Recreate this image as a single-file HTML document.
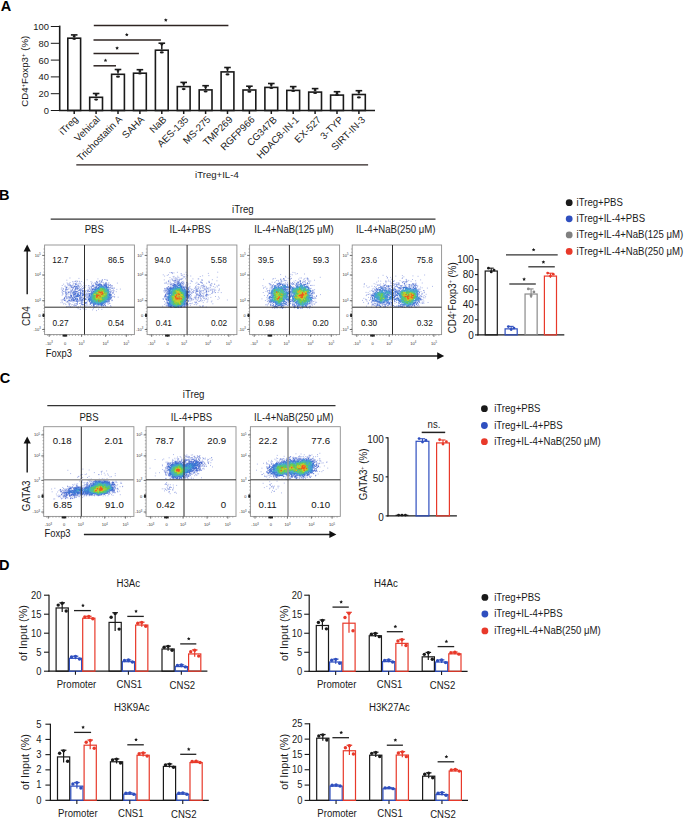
<!DOCTYPE html>
<html><head><meta charset="utf-8"><title>Figure</title>
<style>html,body{margin:0;padding:0;background:#fff;} svg{display:block;} text{font-family:"Liberation Sans", sans-serif;}</style>
</head><body>
<svg width="685" height="818" viewBox="0 0 685 818" font-family='"Liberation Sans", sans-serif'>
<rect width="685" height="818" fill="#fff"/>
<text x="0.7" y="10.7" font-size="14.5" font-weight="bold" fill="#000">A</text>
<text x="-1" y="199.5" font-size="14.5" font-weight="bold" fill="#000">B</text>
<text x="-0.3" y="383.2" font-size="14.5" font-weight="bold" fill="#000">C</text>
<text x="-1" y="569.5" font-size="14.5" font-weight="bold" fill="#000">D</text>
<line x1="59.7" y1="25.6" x2="59.7" y2="111" stroke="#1a1a1a" stroke-width="1.6"/>
<line x1="50.8" y1="110.5" x2="59.7" y2="110.5" stroke="#1a1a1a" stroke-width="1"/>
<text x="48.9" y="113.9" font-size="9.4" text-anchor="end" fill="#1a1a1a">0</text>
<line x1="50.8" y1="93.7" x2="59.7" y2="93.7" stroke="#1a1a1a" stroke-width="1"/>
<text x="48.9" y="97.1" font-size="9.4" text-anchor="end" fill="#1a1a1a">20</text>
<line x1="50.8" y1="76.9" x2="59.7" y2="76.9" stroke="#1a1a1a" stroke-width="1"/>
<text x="48.9" y="80.3" font-size="9.4" text-anchor="end" fill="#1a1a1a">40</text>
<line x1="50.8" y1="60.1" x2="59.7" y2="60.1" stroke="#1a1a1a" stroke-width="1"/>
<text x="48.9" y="63.5" font-size="9.4" text-anchor="end" fill="#1a1a1a">60</text>
<line x1="50.8" y1="43.3" x2="59.7" y2="43.3" stroke="#1a1a1a" stroke-width="1"/>
<text x="48.9" y="46.7" font-size="9.4" text-anchor="end" fill="#1a1a1a">80</text>
<line x1="50.8" y1="26.5" x2="59.7" y2="26.5" stroke="#1a1a1a" stroke-width="1"/>
<text x="48.9" y="29.9" font-size="9.4" text-anchor="end" fill="#1a1a1a">100</text>
<line x1="58.9" y1="110.5" x2="375" y2="110.5" stroke="#1a1a1a" stroke-width="1.5"/>
<text x="0" y="0" font-size="9.7" text-anchor="middle" transform="translate(28.3,71.3) rotate(-90)" fill="#1a1a1a">CD4<tspan font-size="6" baseline-shift="super">+</tspan>Foxp3<tspan font-size="6" baseline-shift="super">+</tspan> (%)</text>
<rect x="67.8" y="38.2" width="12.8" height="72.3" stroke="#1a1a1a" stroke-width="1.6" fill="none"/>
<line x1="74.2" y1="37.4" x2="74.2" y2="34.9" stroke="#1a1a1a" stroke-width="1.5"/>
<line x1="70.9" y1="34.9" x2="77.5" y2="34.9" stroke="#1a1a1a" stroke-width="1.6"/>
<ellipse cx="74.2" cy="38.8" rx="2.0" ry="1.1" fill="#1a1a1a"/>
<ellipse cx="74.2" cy="36.2" rx="1.5" ry="0.9" fill="#1a1a1a"/>
<line x1="74.2" y1="110.5" x2="74.2" y2="114" stroke="#1a1a1a" stroke-width="1.5"/>
<text x="0" y="0" font-size="9.8" text-anchor="end" transform="translate(78.6,119.9) rotate(-45)" fill="#1a1a1a">iTreg</text>
<rect x="89.7" y="97.3" width="12.8" height="13.2" stroke="#1a1a1a" stroke-width="1.6" fill="none"/>
<line x1="96.1" y1="96.5" x2="96.1" y2="93.5" stroke="#1a1a1a" stroke-width="1.5"/>
<line x1="92.8" y1="93.5" x2="99.4" y2="93.5" stroke="#1a1a1a" stroke-width="1.6"/>
<ellipse cx="96.1" cy="99.6" rx="2.0" ry="1.1" fill="#1a1a1a"/>
<ellipse cx="96.1" cy="94.8" rx="1.5" ry="0.9" fill="#1a1a1a"/>
<line x1="96.1" y1="110.5" x2="96.1" y2="114" stroke="#1a1a1a" stroke-width="1.5"/>
<text x="0" y="0" font-size="9.8" text-anchor="end" transform="translate(100.7,119.94) rotate(-45)" fill="#1a1a1a">Vehical</text>
<rect x="111.6" y="74.3" width="12.8" height="36.2" stroke="#1a1a1a" stroke-width="1.6" fill="none"/>
<line x1="118" y1="73.5" x2="118" y2="69.5" stroke="#1a1a1a" stroke-width="1.5"/>
<line x1="114.7" y1="69.5" x2="121.3" y2="69.5" stroke="#1a1a1a" stroke-width="1.6"/>
<ellipse cx="118" cy="76.7" rx="2.0" ry="1.1" fill="#1a1a1a"/>
<ellipse cx="118" cy="70.8" rx="1.5" ry="0.9" fill="#1a1a1a"/>
<line x1="118" y1="110.5" x2="118" y2="114" stroke="#1a1a1a" stroke-width="1.5"/>
<text x="0" y="0" font-size="9.8" text-anchor="end" transform="translate(122.8,119.98) rotate(-45)" fill="#1a1a1a">Trichostatin A</text>
<rect x="133.5" y="73.2" width="12.8" height="37.3" stroke="#1a1a1a" stroke-width="1.6" fill="none"/>
<line x1="139.9" y1="72.4" x2="139.9" y2="69.7" stroke="#1a1a1a" stroke-width="1.5"/>
<line x1="136.6" y1="69.7" x2="143.2" y2="69.7" stroke="#1a1a1a" stroke-width="1.6"/>
<ellipse cx="139.9" cy="73.5" rx="2.0" ry="1.1" fill="#1a1a1a"/>
<ellipse cx="139.9" cy="71" rx="1.5" ry="0.9" fill="#1a1a1a"/>
<line x1="139.9" y1="110.5" x2="139.9" y2="114" stroke="#1a1a1a" stroke-width="1.5"/>
<text x="0" y="0" font-size="9.8" text-anchor="end" transform="translate(144.9,120.02) rotate(-45)" fill="#1a1a1a">SAHA</text>
<rect x="155.4" y="50.2" width="12.8" height="60.3" stroke="#1a1a1a" stroke-width="1.6" fill="none"/>
<line x1="161.8" y1="49.4" x2="161.8" y2="43.2" stroke="#1a1a1a" stroke-width="1.5"/>
<line x1="158.5" y1="43.2" x2="165.1" y2="43.2" stroke="#1a1a1a" stroke-width="1.6"/>
<ellipse cx="161.8" cy="52.4" rx="2.0" ry="1.1" fill="#1a1a1a"/>
<ellipse cx="161.8" cy="44.5" rx="1.5" ry="0.9" fill="#1a1a1a"/>
<line x1="161.8" y1="110.5" x2="161.8" y2="114" stroke="#1a1a1a" stroke-width="1.5"/>
<text x="0" y="0" font-size="9.8" text-anchor="end" transform="translate(167,120.06) rotate(-45)" fill="#1a1a1a">NaB</text>
<rect x="177.3" y="86.6" width="12.8" height="23.9" stroke="#1a1a1a" stroke-width="1.6" fill="none"/>
<line x1="183.7" y1="85.8" x2="183.7" y2="82.4" stroke="#1a1a1a" stroke-width="1.5"/>
<line x1="180.4" y1="82.4" x2="187" y2="82.4" stroke="#1a1a1a" stroke-width="1.6"/>
<ellipse cx="183.7" cy="89.1" rx="2.0" ry="1.1" fill="#1a1a1a"/>
<ellipse cx="183.7" cy="83.7" rx="1.5" ry="0.9" fill="#1a1a1a"/>
<line x1="183.7" y1="110.5" x2="183.7" y2="114" stroke="#1a1a1a" stroke-width="1.5"/>
<text x="0" y="0" font-size="9.8" text-anchor="end" transform="translate(189.1,120.1) rotate(-45)" fill="#1a1a1a">AES-135</text>
<rect x="199.2" y="89.9" width="12.8" height="20.6" stroke="#1a1a1a" stroke-width="1.6" fill="none"/>
<line x1="205.6" y1="89.1" x2="205.6" y2="85.7" stroke="#1a1a1a" stroke-width="1.5"/>
<line x1="202.3" y1="85.7" x2="208.9" y2="85.7" stroke="#1a1a1a" stroke-width="1.6"/>
<ellipse cx="205.6" cy="91.5" rx="2.0" ry="1.1" fill="#1a1a1a"/>
<ellipse cx="205.6" cy="87" rx="1.5" ry="0.9" fill="#1a1a1a"/>
<line x1="205.6" y1="110.5" x2="205.6" y2="114" stroke="#1a1a1a" stroke-width="1.5"/>
<text x="0" y="0" font-size="9.8" text-anchor="end" transform="translate(211.2,120.14) rotate(-45)" fill="#1a1a1a">MS-275</text>
<rect x="221.1" y="71.9" width="12.8" height="38.6" stroke="#1a1a1a" stroke-width="1.6" fill="none"/>
<line x1="227.5" y1="71.1" x2="227.5" y2="67.5" stroke="#1a1a1a" stroke-width="1.5"/>
<line x1="224.2" y1="67.5" x2="230.8" y2="67.5" stroke="#1a1a1a" stroke-width="1.6"/>
<ellipse cx="227.5" cy="74.4" rx="2.0" ry="1.1" fill="#1a1a1a"/>
<ellipse cx="227.5" cy="68.8" rx="1.5" ry="0.9" fill="#1a1a1a"/>
<line x1="227.5" y1="110.5" x2="227.5" y2="114" stroke="#1a1a1a" stroke-width="1.5"/>
<text x="0" y="0" font-size="9.8" text-anchor="end" transform="translate(233.3,120.18) rotate(-45)" fill="#1a1a1a">TMP269</text>
<rect x="243" y="90" width="12.8" height="20.5" stroke="#1a1a1a" stroke-width="1.6" fill="none"/>
<line x1="249.4" y1="89.2" x2="249.4" y2="86.2" stroke="#1a1a1a" stroke-width="1.5"/>
<line x1="246.1" y1="86.2" x2="252.7" y2="86.2" stroke="#1a1a1a" stroke-width="1.6"/>
<ellipse cx="249.4" cy="91.7" rx="2.0" ry="1.1" fill="#1a1a1a"/>
<ellipse cx="249.4" cy="87.5" rx="1.5" ry="0.9" fill="#1a1a1a"/>
<line x1="249.4" y1="110.5" x2="249.4" y2="114" stroke="#1a1a1a" stroke-width="1.5"/>
<text x="0" y="0" font-size="9.8" text-anchor="end" transform="translate(255.4,120.22) rotate(-45)" fill="#1a1a1a">RGFP966</text>
<rect x="264.9" y="87.4" width="12.8" height="23.1" stroke="#1a1a1a" stroke-width="1.6" fill="none"/>
<line x1="271.3" y1="86.6" x2="271.3" y2="83.5" stroke="#1a1a1a" stroke-width="1.5"/>
<line x1="268" y1="83.5" x2="274.6" y2="83.5" stroke="#1a1a1a" stroke-width="1.6"/>
<ellipse cx="271.3" cy="88" rx="2.0" ry="1.1" fill="#1a1a1a"/>
<ellipse cx="271.3" cy="84.8" rx="1.5" ry="0.9" fill="#1a1a1a"/>
<line x1="271.3" y1="110.5" x2="271.3" y2="114" stroke="#1a1a1a" stroke-width="1.5"/>
<text x="0" y="0" font-size="9.8" text-anchor="end" transform="translate(277.5,120.26) rotate(-45)" fill="#1a1a1a">CG347B</text>
<rect x="286.8" y="90.4" width="12.8" height="20.1" stroke="#1a1a1a" stroke-width="1.6" fill="none"/>
<line x1="293.2" y1="89.6" x2="293.2" y2="86.6" stroke="#1a1a1a" stroke-width="1.5"/>
<line x1="289.9" y1="86.6" x2="296.5" y2="86.6" stroke="#1a1a1a" stroke-width="1.6"/>
<ellipse cx="293.2" cy="91" rx="2.0" ry="1.1" fill="#1a1a1a"/>
<ellipse cx="293.2" cy="87.9" rx="1.5" ry="0.9" fill="#1a1a1a"/>
<line x1="293.2" y1="110.5" x2="293.2" y2="114" stroke="#1a1a1a" stroke-width="1.5"/>
<text x="0" y="0" font-size="9.8" text-anchor="end" transform="translate(299.6,120.3) rotate(-45)" fill="#1a1a1a">HDAC8-IN-1</text>
<rect x="308.7" y="92.1" width="12.8" height="18.4" stroke="#1a1a1a" stroke-width="1.6" fill="none"/>
<line x1="315.1" y1="91.3" x2="315.1" y2="88.6" stroke="#1a1a1a" stroke-width="1.5"/>
<line x1="311.8" y1="88.6" x2="318.4" y2="88.6" stroke="#1a1a1a" stroke-width="1.6"/>
<ellipse cx="315.1" cy="93" rx="2.0" ry="1.1" fill="#1a1a1a"/>
<ellipse cx="315.1" cy="89.9" rx="1.5" ry="0.9" fill="#1a1a1a"/>
<line x1="315.1" y1="110.5" x2="315.1" y2="114" stroke="#1a1a1a" stroke-width="1.5"/>
<text x="0" y="0" font-size="9.8" text-anchor="end" transform="translate(321.7,120.34) rotate(-45)" fill="#1a1a1a">EX-527</text>
<rect x="330.6" y="95.1" width="12.8" height="15.4" stroke="#1a1a1a" stroke-width="1.6" fill="none"/>
<line x1="337" y1="94.3" x2="337" y2="91.7" stroke="#1a1a1a" stroke-width="1.5"/>
<line x1="333.7" y1="91.7" x2="340.3" y2="91.7" stroke="#1a1a1a" stroke-width="1.6"/>
<ellipse cx="337" cy="95" rx="2.0" ry="1.1" fill="#1a1a1a"/>
<ellipse cx="337" cy="93" rx="1.5" ry="0.9" fill="#1a1a1a"/>
<line x1="337" y1="110.5" x2="337" y2="114" stroke="#1a1a1a" stroke-width="1.5"/>
<text x="0" y="0" font-size="9.8" text-anchor="end" transform="translate(343.8,120.38) rotate(-45)" fill="#1a1a1a">3-TYP</text>
<rect x="352.5" y="94.5" width="12.8" height="16" stroke="#1a1a1a" stroke-width="1.6" fill="none"/>
<line x1="358.9" y1="93.7" x2="358.9" y2="90.7" stroke="#1a1a1a" stroke-width="1.5"/>
<line x1="355.6" y1="90.7" x2="362.2" y2="90.7" stroke="#1a1a1a" stroke-width="1.6"/>
<ellipse cx="358.9" cy="97.4" rx="2.0" ry="1.1" fill="#1a1a1a"/>
<ellipse cx="358.9" cy="92" rx="1.5" ry="0.9" fill="#1a1a1a"/>
<line x1="358.9" y1="110.5" x2="358.9" y2="114" stroke="#1a1a1a" stroke-width="1.5"/>
<text x="0" y="0" font-size="9.8" text-anchor="end" transform="translate(365.9,120.42) rotate(-45)" fill="#1a1a1a">SIRT-IN-3</text>
<line x1="93.8" y1="25.6" x2="228.4" y2="25.6" stroke="#2e2422" stroke-width="1.5"/>
<polygon points="165.8,18.2 166.36,19.33 167.61,19.51 166.7,20.39 166.92,21.64 165.8,21.05 164.68,21.64 164.9,20.39 163.99,19.51 165.24,19.33" fill="#1a1a1a"/>
<line x1="93.5" y1="40.1" x2="160.9" y2="40.1" stroke="#2e2422" stroke-width="1.5"/>
<polygon points="126.8,32.8 127.36,33.93 128.61,34.11 127.7,34.99 127.92,36.24 126.8,35.65 125.68,36.24 125.9,34.99 124.99,34.11 126.24,33.93" fill="#1a1a1a"/>
<line x1="93.5" y1="53.4" x2="138.9" y2="53.4" stroke="#2e2422" stroke-width="1.5"/>
<polygon points="117.1,46.2 117.66,47.33 118.91,47.51 118,48.39 118.22,49.64 117.1,49.05 115.98,49.64 116.2,48.39 115.29,47.51 116.54,47.33" fill="#1a1a1a"/>
<line x1="93.5" y1="65.8" x2="116" y2="65.8" stroke="#2e2422" stroke-width="1.5"/>
<polygon points="105.5,58.5 106.06,59.63 107.31,59.81 106.4,60.69 106.62,61.94 105.5,61.35 104.38,61.94 104.6,60.69 103.69,59.81 104.94,59.63" fill="#1a1a1a"/>
<line x1="76.3" y1="164.8" x2="368.1" y2="164.8" stroke="#2b2220" stroke-width="1.3"/>
<text x="0" y="0" font-size="9.6" transform="translate(195.1,177.9) scale(1,0.92)" fill="#1a1a1a">iTreg+IL-4</text>
<text x="0" y="0" font-size="9.7" text-anchor="middle" transform="translate(242.9,212.8) scale(1,1.12)" fill="#1a1a1a">iTreg</text>
<line x1="50.7" y1="219.2" x2="435.5" y2="219.2" stroke="#333" stroke-width="1.3"/>
<text x="0" y="0" font-size="9.6" text-anchor="middle" transform="translate(94.3,232.5) scale(1,1.12)" fill="#1a1a1a">PBS</text>
<text x="0" y="0" font-size="9.6" text-anchor="middle" transform="translate(190.2,232.5) scale(1,1.12)" fill="#1a1a1a">IL-4+PBS</text>
<text x="0" y="0" font-size="9.6" text-anchor="middle" transform="translate(294,232.5) scale(1,1.12)" fill="#1a1a1a">IL-4+NaB(125 μM)</text>
<text x="0" y="0" font-size="9.6" text-anchor="middle" transform="translate(395.8,232.5) scale(1,1.12)" fill="#1a1a1a">IL-4+NaB(250 μM)</text>
<text x="0" y="0" font-size="9.7" text-anchor="middle" transform="translate(193.6,397.8) scale(1,1.12)" fill="#1a1a1a">iTreg</text>
<line x1="47.3" y1="405.6" x2="335.5" y2="405.6" stroke="#333" stroke-width="1.3"/>
<text x="0" y="0" font-size="9.6" text-anchor="middle" transform="translate(89,420.6) scale(1,1.12)" fill="#1a1a1a">PBS</text>
<text x="0" y="0" font-size="9.6" text-anchor="middle" transform="translate(191.5,420.6) scale(1,1.12)" fill="#1a1a1a">IL-4+PBS</text>
<text x="0" y="0" font-size="9.6" text-anchor="middle" transform="translate(293.8,420.6) scale(1,1.12)" fill="#1a1a1a">IL-4+NaB(250 μM)</text>
<line x1="27.2" y1="294.3" x2="27.2" y2="250.4" stroke="#222" stroke-width="1.5"/>
<path d="M23.6 251.4 L27.2 244.4 L30.8 251.4 Z" fill="#111"/>
<text x="0" y="0" font-size="10.3" text-anchor="middle" transform="translate(30.3,316.2) rotate(-90) scale(0.96,1)" fill="#1a1a1a">CD4</text>
<text x="0" y="0" font-size="9.4" transform="translate(45.8,357.1) scale(1,1.12)" fill="#1a1a1a">Foxp3</text>
<line x1="89.1" y1="355.9" x2="438.2" y2="355.9" stroke="#222" stroke-width="1.5"/>
<path d="M437.2 352.3 L444.2 355.9 L437.2 359.5 Z" fill="#111"/>
<line x1="27.2" y1="472.6" x2="27.2" y2="442.6" stroke="#222" stroke-width="1.5"/>
<path d="M23.6 443.6 L27.2 436.6 L30.8 443.6 Z" fill="#111"/>
<text x="0" y="0" font-size="10.3" text-anchor="middle" transform="translate(30.3,495.9) rotate(-90) scale(0.95,1)" fill="#1a1a1a">GATA3</text>
<text x="0" y="0" font-size="9.4" transform="translate(44.5,537) scale(1,1.12)" fill="#1a1a1a">Foxp3</text>
<line x1="83.9" y1="534.4" x2="330.4" y2="534.4" stroke="#222" stroke-width="1.5"/>
<path d="M329.4 530.8 L336.4 534.4 L329.4 538 Z" fill="#111"/>
<line x1="478" y1="259" x2="478" y2="335.5" stroke="#1a1a1a" stroke-width="1.2"/>
<line x1="475" y1="334.9" x2="478" y2="334.9" stroke="#1a1a1a" stroke-width="1.1"/>
<text x="0" y="0" font-size="10" text-anchor="end" transform="translate(473.9,338.5) scale(1,1.12)" fill="#1a1a1a">0</text>
<line x1="475" y1="319.82" x2="478" y2="319.82" stroke="#1a1a1a" stroke-width="1.1"/>
<text x="0" y="0" font-size="10" text-anchor="end" transform="translate(473.9,323.42) scale(1,1.12)" fill="#1a1a1a">20</text>
<line x1="475" y1="304.74" x2="478" y2="304.74" stroke="#1a1a1a" stroke-width="1.1"/>
<text x="0" y="0" font-size="10" text-anchor="end" transform="translate(473.9,308.34) scale(1,1.12)" fill="#1a1a1a">40</text>
<line x1="475" y1="289.66" x2="478" y2="289.66" stroke="#1a1a1a" stroke-width="1.1"/>
<text x="0" y="0" font-size="10" text-anchor="end" transform="translate(473.9,293.26) scale(1,1.12)" fill="#1a1a1a">60</text>
<line x1="475" y1="274.58" x2="478" y2="274.58" stroke="#1a1a1a" stroke-width="1.1"/>
<text x="0" y="0" font-size="10" text-anchor="end" transform="translate(473.9,278.18) scale(1,1.12)" fill="#1a1a1a">80</text>
<line x1="475" y1="259.5" x2="478" y2="259.5" stroke="#1a1a1a" stroke-width="1.1"/>
<text x="0" y="0" font-size="10" text-anchor="end" transform="translate(473.9,263.1) scale(1,1.12)" fill="#1a1a1a">100</text>
<line x1="477.4" y1="334.9" x2="564.3" y2="334.9" stroke="#1a1a1a" stroke-width="1.3"/>
<text x="0" y="0" font-size="10.6" text-anchor="middle" transform="translate(455.6,297.7) rotate(-90) scale(0.92,1)" fill="#1a1a1a">CD4<tspan font-size="6" baseline-shift="super">+</tspan>Foxp3<tspan font-size="6" baseline-shift="super">+</tspan> (%)</text>
<rect x="485.2" y="271.03" width="12.1" height="63.87" stroke="#1a1a1a" stroke-width="1.2" fill="none"/>
<line x1="491.25" y1="272.69" x2="491.25" y2="268.17" stroke="#1a1a1a" stroke-width="1.1"/>
<line x1="488.75" y1="268.17" x2="493.75" y2="268.17" stroke="#1a1a1a" stroke-width="1.1"/>
<circle cx="488.45" cy="268.17" r="1.4" fill="#1a1a1a"/>
<circle cx="491.25" cy="271.94" r="1.4" fill="#1a1a1a"/>
<circle cx="494.05" cy="270.06" r="1.4" fill="#1a1a1a"/>
<rect x="505.1" y="328.86" width="12.1" height="6.04" stroke="#2f4fbf" stroke-width="1.2" fill="none"/>
<line x1="511.15" y1="330.15" x2="511.15" y2="326.38" stroke="#2f4fbf" stroke-width="1.1"/>
<line x1="508.65" y1="326.38" x2="513.65" y2="326.38" stroke="#2f4fbf" stroke-width="1.1"/>
<circle cx="508.35" cy="326.61" r="1.4" fill="#2f4fbf"/>
<circle cx="511.15" cy="329.62" r="1.4" fill="#2f4fbf"/>
<circle cx="513.95" cy="328.11" r="1.4" fill="#2f4fbf"/>
<rect x="525.05" y="294.03" width="12.1" height="40.87" stroke="#8a8a8a" stroke-width="1.2" fill="none"/>
<line x1="531.1" y1="297.95" x2="531.1" y2="288.91" stroke="#8a8a8a" stroke-width="1.1"/>
<line x1="528.6" y1="288.91" x2="533.6" y2="288.91" stroke="#8a8a8a" stroke-width="1.1"/>
<circle cx="528.3" cy="288.91" r="1.4" fill="#8a8a8a"/>
<circle cx="531.1" cy="295.69" r="1.4" fill="#8a8a8a"/>
<circle cx="533.9" cy="291.92" r="1.4" fill="#8a8a8a"/>
<rect x="544.4" y="276.08" width="12.1" height="58.82" stroke="#e8392a" stroke-width="1.2" fill="none"/>
<line x1="550.45" y1="277.75" x2="550.45" y2="273.22" stroke="#e8392a" stroke-width="1.1"/>
<line x1="547.95" y1="273.22" x2="552.95" y2="273.22" stroke="#e8392a" stroke-width="1.1"/>
<circle cx="547.65" cy="273.07" r="1.4" fill="#e8392a"/>
<circle cx="550.45" cy="276.09" r="1.4" fill="#e8392a"/>
<circle cx="553.25" cy="274.2" r="1.4" fill="#e8392a"/>
<line x1="506" y1="254.8" x2="557.7" y2="254.8" stroke="#333" stroke-width="1.3"/>
<polygon points="533.6,247.9 534.16,249.03 535.41,249.21 534.5,250.09 534.72,251.34 533.6,250.75 532.48,251.34 532.7,250.09 531.79,249.21 533.04,249.03" fill="#1a1a1a"/>
<line x1="528.3" y1="266.8" x2="554.8" y2="266.8" stroke="#333" stroke-width="1.3"/>
<polygon points="543.4,260.2 543.96,261.33 545.21,261.51 544.3,262.39 544.52,263.64 543.4,263.05 542.28,263.64 542.5,262.39 541.59,261.51 542.84,261.33" fill="#1a1a1a"/>
<line x1="509.3" y1="284" x2="535.8" y2="284" stroke="#333" stroke-width="1.3"/>
<polygon points="524.1,277.3 524.66,278.43 525.91,278.61 525,279.49 525.22,280.74 524.1,280.15 522.98,280.74 523.2,279.49 522.29,278.61 523.54,278.43" fill="#1a1a1a"/>
<circle cx="569.2" cy="202.7" r="3.4" fill="#1a1a1a"/>
<text x="0" y="0" font-size="9.6" transform="translate(576.6,206.1) scale(1,1.12)" fill="#1a1a1a">iTreg+PBS</text>
<circle cx="569.2" cy="218.8" r="3.4" fill="#2f4fbf"/>
<text x="0" y="0" font-size="9.6" transform="translate(576.6,222.2) scale(1,1.12)" fill="#1a1a1a">iTreg+IL-4+PBS</text>
<circle cx="569.2" cy="234.9" r="3.4" fill="#808080"/>
<text x="0" y="0" font-size="9.6" transform="translate(576.6,238.3) scale(1,1.12)" fill="#1a1a1a">iTreg+IL-4+NaB(125 μM)</text>
<circle cx="569.2" cy="251.4" r="3.4" fill="#e8392a"/>
<text x="0" y="0" font-size="9.6" transform="translate(576.6,254.8) scale(1,1.12)" fill="#1a1a1a">iTreg+IL-4+NaB(250 μM)</text>
<line x1="388" y1="437.3" x2="388" y2="516.5" stroke="#1a1a1a" stroke-width="1.2"/>
<line x1="385.6" y1="515.9" x2="388" y2="515.9" stroke="#1a1a1a" stroke-width="1.1"/>
<text x="0" y="0" font-size="10" text-anchor="end" transform="translate(383.8,520.9) scale(1,1.12)" fill="#1a1a1a">0</text>
<line x1="385.6" y1="476.85" x2="388" y2="476.85" stroke="#1a1a1a" stroke-width="1.1"/>
<text x="0" y="0" font-size="10" text-anchor="end" transform="translate(383.8,481.85) scale(1,1.12)" fill="#1a1a1a">50</text>
<line x1="385.6" y1="437.8" x2="388" y2="437.8" stroke="#1a1a1a" stroke-width="1.1"/>
<text x="0" y="0" font-size="10" text-anchor="end" transform="translate(383.8,442.8) scale(1,1.12)" fill="#1a1a1a">100</text>
<line x1="387.4" y1="515.9" x2="456.9" y2="515.9" stroke="#1a1a1a" stroke-width="1.3"/>
<text x="0" y="0" font-size="10.6" text-anchor="middle" transform="translate(367.3,474.4) rotate(-90) scale(0.92,1)" fill="#1a1a1a">GATA3<tspan font-size="6" baseline-shift="super">+</tspan> (%)</text>
<line x1="395.6" y1="515.3" x2="408.4" y2="515.3" stroke="#1a1a1a" stroke-width="1.2"/>
<circle cx="398.6" cy="515.12" r="1.4" fill="#1a1a1a"/>
<circle cx="402" cy="515.12" r="1.4" fill="#1a1a1a"/>
<circle cx="405.4" cy="515.12" r="1.4" fill="#1a1a1a"/>
<rect x="416.1" y="441.29" width="12.8" height="74.61" stroke="#2f4fbf" stroke-width="1.2" fill="none"/>
<line x1="422.5" y1="442.64" x2="422.5" y2="438.74" stroke="#2f4fbf" stroke-width="1.1"/>
<line x1="420" y1="438.74" x2="425" y2="438.74" stroke="#2f4fbf" stroke-width="1.1"/>
<circle cx="419.1" cy="438.58" r="1.4" fill="#2f4fbf"/>
<circle cx="422.5" cy="442.1" r="1.4" fill="#2f4fbf"/>
<circle cx="425.9" cy="440.14" r="1.4" fill="#2f4fbf"/>
<rect x="436.6" y="442.93" width="12.8" height="72.97" stroke="#e8392a" stroke-width="1.2" fill="none"/>
<line x1="443" y1="444.67" x2="443" y2="439.99" stroke="#e8392a" stroke-width="1.1"/>
<line x1="440.5" y1="439.99" x2="445.5" y2="439.99" stroke="#e8392a" stroke-width="1.1"/>
<circle cx="439.6" cy="439.75" r="1.4" fill="#e8392a"/>
<circle cx="443" cy="444.05" r="1.4" fill="#e8392a"/>
<circle cx="446.4" cy="441.7" r="1.4" fill="#e8392a"/>
<line x1="421.7" y1="432.4" x2="445.2" y2="432.4" stroke="#222" stroke-width="1.5"/>
<text x="0" y="0" font-size="9.6" text-anchor="middle" transform="translate(434,427.5) scale(1,1.12)" fill="#1a1a1a">ns.</text>
<circle cx="484.4" cy="408.7" r="3.4" fill="#1a1a1a"/>
<text x="0" y="0" font-size="9.6" transform="translate(494.2,412.1) scale(1,1.12)" fill="#1a1a1a">iTreg+PBS</text>
<circle cx="484.4" cy="425.5" r="3.4" fill="#2f4fbf"/>
<text x="0" y="0" font-size="9.6" transform="translate(494.2,428.9) scale(1,1.12)" fill="#1a1a1a">iTreg+IL-4+PBS</text>
<circle cx="484.4" cy="441.7" r="3.4" fill="#e8392a"/>
<text x="0" y="0" font-size="9.6" transform="translate(494.2,445.1) scale(1,1.12)" fill="#1a1a1a">iTreg+IL-4+NaB(250 μM)</text>
<circle cx="484.9" cy="597.4" r="3.4" fill="#1a1a1a"/>
<text x="0" y="0" font-size="9.6" transform="translate(494.2,600.8) scale(1,1.12)" fill="#1a1a1a">iTreg+PBS</text>
<circle cx="484.9" cy="614" r="3.4" fill="#2f4fbf"/>
<text x="0" y="0" font-size="9.6" transform="translate(494.2,617.4) scale(1,1.12)" fill="#1a1a1a">iTreg+IL-4+PBS</text>
<circle cx="484.9" cy="630.9" r="3.4" fill="#e8392a"/>
<text x="0" y="0" font-size="9.6" transform="translate(494.2,634.3) scale(1,1.12)" fill="#1a1a1a">iTreg+IL-4+NaB(250 μM)</text>
<line x1="49" y1="594.7" x2="49" y2="671.8" stroke="#1a1a1a" stroke-width="1.2"/>
<line x1="44" y1="671.2" x2="49" y2="671.2" stroke="#1a1a1a" stroke-width="1.1"/>
<text x="0" y="0" font-size="9.4" text-anchor="end" transform="translate(41.5,674.6) scale(1,1.12)" fill="#1a1a1a">0</text>
<line x1="44" y1="652.2" x2="49" y2="652.2" stroke="#1a1a1a" stroke-width="1.1"/>
<text x="0" y="0" font-size="9.4" text-anchor="end" transform="translate(41.5,655.6) scale(1,1.12)" fill="#1a1a1a">5</text>
<line x1="44" y1="633.2" x2="49" y2="633.2" stroke="#1a1a1a" stroke-width="1.1"/>
<text x="0" y="0" font-size="9.4" text-anchor="end" transform="translate(41.5,636.6) scale(1,1.12)" fill="#1a1a1a">10</text>
<line x1="44" y1="614.2" x2="49" y2="614.2" stroke="#1a1a1a" stroke-width="1.1"/>
<text x="0" y="0" font-size="9.4" text-anchor="end" transform="translate(41.5,617.6) scale(1,1.12)" fill="#1a1a1a">15</text>
<line x1="44" y1="595.2" x2="49" y2="595.2" stroke="#1a1a1a" stroke-width="1.1"/>
<text x="0" y="0" font-size="9.4" text-anchor="end" transform="translate(41.5,598.6) scale(1,1.12)" fill="#1a1a1a">20</text>
<line x1="48.4" y1="671.2" x2="207.4" y2="671.2" stroke="#1a1a1a" stroke-width="1.3"/>
<text x="0" y="0" font-size="9.7" text-anchor="middle" transform="translate(128.3,587) scale(1,1.12)" fill="#1a1a1a">H3Ac</text>
<text x="0" y="0" font-size="10.8" text-anchor="middle" transform="translate(27.3,633) rotate(-90)" fill="#1a1a1a">of Input (%)</text>
<rect x="56.1" y="607.96" width="12.2" height="63.24" stroke="#1a1a1a" stroke-width="1.2" fill="none"/>
<line x1="62.2" y1="611.92" x2="62.2" y2="602.8" stroke="#1a1a1a" stroke-width="1.2"/>
<line x1="59.4" y1="602.8" x2="65" y2="602.8" stroke="#1a1a1a" stroke-width="1.2"/>
<circle cx="58.2" cy="605.08" r="1.7" fill="#1a1a1a"/>
<circle cx="62.2" cy="603.26" r="1.7" fill="#1a1a1a"/>
<circle cx="66.2" cy="611.01" r="1.7" fill="#1a1a1a"/>
<rect x="69.4" y="658.31" width="12.2" height="12.89" stroke="#2f4fbf" stroke-width="1.2" fill="none"/>
<line x1="75.5" y1="659.23" x2="75.5" y2="656.19" stroke="#2f4fbf" stroke-width="1.2"/>
<line x1="72.7" y1="656.19" x2="78.3" y2="656.19" stroke="#2f4fbf" stroke-width="1.2"/>
<circle cx="71.5" cy="656.95" r="1.7" fill="#2f4fbf"/>
<circle cx="75.5" cy="656.34" r="1.7" fill="#2f4fbf"/>
<circle cx="79.5" cy="658.93" r="1.7" fill="#2f4fbf"/>
<rect x="82.7" y="618.22" width="12.2" height="52.98" stroke="#e8392a" stroke-width="1.2" fill="none"/>
<line x1="88.8" y1="618.95" x2="88.8" y2="616.29" stroke="#e8392a" stroke-width="1.2"/>
<line x1="86" y1="616.29" x2="91.6" y2="616.29" stroke="#e8392a" stroke-width="1.2"/>
<circle cx="84.8" cy="616.96" r="1.7" fill="#e8392a"/>
<circle cx="88.8" cy="616.42" r="1.7" fill="#e8392a"/>
<circle cx="92.8" cy="618.68" r="1.7" fill="#e8392a"/>
<line x1="75.45" y1="671.2" x2="75.45" y2="674.8" stroke="#1a1a1a" stroke-width="1.1"/>
<text x="0" y="0" font-size="9.6" text-anchor="middle" transform="translate(76.45,687.8) scale(1,1.12)" fill="#1a1a1a">Promoter</text>
<rect x="109.05" y="622.4" width="12.2" height="48.8" stroke="#1a1a1a" stroke-width="1.2" fill="none"/>
<line x1="115.15" y1="630.92" x2="115.15" y2="612.68" stroke="#1a1a1a" stroke-width="1.2"/>
<line x1="112.35" y1="612.68" x2="117.95" y2="612.68" stroke="#1a1a1a" stroke-width="1.2"/>
<circle cx="111.15" cy="617.24" r="1.7" fill="#1a1a1a"/>
<circle cx="115.15" cy="613.59" r="1.7" fill="#1a1a1a"/>
<circle cx="119.15" cy="629.1" r="1.7" fill="#1a1a1a"/>
<rect x="122.35" y="661.69" width="12.2" height="9.51" stroke="#2f4fbf" stroke-width="1.2" fill="none"/>
<line x1="128.45" y1="662.23" x2="128.45" y2="659.95" stroke="#2f4fbf" stroke-width="1.2"/>
<line x1="125.65" y1="659.95" x2="131.25" y2="659.95" stroke="#2f4fbf" stroke-width="1.2"/>
<circle cx="124.45" cy="660.52" r="1.7" fill="#2f4fbf"/>
<circle cx="128.45" cy="660.07" r="1.7" fill="#2f4fbf"/>
<circle cx="132.45" cy="662" r="1.7" fill="#2f4fbf"/>
<rect x="135.65" y="625.06" width="12.2" height="46.14" stroke="#e8392a" stroke-width="1.2" fill="none"/>
<line x1="141.75" y1="626.74" x2="141.75" y2="622.18" stroke="#e8392a" stroke-width="1.2"/>
<line x1="138.95" y1="622.18" x2="144.55" y2="622.18" stroke="#e8392a" stroke-width="1.2"/>
<circle cx="137.75" cy="623.32" r="1.7" fill="#e8392a"/>
<circle cx="141.75" cy="622.41" r="1.7" fill="#e8392a"/>
<circle cx="145.75" cy="626.28" r="1.7" fill="#e8392a"/>
<line x1="128.4" y1="671.2" x2="128.4" y2="674.8" stroke="#1a1a1a" stroke-width="1.1"/>
<text x="0" y="0" font-size="9.6" text-anchor="middle" transform="translate(129.4,687.8) scale(1,1.12)" fill="#1a1a1a">CNS1</text>
<rect x="162" y="649" width="12.2" height="22.2" stroke="#1a1a1a" stroke-width="1.2" fill="none"/>
<line x1="168.1" y1="650.68" x2="168.1" y2="646.12" stroke="#1a1a1a" stroke-width="1.2"/>
<line x1="165.3" y1="646.12" x2="170.9" y2="646.12" stroke="#1a1a1a" stroke-width="1.2"/>
<circle cx="164.1" cy="647.26" r="1.7" fill="#1a1a1a"/>
<circle cx="168.1" cy="646.35" r="1.7" fill="#1a1a1a"/>
<circle cx="172.1" cy="650.22" r="1.7" fill="#1a1a1a"/>
<rect x="175.3" y="666.59" width="12.2" height="4.61" stroke="#2f4fbf" stroke-width="1.2" fill="none"/>
<line x1="181.4" y1="667.13" x2="181.4" y2="664.85" stroke="#2f4fbf" stroke-width="1.2"/>
<line x1="178.6" y1="664.85" x2="184.2" y2="664.85" stroke="#2f4fbf" stroke-width="1.2"/>
<circle cx="177.4" cy="665.42" r="1.7" fill="#2f4fbf"/>
<circle cx="181.4" cy="664.97" r="1.7" fill="#2f4fbf"/>
<circle cx="185.4" cy="666.91" r="1.7" fill="#2f4fbf"/>
<rect x="188.6" y="653.94" width="12.2" height="17.26" stroke="#e8392a" stroke-width="1.2" fill="none"/>
<line x1="194.7" y1="656.76" x2="194.7" y2="649.92" stroke="#e8392a" stroke-width="1.2"/>
<line x1="191.9" y1="649.92" x2="197.5" y2="649.92" stroke="#e8392a" stroke-width="1.2"/>
<circle cx="190.7" cy="651.63" r="1.7" fill="#e8392a"/>
<circle cx="194.7" cy="650.26" r="1.7" fill="#e8392a"/>
<circle cx="198.7" cy="656.08" r="1.7" fill="#e8392a"/>
<line x1="181.35" y1="671.2" x2="181.35" y2="674.8" stroke="#1a1a1a" stroke-width="1.1"/>
<text x="0" y="0" font-size="9.6" text-anchor="middle" transform="translate(182.35,688.6) scale(1,1.12)" fill="#1a1a1a">CNS2</text>
<line x1="309.2" y1="594.7" x2="309.2" y2="671.9" stroke="#1a1a1a" stroke-width="1.2"/>
<line x1="304.2" y1="671.3" x2="309.2" y2="671.3" stroke="#1a1a1a" stroke-width="1.1"/>
<text x="0" y="0" font-size="9.4" text-anchor="end" transform="translate(302.3,674.7) scale(1,1.12)" fill="#1a1a1a">0</text>
<line x1="304.2" y1="652.27" x2="309.2" y2="652.27" stroke="#1a1a1a" stroke-width="1.1"/>
<text x="0" y="0" font-size="9.4" text-anchor="end" transform="translate(302.3,655.67) scale(1,1.12)" fill="#1a1a1a">5</text>
<line x1="304.2" y1="633.25" x2="309.2" y2="633.25" stroke="#1a1a1a" stroke-width="1.1"/>
<text x="0" y="0" font-size="9.4" text-anchor="end" transform="translate(302.3,636.65) scale(1,1.12)" fill="#1a1a1a">10</text>
<line x1="304.2" y1="614.23" x2="309.2" y2="614.23" stroke="#1a1a1a" stroke-width="1.1"/>
<text x="0" y="0" font-size="9.4" text-anchor="end" transform="translate(302.3,617.62) scale(1,1.12)" fill="#1a1a1a">15</text>
<line x1="304.2" y1="595.2" x2="309.2" y2="595.2" stroke="#1a1a1a" stroke-width="1.1"/>
<text x="0" y="0" font-size="9.4" text-anchor="end" transform="translate(302.3,598.6) scale(1,1.12)" fill="#1a1a1a">20</text>
<line x1="308.6" y1="671.3" x2="467.6" y2="671.3" stroke="#1a1a1a" stroke-width="1.3"/>
<text x="0" y="0" font-size="9.7" text-anchor="middle" transform="translate(385.9,587) scale(1,1.12)" fill="#1a1a1a">H4Ac</text>
<text x="0" y="0" font-size="10.8" text-anchor="middle" transform="translate(288.4,633.05) rotate(-90)" fill="#1a1a1a">of Input (%)</text>
<rect x="316.3" y="625.48" width="12.2" height="45.82" stroke="#1a1a1a" stroke-width="1.2" fill="none"/>
<line x1="322.4" y1="629.83" x2="322.4" y2="619.93" stroke="#1a1a1a" stroke-width="1.2"/>
<line x1="319.6" y1="619.93" x2="325.2" y2="619.93" stroke="#1a1a1a" stroke-width="1.2"/>
<circle cx="318.4" cy="622.41" r="1.7" fill="#1a1a1a"/>
<circle cx="322.4" cy="620.43" r="1.7" fill="#1a1a1a"/>
<circle cx="326.4" cy="628.84" r="1.7" fill="#1a1a1a"/>
<rect x="329.6" y="662.01" width="12.2" height="9.29" stroke="#2f4fbf" stroke-width="1.2" fill="none"/>
<line x1="335.7" y1="663.69" x2="335.7" y2="659.12" stroke="#2f4fbf" stroke-width="1.2"/>
<line x1="332.9" y1="659.12" x2="338.5" y2="659.12" stroke="#2f4fbf" stroke-width="1.2"/>
<circle cx="331.7" cy="660.27" r="1.7" fill="#2f4fbf"/>
<circle cx="335.7" cy="659.35" r="1.7" fill="#2f4fbf"/>
<circle cx="339.7" cy="663.23" r="1.7" fill="#2f4fbf"/>
<rect x="342.9" y="623.2" width="12.2" height="48.1" stroke="#e8392a" stroke-width="1.2" fill="none"/>
<line x1="349" y1="632.87" x2="349" y2="612.32" stroke="#e8392a" stroke-width="1.2"/>
<line x1="346.2" y1="612.32" x2="351.8" y2="612.32" stroke="#e8392a" stroke-width="1.2"/>
<circle cx="345" cy="617.46" r="1.7" fill="#e8392a"/>
<circle cx="349" cy="613.35" r="1.7" fill="#e8392a"/>
<circle cx="353" cy="630.81" r="1.7" fill="#e8392a"/>
<line x1="335.65" y1="671.3" x2="335.65" y2="674.9" stroke="#1a1a1a" stroke-width="1.1"/>
<text x="0" y="0" font-size="9.6" text-anchor="middle" transform="translate(336.65,687.9) scale(1,1.12)" fill="#1a1a1a">Promoter</text>
<rect x="369.25" y="635.75" width="12.2" height="35.55" stroke="#1a1a1a" stroke-width="1.2" fill="none"/>
<line x1="375.35" y1="637.05" x2="375.35" y2="633.25" stroke="#1a1a1a" stroke-width="1.2"/>
<line x1="372.55" y1="633.25" x2="378.15" y2="633.25" stroke="#1a1a1a" stroke-width="1.2"/>
<circle cx="371.35" cy="634.2" r="1.7" fill="#1a1a1a"/>
<circle cx="375.35" cy="633.44" r="1.7" fill="#1a1a1a"/>
<circle cx="379.35" cy="636.67" r="1.7" fill="#1a1a1a"/>
<rect x="382.55" y="661.63" width="12.2" height="9.67" stroke="#2f4fbf" stroke-width="1.2" fill="none"/>
<line x1="388.65" y1="662.17" x2="388.65" y2="659.88" stroke="#2f4fbf" stroke-width="1.2"/>
<line x1="385.85" y1="659.88" x2="391.45" y2="659.88" stroke="#2f4fbf" stroke-width="1.2"/>
<circle cx="384.65" cy="660.46" r="1.7" fill="#2f4fbf"/>
<circle cx="388.65" cy="660" r="1.7" fill="#2f4fbf"/>
<circle cx="392.65" cy="661.94" r="1.7" fill="#2f4fbf"/>
<rect x="395.85" y="643.36" width="12.2" height="27.94" stroke="#e8392a" stroke-width="1.2" fill="none"/>
<line x1="401.95" y1="646.19" x2="401.95" y2="639.34" stroke="#e8392a" stroke-width="1.2"/>
<line x1="399.15" y1="639.34" x2="404.75" y2="639.34" stroke="#e8392a" stroke-width="1.2"/>
<circle cx="397.95" cy="641.05" r="1.7" fill="#e8392a"/>
<circle cx="401.95" cy="639.68" r="1.7" fill="#e8392a"/>
<circle cx="405.95" cy="645.5" r="1.7" fill="#e8392a"/>
<line x1="388.6" y1="671.3" x2="388.6" y2="674.9" stroke="#1a1a1a" stroke-width="1.1"/>
<text x="0" y="0" font-size="9.6" text-anchor="middle" transform="translate(389.6,687.9) scale(1,1.12)" fill="#1a1a1a">CNS1</text>
<rect x="422.2" y="656.83" width="12.2" height="14.47" stroke="#1a1a1a" stroke-width="1.2" fill="none"/>
<line x1="428.3" y1="660.04" x2="428.3" y2="652.43" stroke="#1a1a1a" stroke-width="1.2"/>
<line x1="425.5" y1="652.43" x2="431.1" y2="652.43" stroke="#1a1a1a" stroke-width="1.2"/>
<circle cx="424.3" cy="654.33" r="1.7" fill="#1a1a1a"/>
<circle cx="428.3" cy="652.81" r="1.7" fill="#1a1a1a"/>
<circle cx="432.3" cy="659.28" r="1.7" fill="#1a1a1a"/>
<rect x="435.5" y="662.01" width="12.2" height="9.29" stroke="#2f4fbf" stroke-width="1.2" fill="none"/>
<line x1="441.6" y1="662.93" x2="441.6" y2="659.88" stroke="#2f4fbf" stroke-width="1.2"/>
<line x1="438.8" y1="659.88" x2="444.4" y2="659.88" stroke="#2f4fbf" stroke-width="1.2"/>
<circle cx="437.6" cy="660.65" r="1.7" fill="#2f4fbf"/>
<circle cx="441.6" cy="660.04" r="1.7" fill="#2f4fbf"/>
<circle cx="445.6" cy="662.62" r="1.7" fill="#2f4fbf"/>
<rect x="448.8" y="653.83" width="12.2" height="17.47" stroke="#e8392a" stroke-width="1.2" fill="none"/>
<line x1="454.9" y1="654.37" x2="454.9" y2="652.08" stroke="#e8392a" stroke-width="1.2"/>
<line x1="452.1" y1="652.08" x2="457.7" y2="652.08" stroke="#e8392a" stroke-width="1.2"/>
<circle cx="450.9" cy="652.66" r="1.7" fill="#e8392a"/>
<circle cx="454.9" cy="652.2" r="1.7" fill="#e8392a"/>
<circle cx="458.9" cy="654.14" r="1.7" fill="#e8392a"/>
<line x1="441.55" y1="671.3" x2="441.55" y2="674.9" stroke="#1a1a1a" stroke-width="1.1"/>
<text x="0" y="0" font-size="9.6" text-anchor="middle" transform="translate(442.55,688.7) scale(1,1.12)" fill="#1a1a1a">CNS2</text>
<line x1="50.4" y1="723.7" x2="50.4" y2="800.9" stroke="#1a1a1a" stroke-width="1.2"/>
<line x1="45.4" y1="800.3" x2="50.4" y2="800.3" stroke="#1a1a1a" stroke-width="1.1"/>
<text x="0" y="0" font-size="9.4" text-anchor="end" transform="translate(41.4,803.7) scale(1,1.12)" fill="#1a1a1a">0</text>
<line x1="45.4" y1="785.08" x2="50.4" y2="785.08" stroke="#1a1a1a" stroke-width="1.1"/>
<text x="0" y="0" font-size="9.4" text-anchor="end" transform="translate(41.4,788.48) scale(1,1.12)" fill="#1a1a1a">1</text>
<line x1="45.4" y1="769.86" x2="50.4" y2="769.86" stroke="#1a1a1a" stroke-width="1.1"/>
<text x="0" y="0" font-size="9.4" text-anchor="end" transform="translate(41.4,773.26) scale(1,1.12)" fill="#1a1a1a">2</text>
<line x1="45.4" y1="754.64" x2="50.4" y2="754.64" stroke="#1a1a1a" stroke-width="1.1"/>
<text x="0" y="0" font-size="9.4" text-anchor="end" transform="translate(41.4,758.04) scale(1,1.12)" fill="#1a1a1a">3</text>
<line x1="45.4" y1="739.42" x2="50.4" y2="739.42" stroke="#1a1a1a" stroke-width="1.1"/>
<text x="0" y="0" font-size="9.4" text-anchor="end" transform="translate(41.4,742.82) scale(1,1.12)" fill="#1a1a1a">4</text>
<line x1="45.4" y1="724.2" x2="50.4" y2="724.2" stroke="#1a1a1a" stroke-width="1.1"/>
<text x="0" y="0" font-size="9.4" text-anchor="end" transform="translate(41.4,727.6) scale(1,1.12)" fill="#1a1a1a">5</text>
<line x1="49.8" y1="800.3" x2="208.8" y2="800.3" stroke="#1a1a1a" stroke-width="1.3"/>
<text x="0" y="0" font-size="9.7" text-anchor="middle" transform="translate(131.8,710.6) scale(1,1.12)" fill="#1a1a1a">H3K9Ac</text>
<text x="0" y="0" font-size="10.8" text-anchor="middle" transform="translate(28.5,762.05) rotate(-90)" fill="#1a1a1a">of Input (%)</text>
<rect x="57.5" y="756.91" width="12.2" height="43.39" stroke="#1a1a1a" stroke-width="1.2" fill="none"/>
<line x1="63.6" y1="762.4" x2="63.6" y2="750.23" stroke="#1a1a1a" stroke-width="1.2"/>
<line x1="60.8" y1="750.23" x2="66.4" y2="750.23" stroke="#1a1a1a" stroke-width="1.2"/>
<circle cx="59.6" cy="753.27" r="1.7" fill="#1a1a1a"/>
<circle cx="63.6" cy="750.84" r="1.7" fill="#1a1a1a"/>
<circle cx="67.6" cy="761.18" r="1.7" fill="#1a1a1a"/>
<rect x="70.8" y="786.14" width="12.2" height="14.16" stroke="#2f4fbf" stroke-width="1.2" fill="none"/>
<line x1="76.9" y1="788.58" x2="76.9" y2="782.49" stroke="#2f4fbf" stroke-width="1.2"/>
<line x1="74.1" y1="782.49" x2="79.7" y2="782.49" stroke="#2f4fbf" stroke-width="1.2"/>
<circle cx="72.9" cy="784.01" r="1.7" fill="#2f4fbf"/>
<circle cx="76.9" cy="782.8" r="1.7" fill="#2f4fbf"/>
<circle cx="80.9" cy="787.97" r="1.7" fill="#2f4fbf"/>
<rect x="84.1" y="745.19" width="12.2" height="55.11" stroke="#e8392a" stroke-width="1.2" fill="none"/>
<line x1="90.2" y1="749.16" x2="90.2" y2="740.03" stroke="#e8392a" stroke-width="1.2"/>
<line x1="87.4" y1="740.03" x2="93" y2="740.03" stroke="#e8392a" stroke-width="1.2"/>
<circle cx="86.2" cy="742.31" r="1.7" fill="#e8392a"/>
<circle cx="90.2" cy="740.49" r="1.7" fill="#e8392a"/>
<circle cx="94.2" cy="748.25" r="1.7" fill="#e8392a"/>
<line x1="76.85" y1="800.3" x2="76.85" y2="803.9" stroke="#1a1a1a" stroke-width="1.1"/>
<text x="0" y="0" font-size="9.6" text-anchor="middle" transform="translate(77.85,816.9) scale(1,1.12)" fill="#1a1a1a">Promoter</text>
<rect x="110.45" y="761.78" width="12.2" height="38.52" stroke="#1a1a1a" stroke-width="1.2" fill="none"/>
<line x1="116.55" y1="763.47" x2="116.55" y2="758.9" stroke="#1a1a1a" stroke-width="1.2"/>
<line x1="113.75" y1="758.9" x2="119.35" y2="758.9" stroke="#1a1a1a" stroke-width="1.2"/>
<circle cx="112.55" cy="760.04" r="1.7" fill="#1a1a1a"/>
<circle cx="116.55" cy="759.13" r="1.7" fill="#1a1a1a"/>
<circle cx="120.55" cy="763.01" r="1.7" fill="#1a1a1a"/>
<rect x="123.75" y="794.2" width="12.2" height="6.1" stroke="#2f4fbf" stroke-width="1.2" fill="none"/>
<line x1="129.85" y1="794.36" x2="129.85" y2="792.84" stroke="#2f4fbf" stroke-width="1.2"/>
<line x1="127.05" y1="792.84" x2="132.65" y2="792.84" stroke="#2f4fbf" stroke-width="1.2"/>
<circle cx="125.85" cy="793.22" r="1.7" fill="#2f4fbf"/>
<circle cx="129.85" cy="792.92" r="1.7" fill="#2f4fbf"/>
<circle cx="133.85" cy="794.21" r="1.7" fill="#2f4fbf"/>
<rect x="137.05" y="755.24" width="12.2" height="45.06" stroke="#e8392a" stroke-width="1.2" fill="none"/>
<line x1="143.15" y1="756.47" x2="143.15" y2="752.81" stroke="#e8392a" stroke-width="1.2"/>
<line x1="140.35" y1="752.81" x2="145.95" y2="752.81" stroke="#e8392a" stroke-width="1.2"/>
<circle cx="139.15" cy="753.73" r="1.7" fill="#e8392a"/>
<circle cx="143.15" cy="753" r="1.7" fill="#e8392a"/>
<circle cx="147.15" cy="756.1" r="1.7" fill="#e8392a"/>
<line x1="129.8" y1="800.3" x2="129.8" y2="803.9" stroke="#1a1a1a" stroke-width="1.1"/>
<text x="0" y="0" font-size="9.6" text-anchor="middle" transform="translate(130.8,816.9) scale(1,1.12)" fill="#1a1a1a">CNS1</text>
<rect x="163.4" y="766.35" width="12.2" height="33.95" stroke="#1a1a1a" stroke-width="1.2" fill="none"/>
<line x1="169.5" y1="767.58" x2="169.5" y2="763.92" stroke="#1a1a1a" stroke-width="1.2"/>
<line x1="166.7" y1="763.92" x2="172.3" y2="763.92" stroke="#1a1a1a" stroke-width="1.2"/>
<circle cx="165.5" cy="764.84" r="1.7" fill="#1a1a1a"/>
<circle cx="169.5" cy="764.11" r="1.7" fill="#1a1a1a"/>
<circle cx="173.5" cy="767.21" r="1.7" fill="#1a1a1a"/>
<rect x="176.7" y="794.2" width="12.2" height="6.1" stroke="#2f4fbf" stroke-width="1.2" fill="none"/>
<line x1="182.8" y1="794.36" x2="182.8" y2="792.84" stroke="#2f4fbf" stroke-width="1.2"/>
<line x1="180" y1="792.84" x2="185.6" y2="792.84" stroke="#2f4fbf" stroke-width="1.2"/>
<circle cx="178.8" cy="793.22" r="1.7" fill="#2f4fbf"/>
<circle cx="182.8" cy="792.92" r="1.7" fill="#2f4fbf"/>
<circle cx="186.8" cy="794.21" r="1.7" fill="#2f4fbf"/>
<rect x="190" y="762.55" width="12.2" height="37.75" stroke="#e8392a" stroke-width="1.2" fill="none"/>
<line x1="196.1" y1="762.71" x2="196.1" y2="761.18" stroke="#e8392a" stroke-width="1.2"/>
<line x1="193.3" y1="761.18" x2="198.9" y2="761.18" stroke="#e8392a" stroke-width="1.2"/>
<circle cx="192.1" cy="761.57" r="1.7" fill="#e8392a"/>
<circle cx="196.1" cy="761.26" r="1.7" fill="#e8392a"/>
<circle cx="200.1" cy="762.55" r="1.7" fill="#e8392a"/>
<line x1="182.75" y1="800.3" x2="182.75" y2="803.9" stroke="#1a1a1a" stroke-width="1.1"/>
<text x="0" y="0" font-size="9.6" text-anchor="middle" transform="translate(183.75,817.7) scale(1,1.12)" fill="#1a1a1a">CNS2</text>
<line x1="309.6" y1="723.3" x2="309.6" y2="801" stroke="#1a1a1a" stroke-width="1.2"/>
<line x1="304.6" y1="800.4" x2="309.6" y2="800.4" stroke="#1a1a1a" stroke-width="1.1"/>
<text x="0" y="0" font-size="9.4" text-anchor="end" transform="translate(302.4,803.8) scale(1,1.12)" fill="#1a1a1a">0</text>
<line x1="304.6" y1="785.08" x2="309.6" y2="785.08" stroke="#1a1a1a" stroke-width="1.1"/>
<text x="0" y="0" font-size="9.4" text-anchor="end" transform="translate(302.4,788.48) scale(1,1.12)" fill="#1a1a1a">5</text>
<line x1="304.6" y1="769.76" x2="309.6" y2="769.76" stroke="#1a1a1a" stroke-width="1.1"/>
<text x="0" y="0" font-size="9.4" text-anchor="end" transform="translate(302.4,773.16) scale(1,1.12)" fill="#1a1a1a">10</text>
<line x1="304.6" y1="754.44" x2="309.6" y2="754.44" stroke="#1a1a1a" stroke-width="1.1"/>
<text x="0" y="0" font-size="9.4" text-anchor="end" transform="translate(302.4,757.84) scale(1,1.12)" fill="#1a1a1a">15</text>
<line x1="304.6" y1="739.12" x2="309.6" y2="739.12" stroke="#1a1a1a" stroke-width="1.1"/>
<text x="0" y="0" font-size="9.4" text-anchor="end" transform="translate(302.4,742.52) scale(1,1.12)" fill="#1a1a1a">20</text>
<line x1="304.6" y1="723.8" x2="309.6" y2="723.8" stroke="#1a1a1a" stroke-width="1.1"/>
<text x="0" y="0" font-size="9.4" text-anchor="end" transform="translate(302.4,727.2) scale(1,1.12)" fill="#1a1a1a">25</text>
<line x1="309" y1="800.4" x2="468" y2="800.4" stroke="#1a1a1a" stroke-width="1.3"/>
<text x="0" y="0" font-size="9.7" text-anchor="middle" transform="translate(389.4,710.6) scale(1,1.12)" fill="#1a1a1a">H3K27Ac</text>
<text x="0" y="0" font-size="10.8" text-anchor="middle" transform="translate(287.8,761.9) rotate(-90)" fill="#1a1a1a">of Input (%)</text>
<rect x="316.7" y="738.19" width="12.2" height="62.21" stroke="#1a1a1a" stroke-width="1.2" fill="none"/>
<line x1="322.8" y1="740.65" x2="322.8" y2="734.52" stroke="#1a1a1a" stroke-width="1.2"/>
<line x1="320" y1="734.52" x2="325.6" y2="734.52" stroke="#1a1a1a" stroke-width="1.2"/>
<circle cx="318.8" cy="736.06" r="1.7" fill="#1a1a1a"/>
<circle cx="322.8" cy="734.83" r="1.7" fill="#1a1a1a"/>
<circle cx="326.8" cy="740.04" r="1.7" fill="#1a1a1a"/>
<rect x="330" y="786.14" width="12.2" height="14.26" stroke="#2f4fbf" stroke-width="1.2" fill="none"/>
<line x1="336.1" y1="786.15" x2="336.1" y2="784.93" stroke="#2f4fbf" stroke-width="1.2"/>
<line x1="333.3" y1="784.93" x2="338.9" y2="784.93" stroke="#2f4fbf" stroke-width="1.2"/>
<circle cx="332.1" cy="785.23" r="1.7" fill="#2f4fbf"/>
<circle cx="336.1" cy="784.99" r="1.7" fill="#2f4fbf"/>
<circle cx="340.1" cy="786.03" r="1.7" fill="#2f4fbf"/>
<rect x="343.3" y="750.75" width="12.2" height="49.65" stroke="#e8392a" stroke-width="1.2" fill="none"/>
<line x1="349.4" y1="755.05" x2="349.4" y2="745.25" stroke="#e8392a" stroke-width="1.2"/>
<line x1="346.6" y1="745.25" x2="352.2" y2="745.25" stroke="#e8392a" stroke-width="1.2"/>
<circle cx="345.4" cy="747.7" r="1.7" fill="#e8392a"/>
<circle cx="349.4" cy="745.74" r="1.7" fill="#e8392a"/>
<circle cx="353.4" cy="754.07" r="1.7" fill="#e8392a"/>
<line x1="336.05" y1="800.4" x2="336.05" y2="804" stroke="#1a1a1a" stroke-width="1.1"/>
<text x="0" y="0" font-size="9.6" text-anchor="middle" transform="translate(337.05,817) scale(1,1.12)" fill="#1a1a1a">Promoter</text>
<rect x="369.65" y="755.19" width="12.2" height="45.21" stroke="#1a1a1a" stroke-width="1.2" fill="none"/>
<line x1="375.75" y1="757.04" x2="375.75" y2="752.14" stroke="#1a1a1a" stroke-width="1.2"/>
<line x1="372.95" y1="752.14" x2="378.55" y2="752.14" stroke="#1a1a1a" stroke-width="1.2"/>
<circle cx="371.75" cy="753.37" r="1.7" fill="#1a1a1a"/>
<circle cx="375.75" cy="752.39" r="1.7" fill="#1a1a1a"/>
<circle cx="379.75" cy="756.55" r="1.7" fill="#1a1a1a"/>
<rect x="382.95" y="788.74" width="12.2" height="11.66" stroke="#2f4fbf" stroke-width="1.2" fill="none"/>
<line x1="389.05" y1="788.76" x2="389.05" y2="787.53" stroke="#2f4fbf" stroke-width="1.2"/>
<line x1="386.25" y1="787.53" x2="391.85" y2="787.53" stroke="#2f4fbf" stroke-width="1.2"/>
<circle cx="385.05" cy="787.84" r="1.7" fill="#2f4fbf"/>
<circle cx="389.05" cy="787.59" r="1.7" fill="#2f4fbf"/>
<circle cx="393.05" cy="788.63" r="1.7" fill="#2f4fbf"/>
<rect x="396.25" y="755.04" width="12.2" height="45.36" stroke="#e8392a" stroke-width="1.2" fill="none"/>
<line x1="402.35" y1="757.2" x2="402.35" y2="751.68" stroke="#e8392a" stroke-width="1.2"/>
<line x1="399.55" y1="751.68" x2="405.15" y2="751.68" stroke="#e8392a" stroke-width="1.2"/>
<circle cx="398.35" cy="753.06" r="1.7" fill="#e8392a"/>
<circle cx="402.35" cy="751.96" r="1.7" fill="#e8392a"/>
<circle cx="406.35" cy="756.65" r="1.7" fill="#e8392a"/>
<line x1="389" y1="800.4" x2="389" y2="804" stroke="#1a1a1a" stroke-width="1.1"/>
<text x="0" y="0" font-size="9.6" text-anchor="middle" transform="translate(390,817) scale(1,1.12)" fill="#1a1a1a">CNS1</text>
<rect x="422.6" y="776.18" width="12.2" height="24.22" stroke="#1a1a1a" stroke-width="1.2" fill="none"/>
<line x1="428.7" y1="778.34" x2="428.7" y2="772.82" stroke="#1a1a1a" stroke-width="1.2"/>
<line x1="425.9" y1="772.82" x2="431.5" y2="772.82" stroke="#1a1a1a" stroke-width="1.2"/>
<circle cx="424.7" cy="774.2" r="1.7" fill="#1a1a1a"/>
<circle cx="428.7" cy="773.1" r="1.7" fill="#1a1a1a"/>
<circle cx="432.7" cy="777.79" r="1.7" fill="#1a1a1a"/>
<rect x="435.9" y="794.57" width="12.2" height="5.83" stroke="#2f4fbf" stroke-width="1.2" fill="none"/>
<line x1="442" y1="795.5" x2="442" y2="792.43" stroke="#2f4fbf" stroke-width="1.2"/>
<line x1="439.2" y1="792.43" x2="444.8" y2="792.43" stroke="#2f4fbf" stroke-width="1.2"/>
<circle cx="438" cy="793.2" r="1.7" fill="#2f4fbf"/>
<circle cx="442" cy="792.59" r="1.7" fill="#2f4fbf"/>
<circle cx="446" cy="795.19" r="1.7" fill="#2f4fbf"/>
<rect x="449.2" y="770.97" width="12.2" height="29.43" stroke="#e8392a" stroke-width="1.2" fill="none"/>
<line x1="455.3" y1="771.29" x2="455.3" y2="769.45" stroke="#e8392a" stroke-width="1.2"/>
<line x1="452.5" y1="769.45" x2="458.1" y2="769.45" stroke="#e8392a" stroke-width="1.2"/>
<circle cx="451.3" cy="769.91" r="1.7" fill="#e8392a"/>
<circle cx="455.3" cy="769.55" r="1.7" fill="#e8392a"/>
<circle cx="459.3" cy="771.11" r="1.7" fill="#e8392a"/>
<line x1="441.95" y1="800.4" x2="441.95" y2="804" stroke="#1a1a1a" stroke-width="1.1"/>
<text x="0" y="0" font-size="9.6" text-anchor="middle" transform="translate(442.95,817.8) scale(1,1.12)" fill="#1a1a1a">CNS2</text>
<line x1="74" y1="610.6" x2="90.9" y2="610.6" stroke="#222" stroke-width="1.3"/>
<polygon points="82.95,603.6 83.51,604.73 84.76,604.91 83.85,605.79 84.07,607.04 82.95,606.45 81.83,607.04 82.05,605.79 81.14,604.91 82.39,604.73" fill="#1a1a1a"/>
<line x1="127.3" y1="616.4" x2="143.8" y2="616.4" stroke="#222" stroke-width="1.3"/>
<polygon points="136.05,609.4 136.61,610.53 137.86,610.71 136.95,611.59 137.17,612.84 136.05,612.25 134.93,612.84 135.15,611.59 134.24,610.71 135.49,610.53" fill="#1a1a1a"/>
<line x1="180.2" y1="643.9" x2="196.3" y2="643.9" stroke="#222" stroke-width="1.3"/>
<polygon points="188.75,636.9 189.31,638.03 190.56,638.21 189.65,639.09 189.87,640.34 188.75,639.75 187.63,640.34 187.85,639.09 186.94,638.21 188.19,638.03" fill="#1a1a1a"/>
<line x1="332.5" y1="607.1" x2="348.8" y2="607.1" stroke="#222" stroke-width="1.3"/>
<polygon points="341.15,600.1 341.71,601.23 342.96,601.41 342.05,602.29 342.27,603.54 341.15,602.95 340.03,603.54 340.25,602.29 339.34,601.41 340.59,601.23" fill="#1a1a1a"/>
<line x1="386.8" y1="631.7" x2="402.9" y2="631.7" stroke="#222" stroke-width="1.3"/>
<polygon points="395.35,624.7 395.91,625.83 397.16,626.01 396.25,626.89 396.47,628.14 395.35,627.55 394.23,628.14 394.45,626.89 393.54,626.01 394.79,625.83" fill="#1a1a1a"/>
<line x1="437.6" y1="646.6" x2="454.2" y2="646.6" stroke="#222" stroke-width="1.3"/>
<polygon points="446.4,639.6 446.96,640.73 448.21,640.91 447.3,641.79 447.52,643.04 446.4,642.45 445.28,643.04 445.5,641.79 444.59,640.91 445.84,640.73" fill="#1a1a1a"/>
<line x1="74.1" y1="732.4" x2="91.1" y2="732.4" stroke="#222" stroke-width="1.3"/>
<polygon points="83.1,725.4 83.66,726.53 84.91,726.71 84,727.59 84.22,728.84 83.1,728.25 81.98,728.84 82.2,727.59 81.29,726.71 82.54,726.53" fill="#1a1a1a"/>
<line x1="127.3" y1="744.8" x2="143.8" y2="744.8" stroke="#222" stroke-width="1.3"/>
<polygon points="136.05,737.8 136.61,738.93 137.86,739.11 136.95,739.99 137.17,741.24 136.05,740.65 134.93,741.24 135.15,739.99 134.24,739.11 135.49,738.93" fill="#1a1a1a"/>
<line x1="180.2" y1="754.3" x2="196.3" y2="754.3" stroke="#222" stroke-width="1.3"/>
<polygon points="188.75,747.3 189.31,748.43 190.56,748.61 189.65,749.49 189.87,750.74 188.75,750.15 187.63,750.74 187.85,749.49 186.94,748.61 188.19,748.43" fill="#1a1a1a"/>
<line x1="332.4" y1="737.7" x2="349" y2="737.7" stroke="#222" stroke-width="1.3"/>
<polygon points="341.2,730.7 341.76,731.83 343.01,732.01 342.1,732.89 342.32,734.14 341.2,733.55 340.08,734.14 340.3,732.89 339.39,732.01 340.64,731.83" fill="#1a1a1a"/>
<line x1="386.8" y1="745.2" x2="402.9" y2="745.2" stroke="#222" stroke-width="1.3"/>
<polygon points="395.35,738.2 395.91,739.33 397.16,739.51 396.25,740.39 396.47,741.64 395.35,741.05 394.23,741.64 394.45,740.39 393.54,739.51 394.79,739.33" fill="#1a1a1a"/>
<line x1="437.6" y1="761.8" x2="454.2" y2="761.8" stroke="#222" stroke-width="1.3"/>
<polygon points="446.4,754.8 446.96,755.93 448.21,756.11 447.3,756.99 447.52,758.24 446.4,757.65 445.28,758.24 445.5,756.99 444.59,756.11 445.84,755.93" fill="#1a1a1a"/>
<g transform="translate(44.6 245) scale(.1)">
<path d="M249 330h9M218 352h9M723 381h9M339 334h9M529 339h9M753 441h9M731 522h9M186 392h9M474 649h9M459 367h9M421 348h9M220 379h9M388 380h9M568 644h9M514 656h9M216 620h9M535 642h9M184 590h9M291 365h9M159 577h9M609 346h9M172 405h9M276 367h9M331 636h9M366 366h9M718 444h9M712 467h9M659 614h9M695 494h9M219 615h9M342 363h9M624 352h9M672 553h9M396 657h9M409 644h9M351 644h9M168 428h9M333 617h9M327 624h9M674 407h9M656 606h9M277 617h9M255 618h9M169 471h9M692 458h9M546 624h9M456 617h9M199 584h9M171 502h9M390 644h9M691 431h9M176 577h9M372 622h9M427 609h9M693 521h9M379 634h9M261 620h9M409 406h9M400 614h9M250 375h9M352 383h9M354 642h9M350 390h9M316 621h9M470 373h9M208 595h9M181 490h9M162 550h9M176 489h9M631 594h9M440 616h9M619 618h9M347 369h9M353 615h9M219 574h9M596 345h9M443 424h9M197 412h9M442 409h9M163 441h9M414 610h9M233 613h9M638 377h9M172 458h9M174 457h9M388 403h9M246 387h9M697 518h9M442 599h9M643 584h9M263 599h9M466 385h9M204 411h9M620 354h9M416 457h9M248 615h9M665 408h9M325 364h9M244 586h9M364 401h9M286 607h9M484 637h9M434 405h9M225 390h9M515 369h9M190 551h9M496 379h9M575 348h9M572 350h9M307 608h9M304 361h9M301 587h9M170 562h9M180 448h9M393 419h9M234 590h9M231 578h9M602 611h9M338 384h9M220 533h9M318 359h9M587 624h9M654 397h9M182 436h9M306 366h9M669 557h9M402 606h9M204 510h9M238 442h9M374 415h9M222 422h9M649 585h9M267 460h9M548 370h9M568 368h9M515 366h9M350 414h9M429 442h9M469 395h9M280 572h9M571 353h9M658 405h9M692 431h9M278 595h9M404 459h9M384 432h9M295 611h9M419 595h9M320 595h9M688 514h9M305 603h9M245 399h9M232 388h9M432 421h9M293 603h9M479 615h9M583 379h9M669 551h9M684 463h9M442 440h9M668 431h9M317 441h9M313 606h9M655 399h9M683 448h9M285 391h9M175 549h9M201 550h9M357 605h9M459 414h9M544 357h9M194 527h9M234 513h9M296 592h9M422 568h9M253 587h9M298 384h9M579 373h9M409 583h9M629 586h9M559 359h9M677 480h9M678 455h9M210 498h9M317 372h9M183 440h9M457 592h9M232 406h9M653 424h9M605 603h9M239 431h9M251 399h9M214 429h9M219 463h9M224 447h9M250 420h9M565 364h9M363 440h9M446 437h9M393 414h9M401 422h9M214 476h9M250 407h9M282 381h9M349 410h9M208 561h9M258 455h9M305 385h9M270 459h9M244 595h9M685 476h9M634 400h9M415 574h9M366 427h9M541 365h9M245 603h9M237 468h9M661 458h9M426 453h9M345 585h9M252 468h9M495 622h9M210 540h9M227 442h9M661 528h9M420 495h9M582 618h9M203 479h9M385 429h9M374 599h9M206 442h9M635 400h9M260 482h9M669 413h9M395 467h9M436 451h9M277 420h9M472 414h9M176 478h9M637 389h9M196 555h9M214 530h9M508 396h9M654 419h9M216 423h9M204 514h9M484 391h9M519 362h9M350 585h9M521 369h9M231 475h9M221 567h9" stroke="#3b57ca" stroke-width="9" stroke-opacity="0.5" fill="none"/>
<path d="M393 598h9M395 437h9M409 505h9M380 459h9M245 554h9M679 432h9M236 522h9M217 488h9M375 596h9M262 462h9M383 459h9M257 562h9M323 591h9M208 483h9M185 465h9M268 512h9M371 505h9M215 513h9M217 494h9M231 398h9M412 517h9M317 386h9M432 462h9M215 445h9M429 471h9M336 418h9M416 575h9M335 436h9M526 375h9M427 519h9M258 441h9M191 539h9M475 409h9M375 439h9M192 536h9M398 548h9M462 430h9M283 432h9M265 406h9M208 441h9M182 544h9M504 618h9M377 462h9M302 563h9M193 551h9M295 414h9M676 514h9M418 543h9M426 464h9M229 564h9M209 424h9M321 588h9M323 438h9M299 451h9M260 468h9M643 404h9M395 580h9M283 427h9M239 491h9M671 434h9M521 381h9M430 506h9M200 555h9M471 406h9M600 603h9M219 510h9M237 475h9M213 528h9M516 618h9M401 466h9M568 616h9M446 465h9M613 378h9M247 531h9M676 473h9M259 561h9M323 573h9M372 591h9M484 607h9M331 460h9M397 569h9M243 471h9M431 458h9M211 452h9M213 422h9M667 523h9M403 577h9M536 610h9M430 484h9M640 567h9M377 463h9M329 403h9M484 409h9M288 426h9M488 603h9M343 430h9M402 513h9M257 500h9M373 512h9M582 601h9M278 483h9M254 403h9M226 522h9M383 597h9M330 406h9M379 572h9M317 465h9M641 446h9M501 410h9M243 550h9M276 444h9M466 605h9M452 589h9M679 485h9M603 607h9M280 459h9M669 431h9M194 532h9M304 392h9M334 401h9M639 570h9M313 586h9M641 403h9M411 485h9M644 553h9M204 451h9M655 475h9M308 395h9M271 452h9M419 584h9M351 535h9M396 521h9M400 544h9M455 457h9M324 466h9M381 597h9M490 610h9M210 479h9M652 441h9M376 437h9M203 462h9M505 386h9M291 415h9M394 517h9M252 474h9M401 495h9M566 372h9M410 546h9M409 477h9M281 409h9M365 591h9M256 516h9M210 498h9M333 479h9M330 413h9M408 496h9M349 445h9M423 558h9M507 377h9M652 449h9M224 563h9M239 553h9M395 560h9M199 465h9M529 600h9M274 441h9M289 489h9M290 560h9M320 562h9M615 393h9M264 424h9M228 487h9M661 471h9M368 590h9M369 575h9M653 467h9M270 563h9M349 542h9M381 489h9M521 612h9M325 579h9M275 402h9M463 423h9M214 432h9M422 491h9M246 519h9M313 469h9M588 393h9M304 435h9M370 578h9M406 587h9M276 427h9M235 553h9M200 523h9M281 482h9M255 488h9M351 454h9M251 402h9M319 394h9M423 528h9M510 384h9M433 518h9M451 442h9M195 533h9M491 612h9M618 383h9M478 412h9M340 422h9M380 505h9M263 415h9M375 544h9M488 407h9M233 472h9M508 395h9M413 528h9M307 498h9M348 550h9M445 463h9M399 541h9M318 467h9M363 451h9M366 480h9M455 591h9M293 459h9M419 502h9M404 575h9M652 496h9M348 447h9M328 548h9M621 396h9M358 581h9M438 496h9M363 571h9M445 489h9M257 525h9M489 618h9M354 492h9M521 381h9M279 555h9M662 510h9M259 417h9M619 398h9M206 478h9M253 522h9M323 481h9M361 529h9M376 458h9M491 424h9M379 459h9M394 494h9M310 434h9M462 420h9M326 507h9M266 520h9M400 536h9M637 563h9M393 573h9M337 563h9M641 566h9M658 537h9M268 425h9M481 448h9M291 554h9M248 527h9M293 416h9M519 399h9M241 570h9M493 423h9M351 566h9M364 591h9M307 541h9M357 517h9M663 493h9M569 602h9M343 540h9M302 404h9M310 549h9M325 423h9M629 573h9M444 570h9M356 533h9M480 406h9M262 532h9M354 479h9M230 537h9M297 494h9M280 500h9M662 528h9M241 557h9M355 437h9M344 452h9M254 503h9M401 544h9M325 552h9M297 443h9M658 496h9M306 506h9M385 538h9M323 542h9M371 499h9M529 398h9M610 382h9M376 462h9M277 528h9M325 442h9M405 539h9M391 508h9M305 445h9M660 462h9M241 522h9M546 392h9M612 399h9M259 504h9M364 558h9M376 527h9M558 396h9M269 545h9M341 479h9M316 563h9M317 466h9M336 507h9M468 456h9M360 522h9M661 521h9M300 559h9M338 553h9M379 475h9M304 462h9M329 497h9M459 468h9M603 378h9M441 489h9M648 429h9M517 395h9M489 595h9M402 582h9M638 425h9M308 478h9M318 430h9M260 506h9M375 560h9M341 559h9M601 389h9M358 485h9M359 447h9M309 448h9M251 536h9M290 505h9M365 562h9M478 446h9M459 492h9M308 417h9M483 411h9M376 545h9M250 553h9M353 541h9M443 490h9M289 521h9M384 553h9M509 425h9M310 395h9M317 429h9M321 565h9M387 536h9M509 416h9M398 540h9M320 490h9M489 602h9M324 538h9M439 488h9M559 601h9M286 514h9M373 488h9M298 530h9M276 539h9M294 551h9M340 475h9M336 484h9M447 498h9M550 391h9M264 501h9M367 555h9M333 454h9M472 441h9M661 500h9M650 538h9M644 468h9M467 437h9M294 480h9M455 587h9M478 435h9M302 536h9M370 559h9M478 443h9" stroke="#3a5ccd" stroke-width="9" stroke-opacity="0.6" fill="none"/>
<path d="M609 407h9M281 477h9M334 493h9M341 453h9M585 605h9M595 596h9M265 507h9M531 596h9M300 463h9M385 531h9M383 481h9M281 478h9M373 545h9M298 492h9M353 498h9M312 537h9M264 517h9M270 477h9M359 525h9M592 592h9M364 547h9M285 542h9M601 391h9M304 418h9M359 489h9M351 517h9M314 560h9M657 540h9M326 566h9M461 447h9M277 543h9M312 418h9M458 575h9M445 507h9M361 520h9M482 603h9M381 494h9M514 399h9M339 512h9M644 502h9M342 507h9M453 583h9M272 554h9M510 434h9M563 608h9M509 424h9M374 557h9M438 547h9M358 457h9M261 551h9M374 501h9M325 518h9M462 481h9M327 503h9M370 534h9M533 399h9M291 476h9M294 413h9M562 396h9M321 546h9M589 393h9M293 470h9M649 544h9M642 546h9M318 415h9M288 559h9M307 514h9M518 607h9M506 429h9M636 548h9M477 446h9M484 438h9M325 547h9M516 412h9M640 430h9M537 424h9M393 544h9M306 537h9M626 568h9M547 399h9M565 601h9M300 519h9M539 599h9M353 552h9M642 529h9M357 551h9M527 593h9M306 488h9M288 548h9M546 401h9M487 600h9M316 503h9M630 457h9M315 552h9M634 426h9M296 520h9M533 596h9M624 427h9M544 409h9M550 398h9M474 445h9M607 387h9M286 498h9M556 380h9M264 511h9M293 492h9M540 384h9M323 536h9M653 523h9M523 402h9M575 403h9M580 601h9M648 483h9M562 402h9M283 531h9M478 455h9M563 400h9M346 528h9M611 562h9M604 587h9M388 507h9M442 509h9M538 397h9M506 592h9M474 478h9M307 486h9M310 517h9M357 462h9M295 525h9M600 395h9M345 531h9M373 503h9M446 502h9M535 404h9M338 518h9M517 423h9M384 495h9M660 506h9M441 561h9M278 531h9M374 483h9M345 504h9M296 491h9M433 542h9M288 500h9M351 505h9M466 462h9M354 488h9M307 470h9M327 515h9M347 506h9M602 400h9M398 507h9M445 507h9M285 555h9M330 498h9M319 420h9M565 597h9M290 546h9M635 416h9M456 507h9M309 524h9M308 539h9M599 409h9M354 470h9M518 415h9M531 408h9M648 484h9M282 492h9M459 483h9M289 510h9M439 551h9M303 424h9M619 566h9M466 585h9M326 436h9M355 482h9M591 411h9M567 412h9M632 499h9M444 565h9M358 475h9M300 463h9M435 531h9M307 485h9M478 580h9M580 585h9M468 561h9M451 487h9M330 498h9M324 511h9M456 525h9M476 485h9M484 594h9M306 437h9M459 568h9M332 514h9M289 472h9M562 589h9M583 581h9M569 591h9M660 528h9M465 478h9M446 554h9M431 520h9M307 472h9M477 469h9M590 410h9M562 574h9M301 492h9M446 549h9M627 559h9M591 574h9M479 466h9M637 553h9M435 541h9M489 562h9M493 590h9M475 478h9M272 525h9M596 577h9M265 550h9M631 444h9M546 590h9M443 539h9M460 571h9M618 412h9M286 466h9M443 510h9M588 405h9M600 417h9M617 412h9M498 441h9M589 579h9M623 535h9M498 439h9M285 553h9M443 560h9M634 473h9M554 590h9M654 491h9M488 442h9M315 517h9M621 568h9M643 469h9M279 535h9M445 538h9M576 582h9M616 432h9M317 412h9M265 542h9M491 596h9M557 599h9M612 420h9M562 409h9M638 455h9M589 582h9M646 500h9" stroke="#3861d0" stroke-width="9" stroke-opacity="0.75" fill="none"/>
<path d="M477 569h9M654 503h9M586 575h9M482 584h9M510 446h9M300 546h9M458 491h9M620 424h9M502 584h9M648 506h9M437 546h9M648 496h9M556 402h9M443 507h9M616 538h9M650 536h9M563 403h9M510 427h9M574 598h9M526 438h9M578 417h9M325 507h9M645 490h9M526 589h9M632 497h9M548 391h9M542 599h9M324 489h9M510 431h9M613 419h9M623 454h9M471 577h9M331 497h9M463 495h9M614 417h9M614 409h9M623 456h9M605 568h9M614 569h9M615 562h9M626 540h9M472 572h9M465 470h9M463 491h9M469 562h9M471 562h9M641 523h9M554 581h9M568 598h9M653 518h9M610 412h9M486 465h9M482 467h9M641 501h9M624 444h9M578 425h9M636 494h9M598 406h9M455 537h9M491 565h9M629 531h9M583 429h9M546 418h9M618 420h9M613 427h9M532 422h9M466 508h9M589 419h9M320 515h9M462 577h9M621 462h9M565 596h9M529 438h9M307 534h9M615 566h9M501 440h9M576 417h9M567 585h9M519 580h9M501 581h9M467 554h9M637 524h9M532 397h9M448 531h9M613 430h9M536 580h9M575 586h9M605 570h9M532 424h9M531 587h9M620 468h9M442 529h9M619 424h9M637 550h9M508 446h9M508 586h9M597 403h9M560 434h9M561 415h9M311 512h9M488 584h9M504 446h9M535 588h9M557 584h9M562 583h9M506 587h9M493 572h9M485 566h9M350 500h9M572 414h9M541 429h9M469 572h9M613 547h9M442 541h9M440 547h9M627 544h9M594 517h9M449 515h9M460 552h9M632 456h9M450 530h9M619 429h9M496 589h9M474 520h9M641 518h9M636 441h9M468 520h9M617 438h9M553 571h9M457 542h9M610 414h9M580 577h9M626 468h9M536 433h9M530 570h9M520 436h9M600 402h9M493 469h9M594 564h9M465 490h9M541 434h9M639 524h9M464 565h9M636 512h9M600 535h9M642 495h9M450 551h9M631 487h9M606 410h9M495 450h9M536 581h9M569 570h9M638 548h9M630 475h9M625 550h9M458 542h9M549 414h9M611 438h9M553 590h9M474 496h9M620 550h9M468 544h9M546 590h9M460 526h9M462 553h9M529 433h9M540 584h9M571 578h9M507 453h9M639 535h9M526 565h9M616 433h9M592 429h9M641 501h9M578 571h9M531 404h9M543 419h9M486 471h9M627 509h9M569 596h9M597 544h9M509 582h9M314 511h9" stroke="#396ed3" stroke-width="9" fill="none"/>
<path d="M636 466h9M510 467h9M479 589h9M505 570h9M626 467h9M477 560h9M628 489h9M551 416h9M617 427h9M476 504h9M589 579h9M460 523h9M608 556h9M603 427h9M533 583h9M485 567h9M464 508h9M611 483h9M615 510h9M635 522h9M584 422h9M596 552h9M469 534h9M480 569h9M566 445h9M512 593h9M497 492h9M621 537h9M557 427h9M567 422h9M468 557h9M627 453h9M596 435h9M591 428h9M636 522h9M603 454h9M623 506h9M616 468h9M539 587h9M620 467h9M516 443h9M596 574h9M494 447h9M454 511h9M627 493h9M593 566h9M518 450h9M565 575h9M624 521h9M559 600h9M560 433h9M469 554h9M552 551h9M504 460h9M506 442h9M471 483h9M498 587h9M507 459h9M614 423h9M557 422h9M639 535h9M471 567h9M467 521h9M490 564h9M469 515h9M484 571h9M635 521h9M485 482h9M491 562h9M599 426h9M492 474h9M584 567h9M607 565h9M517 588h9M606 569h9M557 568h9M574 450h9M538 579h9M477 489h9M466 540h9M616 431h9M610 475h9M624 522h9M601 467h9M459 544h9M504 589h9M472 519h9M622 532h9M583 437h9M540 562h9M452 557h9M591 555h9M448 538h9M500 452h9M476 499h9M531 572h9M580 555h9M556 426h9M523 581h9M475 542h9M495 575h9M492 464h9M527 572h9M545 448h9M556 586h9M629 481h9M467 548h9M484 506h9M473 569h9M472 544h9M611 537h9M498 564h9M604 458h9M581 419h9M585 430h9M607 553h9M636 521h9M475 553h9M471 504h9M487 552h9M468 530h9M605 562h9M557 424h9M618 428h9M604 496h9M623 528h9M455 549h9M625 503h9M455 520h9M467 536h9M476 502h9M622 502h9M499 485h9M491 457h9M647 517h9M538 444h9M467 519h9M464 543h9M486 495h9M517 458h9M624 518h9M466 521h9M507 541h9M616 468h9M488 485h9M518 449h9M577 424h9M479 544h9M568 552h9M527 585h9M606 543h9M522 464h9M553 563h9M635 534h9M505 566h9M599 434h9M628 445h9M463 521h9M472 537h9M528 434h9M562 438h9M577 572h9M628 478h9M608 547h9M489 509h9M578 450h9M477 529h9M524 497h9M604 547h9M539 444h9M543 435h9M605 443h9M613 505h9M611 450h9M480 528h9M552 453h9M607 445h9M604 460h9M476 490h9M553 567h9M574 563h9M502 567h9M505 578h9M465 564h9M467 525h9M521 564h9M584 552h9M612 501h9M629 499h9M624 514h9M609 524h9M527 434h9M484 488h9M544 571h9M633 474h9" stroke="#3d87d5" stroke-width="9" fill="none"/>
<path d="M502 549h12M584 563h12M604 546h12M502 484h12M546 530h12M626 470h12M499 557h12M506 578h12M615 461h12M630 492h12M579 422h12M615 446h12M612 513h12M521 451h12M608 561h12M599 494h12M536 442h12M611 441h12M590 534h12M593 457h12M625 505h12M567 424h12M561 427h12M489 531h12M612 493h12M496 528h12M554 422h12M620 542h12M625 513h12M607 463h12M615 522h12M616 530h12M527 541h12M507 473h12M595 503h12M536 556h12M467 527h12M549 566h12M509 480h12M551 567h12M571 434h12M506 461h12M546 561h12M512 561h12M609 544h12M610 506h12M591 442h12M592 435h12M583 448h12M473 526h12M486 511h12M458 531h12M486 505h12M490 567h12M532 576h12M601 512h12M573 577h12M602 445h12M588 574h12M612 459h12M588 559h12M476 575h12M601 487h12M574 439h12M583 442h12M597 525h12M491 548h12M602 533h12M512 467h12M626 514h12M495 540h12M491 469h12M591 529h12M529 557h12M587 561h12M546 542h12M503 500h12M613 514h12M522 556h12M580 559h12M604 448h12M575 434h12M534 565h12M573 523h12M546 440h12M555 550h12M569 549h12M626 531h12M547 555h12M481 554h12M497 482h12M591 561h12M614 501h12M551 438h12M498 521h12M464 523h12M474 543h12M629 462h12M514 508h12M494 521h12M515 486h12M507 552h12M588 454h12M591 469h12M581 448h12M463 528h12M623 535h12M538 447h12M575 532h12M511 572h12M617 472h12M500 480h12M485 536h12M518 485h12M588 554h12M482 493h12M507 496h12M518 553h12M586 442h12M565 433h12M574 572h12M489 481h12M539 561h12M629 515h12M584 437h12M537 474h12M496 518h12M568 436h12M556 434h12M544 565h12M500 509h12M496 497h12M595 486h12M638 521h12M488 473h12M555 535h12M587 521h12M530 460h12M581 535h12M510 454h12M590 467h12M619 478h12M575 531h12M554 431h12M507 478h12M570 441h12M537 576h12M602 547h12M610 485h12M463 533h12M566 454h12M513 466h12M566 546h12M591 500h12M586 554h12M568 553h12M561 459h12M515 472h12M506 462h12M480 496h12M601 545h12M487 537h12M499 521h12M577 459h12M585 512h12M552 493h12M577 544h12M615 503h12M490 546h12M562 444h12M610 503h12M499 556h12M467 520h12M574 544h12M493 511h12M556 424h12M629 510h12M570 558h12M579 443h12M535 545h12M597 481h12M606 533h12M555 556h12M588 448h12M512 568h12M548 446h12M506 492h12M508 548h12M611 535h12M596 546h12M619 467h12M590 538h12M613 470h12M608 543h12M484 500h12M498 501h12M513 555h12M517 572h12M572 560h12M500 509h12M611 475h12M488 550h12M562 561h12M595 444h12M503 484h12M520 456h12M520 578h12M611 504h12M608 520h12M463 559h12M533 461h12M503 502h12M485 513h12M518 572h12M500 465h12M505 506h12" stroke="#429fd2" stroke-width="12" fill="none"/>
<path d="M519 496h12M602 474h12M500 478h12M573 557h12M620 519h12M580 533h12M496 484h12M601 537h12M525 461h12M573 545h12M553 473h12M609 454h12M590 545h12M483 489h12M610 477h12M582 552h12M556 566h12M590 477h12M494 563h12M567 508h12M534 567h12M613 476h12M579 547h12M606 495h12M597 548h12M481 566h12M493 499h12M595 455h12M559 536h12M549 465h12M481 504h12M514 551h12M571 534h12M483 540h12M499 554h12M533 557h12M499 556h12M512 487h12M611 459h12M508 570h12M615 477h12M552 435h12M573 510h12M480 498h12M560 532h12M504 561h12M483 487h12M612 476h12M615 524h12M474 532h12M464 511h12M607 505h12M595 440h12M583 556h12M585 549h12M583 503h12M617 460h12M506 491h12M571 527h12M571 424h12M612 442h12M614 513h12M575 451h12M520 573h12M527 466h12M552 562h12M618 442h12M528 553h12M511 461h12M577 530h12M611 454h12M547 557h12M505 554h12M588 501h12M606 460h12M619 478h12M549 544h12M470 549h12M514 552h12M595 506h12M618 494h12M525 556h12M537 536h12M521 454h12M534 463h12M573 531h12M620 472h12M528 524h12M513 573h12M604 493h12M583 530h12M497 470h12M600 543h12M582 526h12M619 509h12M539 503h12M562 435h12M560 507h12M574 506h12M502 511h12M607 544h12M629 483h12M569 458h12M590 472h12M485 530h12M593 528h12M567 455h12M617 525h12M629 465h12M611 465h12M585 465h12M585 485h12M509 502h12M507 483h12M609 466h12M515 565h12M575 434h12M519 554h12M602 490h12M541 488h12M512 561h12M585 550h12M601 502h12M545 576h12M489 495h12M552 503h12M559 458h12M525 445h12M577 549h12M606 537h12M572 530h12M504 511h12M535 542h12M473 504h12M545 457h12M506 563h12M615 539h12M590 511h12M582 432h12M578 511h12M563 439h12M584 546h12M581 532h12M592 449h12M495 539h12M566 521h12M522 450h12M590 443h12M510 495h12M627 469h12M558 452h12M584 540h12M546 431h12M511 492h12M553 468h12M584 542h12M592 546h12M598 494h12M470 548h12M591 479h12M542 509h12M536 526h12M494 551h12M550 547h12M514 561h12M598 498h12M490 529h12M516 469h12M534 468h12M560 547h12M530 550h12M580 501h12M516 469h12M541 472h12M485 549h12M520 530h12M577 441h12M595 509h12M551 423h12M583 439h12M590 488h12M548 486h12M604 503h12M479 524h12M565 471h12M501 477h12M563 465h12M594 477h12M527 578h12M508 517h12M588 517h12M472 538h12M532 525h12M594 486h12M602 445h12M554 531h12M598 503h12M515 551h12M505 536h12M586 461h12M560 545h12M584 479h12M578 558h12M525 452h12M522 538h12M514 564h12M488 498h12M587 453h12M627 491h12M516 486h12M546 560h12M502 545h12M532 465h12M514 514h12M602 509h12M582 450h12M503 538h12M551 553h12M569 509h12M587 461h12M487 483h12M502 564h12M607 515h12M481 517h12M471 496h12M591 502h12M505 490h12M554 523h12M567 539h12M576 470h12M594 454h12M617 466h12M523 541h12M601 460h12M566 533h12M546 561h12M550 565h12M512 553h12M576 561h12M573 514h12M557 452h12M554 468h12M536 456h12M543 558h12M541 531h12M553 477h12M599 467h12M564 458h12M501 489h12M547 503h12M611 508h12M481 547h12M548 438h12M500 552h12M541 557h12M503 545h12M530 513h12M592 447h12M569 516h12M508 515h12M569 456h12M551 566h12M536 563h12M510 476h12M520 566h12M572 552h12M545 501h12M508 526h12" stroke="#48b4b7" stroke-width="12" fill="none"/>
<path d="M561 527h12M570 491h12M548 466h12M554 548h12M585 464h12M539 460h12M491 503h12M572 483h12M566 514h12M476 539h12M562 565h12M588 469h12M603 487h12M532 467h12M588 518h12M517 511h12M571 515h12M506 544h12M499 532h12M524 486h12M510 530h12M544 566h12M533 473h12M496 550h12M495 488h12M524 459h12M497 525h12M510 551h12M580 528h12M588 507h12M509 539h12M589 461h12M535 559h12M560 530h12M596 530h12M559 538h12M499 502h12M522 461h12M530 545h12M546 494h12M542 561h12M482 528h12M534 523h12M519 552h12M553 535h12M501 493h12M506 486h12M577 485h12M547 498h12M497 490h12M599 454h12M595 494h12M502 547h12M598 465h12M580 486h12M567 509h12M617 485h12M589 538h12M498 533h12M552 529h12M576 548h12M592 523h12M542 482h12M591 497h12M530 499h12M591 510h12M554 460h12M577 504h12M578 458h12M592 513h12M592 442h12M599 462h12M558 527h12M533 463h12M524 536h12M567 514h12M600 483h12M482 525h12M526 507h12M519 454h12M503 531h12M509 498h12M538 464h12M521 504h12M554 444h12M514 479h12M490 487h12M519 549h12M581 523h12M541 514h12M589 535h12M615 523h12M572 487h12M591 504h12M515 549h12M578 516h12M541 456h12M594 526h12M569 500h12M561 549h12M523 512h12M563 543h12M570 459h12M557 448h12M530 478h12M476 537h12M587 484h12M567 471h12M549 554h12M533 511h12M572 446h12M512 536h12M527 478h12M572 526h12M528 506h12M550 506h12M525 476h12M575 448h12M574 454h12M566 479h12M521 471h12M577 448h12M526 496h12M540 516h12M522 515h12M498 510h12M547 521h12M545 535h12M533 510h12M521 548h12M529 516h12M511 538h12M499 472h12M482 511h12M509 513h12M555 501h12M517 542h12M583 487h12M573 469h12M605 489h12M550 444h12M572 509h12M497 540h12M531 542h12M520 487h12M581 485h12M559 539h12M531 457h12M528 527h12M582 506h12M576 535h12M528 478h12M590 461h12M568 455h12M537 457h12M515 553h12M557 438h12M513 522h12M539 466h12M523 490h12M528 453h12M522 471h12M574 474h12M608 488h12M517 548h12M526 534h12M581 480h12M530 467h12M508 517h12M544 467h12M566 475h12M569 497h12M532 510h12M545 561h12M586 442h12M581 516h12M562 500h12M526 488h12M544 535h12M591 485h12M535 541h12M544 490h12M551 508h12M562 494h12M498 541h12M571 513h12M519 525h12M563 445h12M541 538h12M561 534h12M528 500h12M493 529h12M543 523h12M563 544h12M545 464h12M501 498h12M496 517h12M533 542h12M510 513h12M589 491h12M605 459h12M602 492h12M521 540h12M608 497h12M525 473h12M560 516h12M573 456h12M589 478h12M549 453h12M586 534h12M526 559h12M533 549h12M545 493h12M527 459h12M538 479h12M506 515h12M557 505h12M554 529h12M491 525h12M530 482h12M602 491h12M503 486h12M534 512h12M581 451h12M617 476h12M538 534h12M530 516h12M564 469h12M583 550h12M531 457h12M569 464h12M584 515h12M545 461h12M508 517h12M540 531h12M531 473h12M572 515h12M528 480h12" stroke="#51c18f" stroke-width="12" fill="none"/>
<path d="M573 499h12M482 521h12M511 507h12M569 440h12M594 492h12M563 471h12M507 526h12M544 460h12M595 491h12M533 465h12M534 539h12M544 540h12M504 531h12M525 526h12M586 445h12M521 537h12M573 512h12M542 486h12M573 491h12M599 518h12M529 461h12M581 491h12M535 538h12M578 474h12M558 468h12M517 488h12M529 489h12M561 486h12M559 454h12M563 471h12M586 479h12M511 499h12M519 538h12M554 501h12M562 544h12M564 447h12M514 507h12M561 523h12M560 469h12M576 497h12M573 479h12M491 491h12M541 526h12M567 465h12M560 453h12M552 567h12M583 546h12M575 482h12M529 496h12M511 544h12M560 510h12M532 543h12M568 509h12M518 512h12M521 517h12M562 513h12M503 539h12M527 505h12M497 523h12M540 537h12M591 509h12M588 450h12M549 538h12M566 437h12M605 490h12M550 489h12M491 510h12M610 506h12M557 485h12M568 541h12M527 524h12M568 497h12M558 494h12M566 474h12M514 549h12M532 513h12M515 521h12M576 488h12M491 500h12M570 438h12M585 491h12M532 455h12M517 502h12M539 529h12M519 530h12M577 441h12M564 504h12M511 528h12M581 462h12M511 476h12M512 558h12M580 500h12M575 510h12M536 477h12M531 532h12M530 509h12M526 490h12M555 479h12M550 452h12M546 466h12M530 505h12M557 468h12M550 560h12M529 485h12M564 489h12M493 530h12M552 484h12M523 483h12M522 518h12M568 496h12M585 506h12M560 509h12M507 524h12M587 545h12M576 463h12M556 483h12M525 492h12M514 521h12M546 521h12M513 524h12M586 488h12M503 540h12M542 555h12M563 506h12M569 474h12M549 510h12M540 476h12M507 521h12M548 469h12M548 540h12M566 473h12M580 473h12M568 483h12M499 530h12M571 484h12M562 537h12M547 527h12M504 537h12M554 504h12M569 484h12M521 480h12M585 474h12M491 541h12M552 497h12M559 494h12M561 497h12M518 531h12M581 470h12M530 462h12M550 519h12M521 520h12M578 484h12M558 474h12M518 507h12M519 490h12M554 503h12M569 555h12M562 489h12M577 467h12M539 518h12M520 517h12M513 529h12M572 543h12M530 479h12M567 542h12M558 441h12M572 498h12M550 540h12M584 506h12M556 474h12M570 482h12M574 466h12M518 516h12M514 532h12M552 491h12M591 477h12M549 513h12M574 523h12M594 494h12" stroke="#5dc75a" stroke-width="12" fill="none"/>
<path d="M535 460h12M588 460h12M532 502h12M527 492h12M525 500h12M572 493h12M610 497h12M540 546h12M540 519h12M541 497h12M581 469h12M560 517h12M542 472h12M525 545h12M544 502h12M542 536h12M583 482h12M516 480h12M546 495h12M560 497h12M521 499h12M572 489h12M558 514h12M542 472h12M579 478h12M568 477h12M523 506h12M565 471h12M579 452h12M537 465h12M556 537h12M542 486h12M573 486h12M558 506h12M550 455h12M555 460h12M569 501h12M508 539h12M568 504h12M569 481h12M582 516h12M598 483h12M565 546h12M566 511h12M564 463h12M536 487h12M547 479h12M575 461h12M541 526h12M561 549h12M518 516h12M514 534h12M588 507h12M534 510h12M536 466h12M534 510h12M563 481h12M598 508h12M534 521h12M561 530h12M551 507h12M545 527h12M531 497h12M590 481h12M514 534h12M512 506h12M556 509h12M543 486h12M593 487h12M529 479h12M549 501h12M523 500h12M549 537h12M563 506h12M556 478h12M539 527h12M538 464h12M527 491h12M540 522h12M548 473h12M548 499h12M514 537h12M549 483h12M541 520h12M586 477h12M566 478h12M537 515h12M571 486h12M556 471h12M552 478h12M512 548h12M523 528h12M583 476h12M541 516h12M579 482h12M554 509h12M565 492h12M546 492h12M533 504h12M567 480h12M578 473h12M556 535h12M548 486h12M581 487h12M519 515h12M506 508h12M543 478h12M559 490h12" stroke="#87ce41" stroke-width="12" fill="none"/>
<path d="M558 442h12M526 532h12M533 500h12M490 494h12M550 499h12M597 496h12M539 476h12M589 497h12M526 511h12M558 520h12M558 509h12M526 508h12M553 510h12M582 473h12M578 512h12M521 477h12M521 477h12M531 516h12M570 461h12M517 537h12M501 493h12M547 475h12M558 490h12M510 531h12M561 478h12M557 543h12M578 481h12M515 520h12M541 505h12M566 517h12M544 478h12M550 505h12M527 515h12M521 524h12M565 503h12" stroke="#b7d630" stroke-width="12" fill="none"/>
<path d="M550 541h12M542 486h12M545 528h12M536 521h12M547 474h12M552 499h12M564 485h12M544 507h12M559 538h12M545 483h12M533 475h12M549 482h12M609 480h12M507 522h12M559 506h12" stroke="#dac028" stroke-width="12" fill="none"/>
<path d="M541 528h12M531 530h12M553 488h12M573 473h12" stroke="#f49d22" stroke-width="12" fill="none"/>
<path d="M515 522h12M522 501h12M514 500h12M569 475h12M544 472h12M535 560h12M521 517h12M571 488h12M535 470h12M535 503h12M566 494h12M549 512h12M576 485h12M567 468h12M517 508h12M554 476h12M525 500h12" stroke="#ee551d" stroke-width="12" fill="none"/>
</g>
<rect x="44.6" y="245" width="89.8" height="89.6" stroke="#8f8f8f" stroke-width="0.9" fill="none"/>
<line x1="84.5" y1="245" x2="84.5" y2="334.6" stroke="#2e2e2e" stroke-width="1"/>
<line x1="44.6" y1="307.2" x2="134.4" y2="307.2" stroke="#2e2e2e" stroke-width="1"/>
<text x="0" y="0" font-size="9" transform="translate(52.3,263.1) scale(0.92,1)" fill="#111">12.7</text>
<text x="0" y="0" font-size="9" text-anchor="end" transform="translate(124.1,263.1) scale(0.92,1)" fill="#111">86.5</text>
<text x="0" y="0" font-size="9" transform="translate(52.4,326.4) scale(0.92,1)" fill="#111">0.27</text>
<text x="0" y="0" font-size="9" text-anchor="end" transform="translate(124.1,326.4) scale(0.92,1)" fill="#111">0.54</text>
<line x1="42.2" y1="255.4" x2="44.6" y2="255.4" stroke="#444" stroke-width="0.8"/>
<text x="40.8" y="256.8" font-size="4" text-anchor="end" fill="#333">10<tspan font-size="2.7" dy="-1.6">5</tspan></text>
<line x1="42.2" y1="275" x2="44.6" y2="275" stroke="#444" stroke-width="0.8"/>
<text x="40.8" y="276.4" font-size="4" text-anchor="end" fill="#333">10<tspan font-size="2.7" dy="-1.6">4</tspan></text>
<line x1="42.2" y1="300.7" x2="44.6" y2="300.7" stroke="#444" stroke-width="0.8"/>
<text x="40.8" y="302.1" font-size="4" text-anchor="end" fill="#333">10<tspan font-size="2.7" dy="-1.6">3</tspan></text>
<line x1="42.2" y1="315.4" x2="44.6" y2="315.4" stroke="#444" stroke-width="0.8"/>
<text x="40.8" y="316.8" font-size="4" text-anchor="end" fill="#333">0</text>
<line x1="42.2" y1="329.5" x2="44.6" y2="329.5" stroke="#444" stroke-width="0.8"/>
<text x="40.8" y="330.9" font-size="4" text-anchor="end" fill="#333">-10<tspan font-size="2.7" dy="-1.6">3</tspan></text>
<line x1="43.3" y1="249" x2="44.6" y2="249" stroke="#777" stroke-width="0.5"/>
<line x1="43.3" y1="252.3" x2="44.6" y2="252.3" stroke="#777" stroke-width="0.5"/>
<line x1="43.3" y1="255.6" x2="44.6" y2="255.6" stroke="#777" stroke-width="0.5"/>
<line x1="43.3" y1="258.9" x2="44.6" y2="258.9" stroke="#777" stroke-width="0.5"/>
<line x1="43.3" y1="262.2" x2="44.6" y2="262.2" stroke="#777" stroke-width="0.5"/>
<line x1="43.3" y1="265.5" x2="44.6" y2="265.5" stroke="#777" stroke-width="0.5"/>
<line x1="43.3" y1="268.8" x2="44.6" y2="268.8" stroke="#777" stroke-width="0.5"/>
<line x1="43.3" y1="272.1" x2="44.6" y2="272.1" stroke="#777" stroke-width="0.5"/>
<line x1="43.3" y1="275.4" x2="44.6" y2="275.4" stroke="#777" stroke-width="0.5"/>
<line x1="43.3" y1="278.7" x2="44.6" y2="278.7" stroke="#777" stroke-width="0.5"/>
<line x1="43.3" y1="282" x2="44.6" y2="282" stroke="#777" stroke-width="0.5"/>
<line x1="43.3" y1="285.3" x2="44.6" y2="285.3" stroke="#777" stroke-width="0.5"/>
<line x1="43.3" y1="288.6" x2="44.6" y2="288.6" stroke="#777" stroke-width="0.5"/>
<line x1="43.3" y1="291.9" x2="44.6" y2="291.9" stroke="#777" stroke-width="0.5"/>
<line x1="43.3" y1="295.2" x2="44.6" y2="295.2" stroke="#777" stroke-width="0.5"/>
<line x1="43.3" y1="298.5" x2="44.6" y2="298.5" stroke="#777" stroke-width="0.5"/>
<line x1="43.3" y1="301.8" x2="44.6" y2="301.8" stroke="#777" stroke-width="0.5"/>
<line x1="43.3" y1="305.1" x2="44.6" y2="305.1" stroke="#777" stroke-width="0.5"/>
<line x1="43.3" y1="308.4" x2="44.6" y2="308.4" stroke="#777" stroke-width="0.5"/>
<line x1="43.3" y1="311.7" x2="44.6" y2="311.7" stroke="#777" stroke-width="0.5"/>
<line x1="43.3" y1="315" x2="44.6" y2="315" stroke="#777" stroke-width="0.5"/>
<line x1="43.3" y1="318.3" x2="44.6" y2="318.3" stroke="#777" stroke-width="0.5"/>
<line x1="43.3" y1="321.6" x2="44.6" y2="321.6" stroke="#777" stroke-width="0.5"/>
<line x1="43.3" y1="324.9" x2="44.6" y2="324.9" stroke="#777" stroke-width="0.5"/>
<line x1="43.3" y1="328.2" x2="44.6" y2="328.2" stroke="#777" stroke-width="0.5"/>
<line x1="43.3" y1="331.5" x2="44.6" y2="331.5" stroke="#777" stroke-width="0.5"/>
<rect x="42.6" y="313.6" width="1.8" height="3.4" fill="#222"/>
<line x1="49.2" y1="334.6" x2="49.2" y2="336.8" stroke="#444" stroke-width="0.8"/>
<text x="49.2" y="344.6" font-size="4" text-anchor="middle" fill="#333">-10<tspan font-size="2.7" dy="-1.6">3</tspan></text>
<line x1="65" y1="334.6" x2="65" y2="336.8" stroke="#444" stroke-width="0.8"/>
<text x="65" y="344.6" font-size="4" text-anchor="middle" fill="#333">0</text>
<line x1="81.6" y1="334.6" x2="81.6" y2="336.8" stroke="#444" stroke-width="0.8"/>
<text x="81.6" y="344.6" font-size="4" text-anchor="middle" fill="#333">10<tspan font-size="2.7" dy="-1.6">3</tspan></text>
<line x1="105.6" y1="334.6" x2="105.6" y2="336.8" stroke="#444" stroke-width="0.8"/>
<text x="105.6" y="344.6" font-size="4" text-anchor="middle" fill="#333">10<tspan font-size="2.7" dy="-1.6">4</tspan></text>
<line x1="126.3" y1="334.6" x2="126.3" y2="336.8" stroke="#444" stroke-width="0.8"/>
<text x="126.3" y="344.6" font-size="4" text-anchor="middle" fill="#333">10<tspan font-size="2.7" dy="-1.6">5</tspan></text>
<line x1="47.6" y1="334.6" x2="47.6" y2="336" stroke="#777" stroke-width="0.5"/>
<line x1="50.7" y1="334.6" x2="50.7" y2="336" stroke="#777" stroke-width="0.5"/>
<line x1="53.8" y1="334.6" x2="53.8" y2="336" stroke="#777" stroke-width="0.5"/>
<line x1="56.9" y1="334.6" x2="56.9" y2="336" stroke="#777" stroke-width="0.5"/>
<line x1="60" y1="334.6" x2="60" y2="336" stroke="#777" stroke-width="0.5"/>
<line x1="63.1" y1="334.6" x2="63.1" y2="336" stroke="#777" stroke-width="0.5"/>
<line x1="66.2" y1="334.6" x2="66.2" y2="336" stroke="#777" stroke-width="0.5"/>
<line x1="69.3" y1="334.6" x2="69.3" y2="336" stroke="#777" stroke-width="0.5"/>
<line x1="72.4" y1="334.6" x2="72.4" y2="336" stroke="#777" stroke-width="0.5"/>
<line x1="75.5" y1="334.6" x2="75.5" y2="336" stroke="#777" stroke-width="0.5"/>
<line x1="78.6" y1="334.6" x2="78.6" y2="336" stroke="#777" stroke-width="0.5"/>
<line x1="81.7" y1="334.6" x2="81.7" y2="336" stroke="#777" stroke-width="0.5"/>
<line x1="84.8" y1="334.6" x2="84.8" y2="336" stroke="#777" stroke-width="0.5"/>
<line x1="87.9" y1="334.6" x2="87.9" y2="336" stroke="#777" stroke-width="0.5"/>
<line x1="91" y1="334.6" x2="91" y2="336" stroke="#777" stroke-width="0.5"/>
<line x1="94.1" y1="334.6" x2="94.1" y2="336" stroke="#777" stroke-width="0.5"/>
<line x1="97.2" y1="334.6" x2="97.2" y2="336" stroke="#777" stroke-width="0.5"/>
<line x1="100.3" y1="334.6" x2="100.3" y2="336" stroke="#777" stroke-width="0.5"/>
<line x1="103.4" y1="334.6" x2="103.4" y2="336" stroke="#777" stroke-width="0.5"/>
<line x1="106.5" y1="334.6" x2="106.5" y2="336" stroke="#777" stroke-width="0.5"/>
<line x1="109.6" y1="334.6" x2="109.6" y2="336" stroke="#777" stroke-width="0.5"/>
<line x1="112.7" y1="334.6" x2="112.7" y2="336" stroke="#777" stroke-width="0.5"/>
<line x1="115.8" y1="334.6" x2="115.8" y2="336" stroke="#777" stroke-width="0.5"/>
<line x1="118.9" y1="334.6" x2="118.9" y2="336" stroke="#777" stroke-width="0.5"/>
<line x1="122" y1="334.6" x2="122" y2="336" stroke="#777" stroke-width="0.5"/>
<line x1="125.1" y1="334.6" x2="125.1" y2="336" stroke="#777" stroke-width="0.5"/>
<line x1="128.2" y1="334.6" x2="128.2" y2="336" stroke="#777" stroke-width="0.5"/>
<line x1="131.3" y1="334.6" x2="131.3" y2="336" stroke="#777" stroke-width="0.5"/>
<rect x="62.6" y="334.6" width="4.6" height="2.0" fill="#222"/>
<g transform="translate(147.1 245) scale(.1)">
<path d="M697 322h9M653 588h9M551 308h9M587 620h9M648 347h9M702 272h9M385 273h9M432 310h9M694 358h9M737 476h9M679 515h9M157 298h9M298 273h9M613 306h9M798 550h9M705 475h9M716 402h9M210 297h9M151 612h9M718 531h9M427 384h9M595 572h9M454 339h9M709 519h9M381 338h9M527 315h9M530 613h9M224 276h9M224 326h9M638 569h9M264 279h9M633 524h9M704 544h9M171 311h9M167 349h9M506 339h9M388 297h9M608 284h9M602 560h9M518 609h9M549 615h9M591 382h9M512 339h9M557 576h9M467 595h9M717 449h9M174 385h9M197 304h9M625 496h9M494 373h9M669 392h9M644 560h9M658 415h9M435 358h9M357 329h9M645 388h9M395 319h9M718 439h9M553 605h9M428 604h9M401 305h9M256 317h9M440 361h9M336 286h9M698 419h9M672 392h9M615 362h9M302 312h9M366 294h9M627 454h9M712 457h9M694 409h9M627 447h9M208 367h9M470 571h9M225 350h9M639 484h9M492 598h9M447 366h9M313 324h9M560 611h9M485 591h9M265 314h9M245 278h9M370 319h9M484 383h9M488 408h9M528 375h9M156 535h9M502 584h9M542 350h9M563 488h9M250 286h9M513 420h9M678 476h9M374 318h9M349 302h9M203 391h9M211 358h9M567 556h9M709 402h9M249 347h9M603 545h9M210 361h9M155 542h9M171 594h9M676 476h9M358 314h9M301 329h9M526 428h9M448 581h9M534 412h9M543 561h9M347 338h9M624 430h9M191 382h9M475 512h9M629 406h9M544 350h9M504 394h9M446 482h9M437 442h9M649 482h9M394 385h9M618 376h9M424 413h9M188 372h9M338 305h9M626 399h9M507 387h9M175 378h9M240 340h9M667 465h9M676 423h9M243 275h9M479 421h9M682 452h9M649 469h9M168 473h9M587 540h9M578 541h9M548 554h9M633 396h9M457 542h9M499 556h9M424 586h9M436 587h9M160 543h9M616 374h9M346 367h9M543 407h9M481 419h9M406 390h9M519 563h9M337 291h9M653 474h9M548 485h9M170 440h9M242 277h9M519 395h9M672 442h9M504 418h9M614 368h9M638 384h9M530 437h9M395 376h9M546 422h9M462 472h9M532 367h9M562 397h9M264 328h9M607 530h9M588 416h9M628 422h9M590 536h9M542 477h9M655 441h9M505 544h9M511 564h9M283 325h9M490 542h9M543 454h9M171 434h9M362 362h9M642 442h9M169 510h9M385 396h9M443 534h9M391 375h9M422 421h9M644 453h9M611 429h9M413 429h9M489 487h9M457 475h9M550 352h9M550 383h9M569 536h9M253 340h9M187 606h9M555 431h9M389 624h9M170 566h9M168 522h9M604 468h9M589 430h9M534 540h9M248 356h9M547 378h9M186 598h9M468 456h9M540 540h9M215 388h9M451 467h9M554 407h9M432 469h9M477 541h9M467 525h9M509 438h9M453 444h9M425 586h9M457 548h9M574 409h9M292 342h9M344 336h9M609 461h9M432 561h9M546 404h9M565 451h9M530 556h9M365 383h9M639 408h9M607 501h9M480 579h9M514 462h9M573 521h9M216 370h9M508 395h9M529 538h9M485 424h9M503 528h9M571 416h9M340 343h9M669 454h9M526 559h9M209 415h9M559 517h9M287 337h9M563 414h9M362 376h9M511 522h9M240 384h9M161 459h9M559 536h9M229 382h9M191 611h9M182 580h9M581 502h9M575 476h9M528 524h9M544 515h9M512 529h9M327 343h9M484 527h9M593 518h9M525 456h9M445 550h9M488 576h9M502 487h9M519 475h9M593 426h9M275 339h9M180 466h9M584 511h9M483 477h9M651 461h9M233 397h9M469 433h9M563 479h9M231 371h9M574 439h9M594 439h9M565 419h9M440 503h9M433 536h9M175 510h9M411 553h9M170 516h9M277 341h9M560 409h9M207 415h9M486 503h9M335 347h9M517 506h9M654 447h9M487 463h9M397 401h9M560 511h9M486 561h9M590 465h9M175 530h9M252 387h9M436 552h9M484 572h9M485 574h9M170 459h9M454 468h9M477 536h9M556 456h9M496 502h9M239 395h9M229 623h9M508 431h9M480 482h9M231 396h9M593 453h9M393 419h9M270 357h9M610 441h9M555 430h9M416 559h9M614 463h9M503 464h9M290 370h9M441 479h9M484 522h9M418 453h9M396 617h9M426 436h9M586 468h9M440 541h9M405 591h9M393 603h9M368 620h9M588 468h9M497 445h9M181 545h9M509 529h9M274 362h9M420 521h9M603 497h9M541 379h9M396 406h9M557 500h9" stroke="#3b57ca" stroke-width="9" stroke-opacity="0.5" fill="none"/>
<path d="M490 494h9M422 542h9M246 400h9M486 469h9M214 621h9M191 428h9M187 582h9M287 359h9M589 478h9M529 481h9M181 437h9M189 550h9M227 400h9M361 398h9M589 494h9M323 341h9M582 503h9M540 373h9M493 501h9M482 437h9M499 494h9M440 450h9M488 463h9M535 462h9M590 463h9M522 512h9M586 454h9M347 368h9M524 481h9M303 367h9M556 460h9M496 437h9M523 467h9M198 426h9M261 356h9M572 443h9M437 539h9M424 460h9M489 442h9M184 539h9M350 385h9M263 363h9M407 445h9M393 418h9M176 453h9M189 546h9M214 419h9M379 613h9M185 481h9M540 503h9M320 356h9M412 440h9M544 511h9M296 351h9M501 457h9M425 532h9M317 347h9M189 452h9M180 494h9M397 400h9M247 621h9M532 464h9M411 564h9M431 522h9M405 423h9M184 519h9M436 482h9M599 436h9M195 454h9M492 451h9M476 527h9M277 357h9M590 508h9M337 377h9M590 491h9M188 462h9M411 431h9M262 385h9M401 434h9M401 596h9M500 466h9M408 446h9M304 360h9M528 501h9M528 515h9M182 532h9M356 390h9M304 343h9M278 353h9M545 508h9M522 505h9M459 458h9M406 601h9M522 484h9M592 498h9M598 493h9M433 518h9M486 517h9M519 451h9M270 374h9M511 498h9M583 446h9M480 450h9M281 375h9M371 615h9M391 555h9M180 511h9M493 462h9M351 390h9M491 453h9M419 463h9M269 389h9M200 470h9M195 551h9M517 500h9M341 622h9M237 624h9M200 433h9M410 512h9M420 506h9M234 418h9M278 359h9M574 432h9M363 617h9M427 498h9M594 503h9M338 375h9M213 436h9M192 435h9M186 447h9M355 377h9M188 480h9M302 375h9M405 552h9M183 500h9M375 417h9M318 622h9M303 388h9M393 555h9M239 621h9M183 509h9M193 479h9M286 383h9M299 392h9M338 390h9M327 407h9M195 550h9M276 398h9M554 525h9M417 502h9M307 371h9M181 501h9M305 367h9M397 586h9M527 497h9M319 379h9M332 382h9M313 384h9M193 570h9M239 620h9M416 514h9M181 506h9M423 474h9M363 610h9M391 602h9M320 371h9M393 576h9M216 612h9M307 362h9M529 494h9M429 495h9M405 444h9M196 484h9M409 561h9M352 407h9M290 622h9M334 625h9M182 495h9M413 516h9M416 503h9M392 437h9M247 405h9M209 615h9M295 398h9M279 394h9M392 588h9M318 387h9M196 562h9M254 404h9M413 465h9M269 398h9M362 415h9M397 597h9M215 425h9M312 379h9M308 379h9M341 406h9M407 524h9M196 573h9M388 551h9M392 425h9M201 444h9M197 496h9M361 424h9M296 414h9M211 497h9M200 490h9M371 598h9M398 536h9M205 461h9M314 360h9M396 436h9M395 585h9M181 453h9M389 429h9M201 609h9M268 621h9M391 587h9M334 620h9M194 498h9M391 441h9M407 534h9M281 624h9M358 428h9M209 601h9M392 586h9M365 440h9M508 508h9M364 426h9M394 575h9M201 552h9M217 495h9M202 447h9" stroke="#3a5ccd" stroke-width="9" stroke-opacity="0.6" fill="none"/>
<path d="M392 527h9M323 400h9M232 421h9M414 530h9M195 542h9M406 495h9M374 440h9M384 598h9M343 619h9M242 439h9M278 624h9M282 402h9M195 517h9M209 554h9M207 529h9M378 410h9M243 423h9M381 562h9M206 608h9M217 433h9M263 404h9M366 604h9M374 446h9M412 474h9M314 400h9M332 389h9M213 439h9M213 600h9M382 540h9M200 434h9M205 448h9M269 397h9M331 394h9M374 424h9M403 529h9M280 621h9M182 514h9M257 391h9M203 579h9M374 600h9M407 522h9M377 428h9M376 577h9M207 547h9M276 404h9M330 619h9M219 459h9M382 579h9M310 624h9M287 410h9M207 483h9M416 483h9M257 412h9M341 602h9M328 408h9M191 538h9M329 619h9M223 437h9M354 418h9M305 402h9M343 426h9M409 502h9M270 395h9M276 622h9M268 400h9M228 614h9M264 405h9M230 451h9M208 522h9M397 470h9M405 516h9M375 602h9M409 478h9M207 601h9M340 427h9M385 454h9M382 458h9M385 543h9M388 502h9M314 625h9M236 429h9M304 381h9M224 614h9M223 437h9M262 401h9M384 520h9M202 583h9M393 472h9M330 392h9M203 464h9M339 615h9M206 487h9M239 610h9M219 457h9M341 416h9M255 620h9M387 552h9M204 597h9M305 384h9M231 611h9M409 502h9M230 612h9M369 435h9M389 589h9M305 387h9M210 522h9M306 614h9M256 419h9M401 516h9M265 418h9M347 413h9M372 590h9M218 478h9M372 446h9M231 615h9M230 426h9M338 614h9M314 400h9M209 512h9M314 404h9M376 446h9M307 621h9M277 420h9M406 460h9M296 393h9M324 400h9M226 593h9M206 598h9M228 619h9M207 583h9M335 608h9M403 502h9M208 557h9M416 498h9M394 496h9M235 434h9M244 440h9M337 416h9M403 472h9M220 465h9M236 614h9M378 552h9M258 402h9M214 607h9M385 583h9M393 471h9M304 410h9M398 472h9M224 431h9M301 622h9M230 561h9M295 409h9M213 546h9M204 473h9M351 603h9M204 572h9M274 622h9M376 592h9M332 424h9M283 396h9M320 406h9M204 520h9M404 521h9M209 462h9M387 514h9M214 588h9M371 448h9M400 495h9M372 554h9M355 434h9M387 510h9M248 442h9M412 471h9M212 545h9M217 541h9M210 585h9M217 535h9M392 471h9M294 413h9M397 498h9M224 448h9M201 578h9M351 449h9M214 516h9M221 580h9M210 596h9M356 427h9M221 484h9M256 431h9M208 555h9M385 503h9M355 597h9M408 463h9M237 602h9M392 491h9M350 438h9M385 513h9M269 434h9M364 597h9M289 619h9M191 520h9M367 586h9M207 481h9M314 404h9M290 407h9" stroke="#3861d0" stroke-width="9" stroke-opacity="0.75" fill="none"/>
<path d="M213 480h9M214 484h9M226 592h9M328 417h9M390 487h9M385 526h9M333 414h9M383 517h9M332 390h9M399 465h9M383 468h9M345 596h9M263 613h9M384 458h9M298 423h9M284 622h9M288 624h9M214 552h9M206 583h9M380 510h9M214 468h9M218 584h9M368 446h9M383 489h9M317 611h9M223 541h9M344 444h9M278 410h9M399 471h9M204 513h9M346 428h9M265 416h9M223 615h9M239 583h9M328 403h9M381 462h9M368 591h9M220 517h9M257 606h9M283 427h9M318 404h9M372 587h9M223 583h9M309 405h9M260 432h9M380 520h9M401 500h9M401 460h9M365 470h9M390 587h9M365 611h9M239 493h9M388 464h9M357 595h9M218 537h9M374 530h9M229 482h9M339 437h9M376 566h9M360 583h9M332 425h9M228 551h9M256 610h9M220 563h9M389 478h9M216 513h9M397 498h9M212 446h9M350 577h9M218 575h9M254 613h9M226 474h9M404 506h9M363 424h9M372 545h9M257 427h9M224 502h9M220 452h9M366 443h9M210 533h9M215 490h9M246 435h9M320 404h9M236 600h9M226 606h9M203 533h9M399 487h9M339 439h9M229 438h9M211 452h9M375 551h9M218 470h9M327 606h9M342 609h9M289 438h9M362 570h9M330 425h9M386 496h9M220 498h9M363 458h9M380 479h9M238 437h9M396 487h9M225 482h9M313 606h9M220 599h9M371 555h9M278 421h9M298 615h9M340 424h9M240 560h9M215 453h9M279 421h9M258 464h9M379 464h9M270 618h9M348 450h9M350 609h9M221 540h9M386 488h9M315 407h9M216 560h9M279 412h9M266 619h9M310 428h9M319 402h9M249 580h9M288 607h9M211 555h9M231 449h9M305 425h9M374 587h9M237 519h9M310 429h9M234 606h9M225 441h9M362 455h9M236 471h9M277 439h9M230 443h9M364 583h9M224 569h9M254 424h9M219 525h9M232 434h9M229 595h9M226 569h9M219 482h9M220 581h9M388 505h9M239 578h9M272 414h9M374 509h9M375 490h9M370 467h9M282 438h9M377 531h9M294 434h9M351 449h9M303 418h9M385 480h9M246 437h9M362 556h9M270 612h9M376 500h9M240 607h9M303 432h9M336 606h9M343 555h9M356 450h9M379 568h9M226 488h9M343 449h9M226 578h9M237 556h9M221 529h9M304 603h9M318 402h9M230 591h9M267 431h9M226 486h9M218 471h9M257 440h9M290 453h9M239 502h9M351 577h9M274 440h9M399 481h9M246 467h9M248 524h9M306 604h9M377 474h9M262 593h9M241 507h9M262 461h9M365 580h9M332 432h9M221 487h9M234 584h9M211 511h9M222 520h9M377 480h9M273 451h9M324 593h9M366 485h9M267 429h9M386 505h9M295 427h9M245 602h9M339 411h9M360 588h9M372 482h9" stroke="#396ed3" stroke-width="9" fill="none"/>
<path d="M386 474h9M254 444h9M363 491h9M369 567h9M294 435h9M363 557h9M365 452h9M374 462h9M372 563h9M251 449h9M237 476h9M272 599h9M379 504h9M240 483h9M221 601h9M372 465h9M237 547h9M203 530h9M213 515h9M398 479h9M234 472h9M245 595h9M332 605h9M223 509h9M254 446h9M291 416h9M261 437h9M258 456h9M372 539h9M357 507h9M378 524h9M368 577h9M239 532h9M361 570h9M245 546h9M222 590h9M279 608h9M332 430h9M348 477h9M268 615h9M226 536h9M324 428h9M353 458h9M230 518h9M226 530h9M237 438h9M234 463h9M249 506h9M331 412h9M349 462h9M359 546h9M307 607h9M239 465h9M359 596h9M265 448h9M358 582h9M296 618h9M284 443h9M312 613h9M383 470h9M361 584h9M235 446h9M240 476h9M233 457h9M240 473h9M219 598h9M345 492h9M327 428h9M280 422h9M352 514h9M279 433h9M220 580h9M311 424h9M330 428h9M319 590h9M295 423h9M257 599h9M296 423h9M280 617h9M221 516h9M286 607h9M228 546h9M282 585h9M287 440h9M204 526h9M231 447h9M214 543h9M269 445h9M249 554h9M373 486h9M318 602h9M253 605h9M243 576h9M372 466h9M263 431h9M294 439h9M307 430h9M341 586h9M245 490h9M360 560h9M328 437h9M289 620h9M320 597h9M216 527h9M248 466h9M308 435h9M300 609h9M261 614h9M322 424h9M232 505h9M322 438h9M239 574h9M356 496h9M363 480h9M307 616h9M369 535h9M296 439h9M370 541h9M372 443h9M382 500h9M273 450h9M237 585h9M379 492h9M232 459h9M335 571h9M353 567h9M366 471h9M245 497h9M351 471h9M233 466h9M363 490h9M254 597h9M231 576h9M367 550h9M375 516h9M365 539h9M361 522h9M227 557h9M234 517h9M246 467h9M251 477h9M260 598h9M386 515h9M243 549h9M248 527h9M260 590h9M245 584h9M364 552h9M328 412h9M270 449h9M368 509h9M326 430h9M290 480h9M371 491h9M326 606h9M360 547h9M338 437h9M241 500h9M346 480h9M355 572h9M283 489h9M258 601h9M220 474h9M254 498h9M237 565h9M341 478h9M230 544h9M257 569h9M380 540h9M228 547h9M293 613h9M265 447h9M361 460h9M370 499h9M329 431h9M369 555h9M272 431h9M207 526h9M357 595h9M234 520h9M250 483h9M343 457h9M342 462h9M356 460h9M251 588h9M334 595h9M326 609h9M374 555h9M310 615h9M369 532h9M252 470h9M270 452h9M320 424h9M388 484h9M237 588h9M260 582h9M235 478h9M363 566h9M349 587h9M292 601h9M344 547h9M253 596h9M224 505h9M279 429h9M368 482h9M348 469h9M317 423h9M263 605h9M368 474h9M243 597h9M265 478h9M339 518h9M326 419h9M335 441h9M301 441h9M223 540h9M247 497h9M358 475h9M372 511h9M325 402h9M323 589h9M251 477h9M252 478h9M358 514h9M237 482h9M224 525h9M340 459h9M240 580h9M243 587h9M236 531h9M243 529h9M368 527h9M352 534h9M263 437h9M335 568h9M225 584h9M235 448h9M366 469h9M253 478h9M363 537h9M291 579h9M279 461h9M352 465h9" stroke="#3d87d5" stroke-width="9" fill="none"/>
<path d="M280 610h12M249 564h12M327 451h12M377 516h12M275 458h12M247 531h12M361 526h12M241 448h12M326 605h12M365 465h12M314 457h12M279 585h12M365 550h12M235 572h12M282 618h12M357 565h12M238 585h12M258 598h12M347 574h12M325 609h12M266 449h12M327 447h12M346 561h12M369 458h12M256 583h12M358 584h12M245 583h12M361 531h12M236 542h12M220 544h12M234 593h12M334 476h12M369 516h12M238 471h12M218 549h12M289 611h12M290 604h12M290 602h12M289 619h12M271 605h12M273 448h12M242 451h12M347 562h12M362 490h12M350 560h12M350 465h12M365 515h12M214 515h12M313 444h12M341 595h12M329 425h12M243 471h12M357 512h12M351 584h12M364 486h12M239 550h12M268 436h12M270 456h12M333 467h12M275 581h12M248 557h12M251 480h12M333 585h12M356 460h12M354 467h12M276 601h12M302 609h12M351 523h12M251 477h12M280 421h12M252 553h12M249 555h12M358 461h12M317 401h12M240 503h12M341 442h12M253 447h12M293 453h12M245 546h12M344 488h12M305 456h12M327 431h12M296 604h12M353 468h12M340 581h12M318 485h12M351 577h12M342 477h12M282 443h12M306 456h12M277 449h12M335 605h12M283 608h12M254 550h12M356 551h12M257 527h12M238 567h12M334 554h12M300 605h12M231 527h12M351 516h12M235 509h12M222 507h12M318 595h12M263 584h12M360 497h12M254 541h12M363 496h12M234 506h12M335 594h12M336 449h12M270 618h12M309 440h12M344 479h12M361 545h12M367 518h12M256 445h12M280 444h12M363 474h12M330 592h12M240 499h12M355 557h12M245 540h12M368 477h12M352 566h12M362 471h12M345 584h12M265 456h12M263 584h12M241 537h12M361 534h12M245 542h12M328 479h12M356 571h12M247 575h12M248 575h12M334 453h12M250 466h12M364 551h12M265 578h12M320 433h12M352 500h12M268 436h12M270 461h12M315 430h12M234 565h12M284 590h12M362 537h12M276 588h12M338 440h12M315 448h12M319 560h12M231 489h12M334 450h12M223 514h12M363 508h12M304 600h12M370 518h12M259 488h12M234 518h12M232 588h12M330 453h12M349 501h12M353 464h12M378 455h12M352 484h12M259 444h12M264 464h12M243 543h12M375 525h12M356 543h12M257 471h12M326 450h12M280 457h12M360 588h12M212 496h12M262 606h12M242 557h12M238 505h12M338 598h12M331 542h12M307 588h12M318 516h12M349 493h12M360 454h12M344 484h12M313 466h12M251 564h12M328 456h12M320 467h12M327 574h12M283 606h12M299 603h12M370 468h12M354 468h12M308 449h12M328 563h12M278 552h12M286 613h12M308 456h12M226 522h12M350 467h12M353 490h12M316 581h12M268 492h12M306 534h12M356 553h12M339 539h12M276 595h12M277 487h12M249 585h12M348 577h12M344 496h12M232 586h12M254 572h12M304 433h12M309 520h12M243 544h12M347 543h12M351 534h12M252 458h12M354 536h12M321 505h12M273 446h12M263 607h12M330 529h12M254 541h12M272 530h12M266 581h12M277 499h12M327 438h12M357 508h12M349 473h12M305 435h12M330 584h12M278 552h12M343 536h12M282 456h12M363 480h12M310 484h12M272 598h12M303 453h12M249 570h12M310 528h12M220 517h12M321 560h12M317 452h12M321 469h12M239 529h12M364 487h12M260 584h12M254 563h12" stroke="#429fd2" stroke-width="12" fill="none"/>
<path d="M299 517h12M263 462h12M328 459h12M303 588h12M306 469h12M356 541h12M326 439h12M356 518h12M291 458h12M235 543h12M262 448h12M313 590h12M288 490h12M281 574h12M278 606h12M248 538h12M343 564h12M230 527h12M221 572h12M322 592h12M278 590h12M252 573h12M284 581h12M307 591h12M298 450h12M256 561h12M249 475h12M256 474h12M252 574h12M259 584h12M317 448h12M278 451h12M247 502h12M357 589h12M252 587h12M261 542h12M289 583h12M220 537h12M260 558h12M322 467h12M292 600h12M258 496h12M334 553h12M272 503h12M345 562h12M259 469h12M248 542h12M263 569h12M256 461h12M339 573h12M317 581h12M239 583h12M340 588h12M308 582h12M258 586h12M265 579h12M253 599h12M257 481h12M341 551h12M246 516h12M369 546h12M244 512h12M266 513h12M346 470h12M314 451h12M281 518h12M324 586h12M282 597h12M237 524h12M294 469h12M265 583h12M352 495h12M263 485h12M329 582h12M302 445h12M322 456h12M276 555h12M313 565h12M296 584h12M296 589h12M260 597h12M250 585h12M344 549h12M259 483h12M342 474h12M259 543h12M334 580h12M250 456h12M263 570h12M334 499h12M244 515h12M242 520h12M345 486h12M257 505h12M271 577h12M327 575h12M341 569h12M247 538h12M258 543h12M335 599h12M275 574h12M350 563h12M292 588h12M329 589h12M238 575h12M364 478h12M270 512h12M293 452h12M251 498h12M282 598h12M349 557h12M355 532h12M256 571h12M278 473h12M334 532h12M314 587h12M245 569h12M337 522h12M327 597h12M273 588h12M322 559h12M312 483h12M297 601h12M250 546h12M298 488h12M336 539h12M242 512h12M256 477h12M293 587h12M260 541h12M260 479h12M357 552h12M279 527h12M338 527h12M277 592h12M287 614h12M277 469h12M346 561h12M267 551h12M249 574h12M329 507h12M299 542h12M346 469h12M295 512h12M267 533h12M337 508h12M291 458h12M262 558h12M321 466h12M256 519h12M331 553h12M278 564h12M308 455h12M340 566h12M336 511h12M318 447h12M358 513h12M259 465h12M271 585h12M268 488h12M239 511h12M245 499h12M288 566h12M331 498h12M270 454h12M353 527h12M230 464h12M272 571h12M245 517h12M329 540h12M359 520h12M236 575h12M314 441h12M281 595h12M293 457h12M321 578h12M332 557h12M272 456h12M245 529h12M327 535h12M370 529h12M365 532h12M253 563h12M336 481h12M280 488h12M331 475h12M267 498h12M255 485h12M247 509h12M348 500h12M249 528h12M311 556h12M342 524h12M285 606h12M311 560h12M361 523h12M289 502h12M344 533h12M275 508h12M327 455h12M276 605h12M294 455h12M266 589h12M320 594h12M336 491h12M319 468h12M266 583h12M271 478h12M262 530h12M279 502h12M351 488h12M278 573h12M309 581h12M331 585h12M314 452h12M321 531h12M342 547h12M252 526h12M281 572h12M318 497h12M305 516h12M321 488h12M266 458h12M272 531h12M285 478h12M341 523h12M275 539h12M280 484h12M243 513h12M266 443h12M260 542h12M297 452h12M273 488h12M276 473h12M269 520h12M283 534h12M319 513h12M243 509h12M303 588h12M257 523h12M281 579h12M275 512h12M252 505h12M317 454h12M286 584h12M312 493h12M305 489h12M337 474h12M330 497h12M337 512h12M310 455h12M328 583h12M233 511h12M277 584h12M297 470h12M312 580h12M336 582h12M352 553h12M331 564h12M273 501h12M343 517h12M280 456h12M355 509h12M259 547h12M317 598h12M325 486h12M301 554h12M285 553h12M297 582h12M318 467h12M292 467h12M308 560h12M336 540h12M284 542h12M314 543h12M280 474h12M303 597h12M263 506h12M269 509h12M283 493h12M263 457h12M256 497h12M265 486h12M317 572h12M338 580h12M259 483h12M332 508h12M312 506h12M351 530h12M272 479h12M307 464h12M267 578h12M259 478h12M272 503h12M309 548h12M324 579h12M265 510h12M316 559h12M291 499h12M271 468h12M334 499h12M317 544h12M308 572h12M297 582h12M271 466h12M319 461h12M326 461h12M284 570h12M306 595h12M282 486h12M311 554h12M309 449h12M313 504h12" stroke="#48b4b7" stroke-width="12" fill="none"/>
<path d="M267 478h12M277 500h12M264 515h12M359 529h12M332 560h12M323 479h12M268 483h12M280 456h12M331 539h12M293 441h12M323 526h12M348 559h12M281 616h12M336 511h12M267 505h12M336 583h12M271 474h12M286 457h12M279 589h12M275 518h12M323 571h12M315 546h12M315 596h12M251 559h12M357 501h12M330 518h12M263 560h12M284 464h12M355 515h12M299 455h12M281 501h12M291 470h12M262 542h12M267 470h12M274 553h12M298 576h12M293 443h12M354 538h12M303 489h12M285 474h12M337 516h12M334 514h12M339 577h12M341 508h12M279 510h12M308 452h12M253 501h12M258 524h12M268 578h12M341 475h12M257 539h12M332 576h12M330 580h12M269 513h12M326 474h12M309 559h12M288 465h12M314 542h12M291 466h12M308 470h12M325 535h12M325 471h12M304 511h12M261 503h12M259 494h12M300 517h12M329 538h12M281 508h12M308 475h12M257 488h12M315 564h12M277 493h12M327 585h12M349 547h12M266 575h12M354 525h12M297 540h12M289 503h12M262 507h12M337 571h12M334 469h12M262 482h12M284 503h12M336 525h12M251 545h12M339 484h12M336 524h12M270 489h12M309 503h12M329 474h12M259 526h12M295 528h12M293 487h12M296 568h12M319 447h12M312 448h12M254 492h12M320 576h12M266 487h12M282 573h12M279 596h12M268 499h12M333 472h12M288 472h12M313 565h12M314 575h12M293 487h12M263 516h12M302 435h12M277 459h12M257 468h12M258 554h12M325 532h12M299 492h12M356 556h12M294 574h12M316 550h12M276 522h12M322 580h12M282 588h12M271 569h12M281 572h12M265 555h12M311 585h12M265 490h12M253 481h12M303 478h12M247 536h12M290 503h12M305 475h12M344 480h12M352 485h12M337 527h12M252 554h12M312 465h12M316 575h12M305 453h12M320 489h12M304 491h12M340 482h12M289 497h12M279 571h12M315 557h12M351 555h12M336 516h12M325 490h12M339 526h12M322 490h12M311 489h12M282 574h12M348 572h12M260 484h12M266 478h12M304 462h12M329 486h12M279 525h12M357 524h12M309 581h12M325 511h12M253 514h12M277 549h12M342 517h12M297 597h12M296 490h12M347 528h12M333 593h12M304 586h12M240 553h12M282 525h12M293 514h12M316 477h12M290 491h12M290 532h12M309 471h12M280 525h12M276 561h12M304 557h12M295 590h12M263 534h12M334 577h12M278 534h12M271 529h12M287 582h12M266 558h12M281 454h12M315 462h12M333 539h12M347 495h12M251 578h12M263 538h12M303 513h12M319 446h12M315 560h12M307 593h12M285 493h12M313 472h12M339 496h12M306 534h12M303 466h12M292 506h12M312 478h12M291 548h12M298 472h12M338 565h12M330 533h12M334 498h12M296 561h12M276 546h12M339 519h12M289 471h12M335 561h12M253 528h12M288 502h12M326 476h12M298 555h12M323 456h12M294 557h12M363 538h12M282 508h12M264 454h12M278 513h12M328 519h12M315 510h12M346 537h12M346 529h12M301 484h12M322 580h12M301 540h12M302 478h12M360 516h12M288 598h12M306 551h12M278 575h12M330 501h12M295 576h12M329 544h12M276 456h12M324 577h12M281 501h12M287 483h12M333 593h12M343 547h12M314 538h12M307 555h12M321 488h12M235 528h12M262 502h12M284 519h12M261 485h12M312 524h12M249 544h12M333 514h12M281 515h12M285 598h12M306 491h12M275 545h12M297 447h12M343 475h12M296 475h12M345 571h12M259 514h12M285 535h12M276 547h12M270 548h12M328 478h12M312 481h12M260 491h12M288 554h12M281 578h12M277 543h12M281 532h12M291 574h12M261 544h12M337 528h12M325 481h12M340 532h12M325 514h12M332 558h12M286 540h12M326 568h12M289 469h12M266 499h12M321 569h12M313 498h12M289 560h12M332 566h12M346 525h12M327 559h12M331 474h12M293 556h12M315 572h12M268 561h12M263 506h12M314 525h12M318 509h12M274 516h12M276 544h12M302 570h12M330 534h12M278 493h12M298 577h12M361 522h12M325 544h12M335 528h12M294 558h12M264 499h12M326 479h12M306 487h12M324 559h12M308 501h12M341 500h12M330 578h12M289 471h12M310 541h12M330 515h12M268 540h12M325 533h12M274 491h12M255 567h12M311 545h12M325 482h12M305 506h12M271 486h12M307 477h12" stroke="#51c18f" stroke-width="12" fill="none"/>
<path d="M308 492h12M342 520h12M299 471h12M262 590h12M301 488h12M327 513h12M286 528h12M277 545h12M270 581h12M267 530h12M310 469h12M276 568h12M310 450h12M324 501h12M270 558h12M333 482h12M335 486h12M288 534h12M340 495h12M286 506h12M261 594h12M291 500h12M297 570h12M313 517h12M273 555h12M326 486h12M335 540h12M307 574h12M296 478h12M343 545h12M337 559h12M298 463h12M329 576h12M294 528h12M290 550h12M313 588h12M302 464h12M332 492h12M284 523h12M265 541h12M271 502h12M348 520h12M256 529h12M284 504h12M302 534h12M274 471h12M269 554h12M308 469h12M257 516h12M295 531h12M286 512h12M310 517h12M320 444h12M292 490h12M307 572h12M296 499h12M284 506h12M333 570h12M307 553h12M295 505h12M302 549h12M308 567h12M337 535h12M281 585h12M319 486h12M319 493h12M297 474h12M261 566h12M335 552h12M293 458h12M321 534h12M305 500h12M271 473h12M260 553h12M288 487h12M312 474h12M303 504h12M255 550h12M294 492h12M296 507h12M336 502h12M269 525h12M334 510h12M294 525h12M278 521h12M274 579h12M290 486h12M289 531h12M328 569h12M286 471h12M305 466h12M289 558h12M267 530h12M265 469h12M298 498h12M265 537h12M294 528h12M298 531h12M346 519h12M245 512h12M278 534h12M265 526h12M287 533h12M313 519h12M270 493h12M309 450h12M286 553h12M310 472h12M278 550h12M310 514h12M298 494h12M319 588h12M294 564h12M299 557h12M305 492h12M264 565h12M333 536h12M269 505h12M316 544h12M342 526h12M307 580h12M327 494h12M264 477h12M298 531h12M289 566h12M301 510h12M313 495h12M309 479h12M280 468h12M280 536h12M315 563h12M327 531h12M353 498h12M298 509h12M318 579h12M312 491h12M302 593h12M268 503h12M276 549h12M261 572h12M297 538h12M313 509h12M309 471h12M264 559h12M306 529h12M296 540h12M330 544h12M308 456h12M279 558h12M283 462h12M314 500h12M312 511h12M280 519h12M266 527h12M298 537h12M250 529h12M336 481h12M337 522h12M318 524h12M324 475h12M332 528h12M323 469h12M287 512h12M258 488h12M337 514h12M269 524h12M256 517h12M288 516h12M303 545h12M290 470h12M305 499h12M310 506h12M290 565h12M276 534h12M333 538h12M354 494h12M293 560h12M304 463h12M287 576h12M324 552h12M314 569h12M309 574h12M310 520h12M280 536h12M296 466h12M307 496h12M307 554h12M268 552h12M328 540h12M261 540h12M304 480h12M313 537h12M303 526h12M320 560h12M345 563h12M340 477h12M323 541h12M298 551h12M303 523h12M282 535h12M323 561h12M359 521h12M322 474h12M277 558h12M274 516h12M283 515h12M339 537h12M292 508h12M313 501h12M294 507h12M314 541h12M296 455h12M317 457h12M290 493h12M317 552h12M293 545h12M291 563h12M311 565h12M279 497h12M322 504h12M309 510h12M312 524h12M262 543h12M301 527h12" stroke="#5dc75a" stroke-width="12" fill="none"/>
<path d="M337 521h12M287 455h12M320 571h12M268 511h12M319 536h12M309 506h12M315 537h12M307 481h12M301 534h12M314 584h12M255 535h12M296 525h12M314 523h12M309 458h12M273 555h12M317 542h12M289 584h12M312 530h12M339 519h12M329 519h12M267 546h12M305 514h12M294 525h12M331 545h12M314 515h12M311 522h12M301 498h12M273 526h12M357 517h12M332 540h12M287 509h12M306 473h12M312 525h12M331 529h12M282 569h12M287 540h12M321 558h12M294 504h12M268 519h12M314 499h12M282 547h12M302 509h12M305 549h12M289 478h12M267 560h12M331 534h12M279 499h12M303 468h12M293 579h12M258 555h12M272 554h12M335 550h12M291 573h12M296 542h12M306 558h12M337 529h12M308 558h12M323 504h12M302 461h12M300 544h12M291 528h12M323 551h12M313 494h12M250 524h12M288 592h12M308 504h12M314 502h12M283 565h12M307 559h12M303 548h12M307 575h12M337 535h12M304 545h12M253 538h12M307 555h12M303 491h12M310 572h12M318 563h12M313 534h12M289 471h12M301 568h12M299 577h12M265 550h12M314 551h12M273 500h12M297 477h12M285 567h12M245 515h12M274 537h12M285 496h12M277 556h12M318 496h12M344 508h12M288 543h12M269 525h12M322 498h12M324 590h12M335 519h12M267 516h12M284 541h12M289 571h12M305 526h12M283 539h12M312 480h12M273 538h12M299 512h12M306 520h12M313 528h12M276 583h12M305 558h12M323 523h12M308 516h12" stroke="#87ce41" stroke-width="12" fill="none"/>
<path d="M286 523h12M302 563h12M321 520h12M296 552h12M275 496h12M270 547h12M317 530h12M299 553h12M317 498h12M318 478h12M316 528h12M319 582h12M292 499h12M291 508h12M335 546h12M307 526h12M312 485h12M328 548h12M290 563h12M324 522h12M287 564h12M301 569h12M335 530h12M272 536h12M306 547h12M289 523h12M275 496h12M271 537h12M336 503h12M323 519h12M291 537h12M287 534h12M342 528h12M300 533h12M304 511h12M317 526h12M289 539h12M279 533h12M255 513h12M316 520h12M314 503h12M325 498h12M329 519h12M279 550h12M347 502h12M296 524h12M294 547h12M297 536h12M291 537h12M273 541h12M290 545h12M300 527h12M285 507h12M309 546h12M327 535h12M326 490h12M311 497h12M316 571h12M262 530h12M314 486h12M316 558h12M287 505h12M312 467h12M296 499h12M306 539h12M288 536h12M276 502h12" stroke="#b7d630" stroke-width="12" fill="none"/>
<path d="M290 530h12M282 560h12M266 529h12M307 545h12M320 549h12M272 571h12M339 495h12M335 526h12M299 471h12M327 480h12M299 528h12M298 504h12M262 547h12M307 491h12M312 561h12M296 548h12M299 553h12M292 489h12M294 536h12M276 519h12M284 460h12M316 510h12M272 524h12M292 547h12M310 471h12M288 549h12M295 469h12M301 465h12" stroke="#dac028" stroke-width="12" fill="none"/>
<path d="M324 588h12M292 527h12M284 511h12M304 505h12M282 504h12M322 516h12M335 529h12" stroke="#f49d22" stroke-width="12" fill="none"/>
<path d="M281 528h12M316 494h12M315 539h12M296 531h12M333 535h12M277 516h12M298 540h12M335 540h12M314 521h12M281 529h12M312 537h12M286 540h12M297 533h12M305 489h12M287 501h12M281 520h12" stroke="#ee551d" stroke-width="12" fill="none"/>
</g>
<rect x="147.1" y="245" width="89.8" height="89.6" stroke="#8f8f8f" stroke-width="0.9" fill="none"/>
<line x1="187.1" y1="245" x2="187.1" y2="334.6" stroke="#2e2e2e" stroke-width="1"/>
<line x1="147.1" y1="307.2" x2="236.9" y2="307.2" stroke="#2e2e2e" stroke-width="1"/>
<text x="0" y="0" font-size="9" transform="translate(154.6,263.1) scale(0.92,1)" fill="#111">94.0</text>
<text x="0" y="0" font-size="9" text-anchor="end" transform="translate(226.8,263.1) scale(0.92,1)" fill="#111">5.58</text>
<text x="0" y="0" font-size="9" transform="translate(155.8,326.4) scale(0.92,1)" fill="#111">0.41</text>
<text x="0" y="0" font-size="9" text-anchor="end" transform="translate(227.1,326.4) scale(0.92,1)" fill="#111">0.02</text>
<line x1="144.7" y1="255.4" x2="147.1" y2="255.4" stroke="#444" stroke-width="0.8"/>
<text x="143.3" y="256.8" font-size="4" text-anchor="end" fill="#333">10<tspan font-size="2.7" dy="-1.6">5</tspan></text>
<line x1="144.7" y1="275" x2="147.1" y2="275" stroke="#444" stroke-width="0.8"/>
<text x="143.3" y="276.4" font-size="4" text-anchor="end" fill="#333">10<tspan font-size="2.7" dy="-1.6">4</tspan></text>
<line x1="144.7" y1="300.7" x2="147.1" y2="300.7" stroke="#444" stroke-width="0.8"/>
<text x="143.3" y="302.1" font-size="4" text-anchor="end" fill="#333">10<tspan font-size="2.7" dy="-1.6">3</tspan></text>
<line x1="144.7" y1="315.4" x2="147.1" y2="315.4" stroke="#444" stroke-width="0.8"/>
<text x="143.3" y="316.8" font-size="4" text-anchor="end" fill="#333">0</text>
<line x1="144.7" y1="329.5" x2="147.1" y2="329.5" stroke="#444" stroke-width="0.8"/>
<text x="143.3" y="330.9" font-size="4" text-anchor="end" fill="#333">-10<tspan font-size="2.7" dy="-1.6">3</tspan></text>
<line x1="145.8" y1="249" x2="147.1" y2="249" stroke="#777" stroke-width="0.5"/>
<line x1="145.8" y1="252.3" x2="147.1" y2="252.3" stroke="#777" stroke-width="0.5"/>
<line x1="145.8" y1="255.6" x2="147.1" y2="255.6" stroke="#777" stroke-width="0.5"/>
<line x1="145.8" y1="258.9" x2="147.1" y2="258.9" stroke="#777" stroke-width="0.5"/>
<line x1="145.8" y1="262.2" x2="147.1" y2="262.2" stroke="#777" stroke-width="0.5"/>
<line x1="145.8" y1="265.5" x2="147.1" y2="265.5" stroke="#777" stroke-width="0.5"/>
<line x1="145.8" y1="268.8" x2="147.1" y2="268.8" stroke="#777" stroke-width="0.5"/>
<line x1="145.8" y1="272.1" x2="147.1" y2="272.1" stroke="#777" stroke-width="0.5"/>
<line x1="145.8" y1="275.4" x2="147.1" y2="275.4" stroke="#777" stroke-width="0.5"/>
<line x1="145.8" y1="278.7" x2="147.1" y2="278.7" stroke="#777" stroke-width="0.5"/>
<line x1="145.8" y1="282" x2="147.1" y2="282" stroke="#777" stroke-width="0.5"/>
<line x1="145.8" y1="285.3" x2="147.1" y2="285.3" stroke="#777" stroke-width="0.5"/>
<line x1="145.8" y1="288.6" x2="147.1" y2="288.6" stroke="#777" stroke-width="0.5"/>
<line x1="145.8" y1="291.9" x2="147.1" y2="291.9" stroke="#777" stroke-width="0.5"/>
<line x1="145.8" y1="295.2" x2="147.1" y2="295.2" stroke="#777" stroke-width="0.5"/>
<line x1="145.8" y1="298.5" x2="147.1" y2="298.5" stroke="#777" stroke-width="0.5"/>
<line x1="145.8" y1="301.8" x2="147.1" y2="301.8" stroke="#777" stroke-width="0.5"/>
<line x1="145.8" y1="305.1" x2="147.1" y2="305.1" stroke="#777" stroke-width="0.5"/>
<line x1="145.8" y1="308.4" x2="147.1" y2="308.4" stroke="#777" stroke-width="0.5"/>
<line x1="145.8" y1="311.7" x2="147.1" y2="311.7" stroke="#777" stroke-width="0.5"/>
<line x1="145.8" y1="315" x2="147.1" y2="315" stroke="#777" stroke-width="0.5"/>
<line x1="145.8" y1="318.3" x2="147.1" y2="318.3" stroke="#777" stroke-width="0.5"/>
<line x1="145.8" y1="321.6" x2="147.1" y2="321.6" stroke="#777" stroke-width="0.5"/>
<line x1="145.8" y1="324.9" x2="147.1" y2="324.9" stroke="#777" stroke-width="0.5"/>
<line x1="145.8" y1="328.2" x2="147.1" y2="328.2" stroke="#777" stroke-width="0.5"/>
<line x1="145.8" y1="331.5" x2="147.1" y2="331.5" stroke="#777" stroke-width="0.5"/>
<rect x="145.1" y="313.6" width="1.8" height="3.4" fill="#222"/>
<line x1="151.7" y1="334.6" x2="151.7" y2="336.8" stroke="#444" stroke-width="0.8"/>
<text x="151.7" y="344.6" font-size="4" text-anchor="middle" fill="#333">-10<tspan font-size="2.7" dy="-1.6">3</tspan></text>
<line x1="167.5" y1="334.6" x2="167.5" y2="336.8" stroke="#444" stroke-width="0.8"/>
<text x="167.5" y="344.6" font-size="4" text-anchor="middle" fill="#333">0</text>
<line x1="184.1" y1="334.6" x2="184.1" y2="336.8" stroke="#444" stroke-width="0.8"/>
<text x="184.1" y="344.6" font-size="4" text-anchor="middle" fill="#333">10<tspan font-size="2.7" dy="-1.6">3</tspan></text>
<line x1="208.1" y1="334.6" x2="208.1" y2="336.8" stroke="#444" stroke-width="0.8"/>
<text x="208.1" y="344.6" font-size="4" text-anchor="middle" fill="#333">10<tspan font-size="2.7" dy="-1.6">4</tspan></text>
<line x1="228.8" y1="334.6" x2="228.8" y2="336.8" stroke="#444" stroke-width="0.8"/>
<text x="228.8" y="344.6" font-size="4" text-anchor="middle" fill="#333">10<tspan font-size="2.7" dy="-1.6">5</tspan></text>
<line x1="150.1" y1="334.6" x2="150.1" y2="336" stroke="#777" stroke-width="0.5"/>
<line x1="153.2" y1="334.6" x2="153.2" y2="336" stroke="#777" stroke-width="0.5"/>
<line x1="156.3" y1="334.6" x2="156.3" y2="336" stroke="#777" stroke-width="0.5"/>
<line x1="159.4" y1="334.6" x2="159.4" y2="336" stroke="#777" stroke-width="0.5"/>
<line x1="162.5" y1="334.6" x2="162.5" y2="336" stroke="#777" stroke-width="0.5"/>
<line x1="165.6" y1="334.6" x2="165.6" y2="336" stroke="#777" stroke-width="0.5"/>
<line x1="168.7" y1="334.6" x2="168.7" y2="336" stroke="#777" stroke-width="0.5"/>
<line x1="171.8" y1="334.6" x2="171.8" y2="336" stroke="#777" stroke-width="0.5"/>
<line x1="174.9" y1="334.6" x2="174.9" y2="336" stroke="#777" stroke-width="0.5"/>
<line x1="178" y1="334.6" x2="178" y2="336" stroke="#777" stroke-width="0.5"/>
<line x1="181.1" y1="334.6" x2="181.1" y2="336" stroke="#777" stroke-width="0.5"/>
<line x1="184.2" y1="334.6" x2="184.2" y2="336" stroke="#777" stroke-width="0.5"/>
<line x1="187.3" y1="334.6" x2="187.3" y2="336" stroke="#777" stroke-width="0.5"/>
<line x1="190.4" y1="334.6" x2="190.4" y2="336" stroke="#777" stroke-width="0.5"/>
<line x1="193.5" y1="334.6" x2="193.5" y2="336" stroke="#777" stroke-width="0.5"/>
<line x1="196.6" y1="334.6" x2="196.6" y2="336" stroke="#777" stroke-width="0.5"/>
<line x1="199.7" y1="334.6" x2="199.7" y2="336" stroke="#777" stroke-width="0.5"/>
<line x1="202.8" y1="334.6" x2="202.8" y2="336" stroke="#777" stroke-width="0.5"/>
<line x1="205.9" y1="334.6" x2="205.9" y2="336" stroke="#777" stroke-width="0.5"/>
<line x1="209" y1="334.6" x2="209" y2="336" stroke="#777" stroke-width="0.5"/>
<line x1="212.1" y1="334.6" x2="212.1" y2="336" stroke="#777" stroke-width="0.5"/>
<line x1="215.2" y1="334.6" x2="215.2" y2="336" stroke="#777" stroke-width="0.5"/>
<line x1="218.3" y1="334.6" x2="218.3" y2="336" stroke="#777" stroke-width="0.5"/>
<line x1="221.4" y1="334.6" x2="221.4" y2="336" stroke="#777" stroke-width="0.5"/>
<line x1="224.5" y1="334.6" x2="224.5" y2="336" stroke="#777" stroke-width="0.5"/>
<line x1="227.6" y1="334.6" x2="227.6" y2="336" stroke="#777" stroke-width="0.5"/>
<line x1="230.7" y1="334.6" x2="230.7" y2="336" stroke="#777" stroke-width="0.5"/>
<line x1="233.8" y1="334.6" x2="233.8" y2="336" stroke="#777" stroke-width="0.5"/>
<rect x="165.1" y="334.6" width="4.6" height="2.0" fill="#222"/>
<g transform="translate(249.6 245) scale(.1)">
<path d="M545 290h9M705 496h9M645 352h9M306 296h9M702 323h9M449 277h9M459 291h9M135 343h9M351 629h9M640 404h9M475 286h9M227 341h9M132 475h9M405 621h9M407 293h9M354 313h9M646 446h9M252 334h9M666 506h9M457 356h9M429 274h9M119 539h9M422 298h9M135 433h9M128 407h9M143 505h9M666 573h9M514 330h9M156 419h9M621 404h9M169 594h9M153 555h9M221 372h9M156 598h9M607 360h9M159 464h9M172 608h9M655 578h9M170 433h9M403 314h9M649 562h9M646 592h9M574 329h9M537 343h9M234 337h9M639 589h9M487 342h9M140 424h9M381 333h9M575 337h9M402 346h9M500 330h9M545 338h9M168 524h9M266 355h9M415 334h9M592 360h9M281 354h9M414 623h9M596 634h9M252 369h9M397 328h9M166 441h9M621 625h9M447 376h9M581 336h9M358 322h9M658 535h9M553 356h9M439 362h9M335 335h9M621 590h9M181 591h9M607 404h9M652 525h9M308 340h9M408 335h9M560 332h9M337 340h9M185 583h9M399 352h9M644 519h9M518 633h9M285 362h9M577 351h9M594 386h9M179 566h9M338 339h9M246 376h9M405 372h9M374 373h9M353 373h9M202 428h9M611 434h9M202 408h9M605 615h9M181 474h9M338 360h9M351 355h9M187 455h9M197 388h9M498 359h9M643 486h9M396 333h9M367 357h9M665 511h9M175 506h9M175 457h9M191 384h9M224 629h9M586 349h9M597 373h9M213 398h9M608 405h9M175 462h9M663 515h9M601 605h9M404 384h9M334 625h9M319 349h9" stroke="#3b57ca" stroke-width="9" stroke-opacity="0.5" fill="none"/>
<path d="M540 367h9M305 344h9M374 397h9M620 558h9M594 620h9M633 566h9M647 537h9M208 598h9M429 607h9M176 510h9M199 392h9M338 386h9M315 370h9M622 602h9M502 357h9M531 361h9M171 542h9M387 603h9M218 602h9M245 632h9M206 601h9M641 475h9M401 589h9M482 369h9M312 356h9M552 374h9M395 596h9M205 602h9M342 341h9M573 629h9M530 379h9M599 616h9M501 621h9M637 479h9M297 376h9M580 385h9M270 384h9M580 622h9M424 375h9M374 605h9M525 374h9M235 396h9M204 393h9M633 534h9M587 366h9M325 630h9M328 631h9M376 399h9M428 384h9M349 355h9M590 612h9M423 581h9M626 481h9M506 635h9M506 363h9M229 622h9M482 634h9M611 590h9M275 629h9M500 364h9M504 360h9M444 606h9M187 484h9M203 590h9M564 622h9M253 627h9M377 388h9M218 417h9M433 385h9M487 632h9M524 632h9M425 397h9M197 469h9M473 371h9M364 597h9M398 406h9M182 497h9M619 577h9M616 492h9M222 626h9M173 562h9M574 376h9M199 441h9M280 623h9M395 591h9M401 543h9M221 403h9M572 341h9M413 384h9M359 389h9M438 392h9M476 635h9M628 491h9M628 478h9M263 623h9M603 570h9M298 628h9M220 431h9M325 629h9M439 394h9M217 427h9M379 582h9M419 564h9M226 420h9M624 458h9M418 393h9M308 361h9M194 519h9M621 559h9M549 363h9M454 401h9M534 394h9M381 593h9M389 413h9M462 386h9M457 612h9M401 402h9M235 595h9M432 418h9M217 441h9M227 605h9M197 459h9M194 457h9M430 611h9M319 367h9M638 461h9M320 629h9M456 624h9M263 628h9M561 618h9M380 458h9M627 462h9M385 442h9M569 388h9M555 396h9M487 373h9M181 531h9M576 388h9M424 598h9M430 590h9M474 379h9M249 409h9M344 394h9M503 372h9M427 600h9M383 573h9M256 408h9M599 586h9M455 409h9M290 387h9M257 408h9M274 409h9M276 622h9M601 475h9M402 565h9M280 388h9M438 614h9" stroke="#3a5ccd" stroke-width="9" stroke-opacity="0.6" fill="none"/>
<path d="M432 578h9M358 393h9M317 619h9M446 627h9M480 607h9M470 382h9M321 390h9M332 619h9M372 439h9M508 385h9M406 584h9M383 429h9M375 404h9M446 599h9M506 382h9M371 427h9M241 610h9M300 390h9M431 594h9M198 514h9M271 393h9M391 490h9M627 529h9M272 392h9M445 589h9M412 546h9M478 631h9M402 483h9M441 622h9M576 419h9M564 619h9M404 439h9M393 448h9M624 478h9M367 443h9M584 430h9M601 435h9M563 401h9M451 611h9M364 574h9M227 405h9M378 419h9M341 600h9M330 585h9M187 556h9M627 536h9M222 418h9M629 451h9M582 420h9M593 588h9M324 603h9M401 407h9M452 607h9M391 559h9M362 596h9M289 400h9M513 397h9M470 622h9M205 568h9M625 506h9M562 611h9M486 620h9M272 607h9M333 599h9M440 564h9M560 612h9M353 594h9M313 390h9M442 627h9M366 575h9M590 586h9M465 388h9M421 424h9M405 511h9M403 566h9M617 482h9M242 410h9M258 612h9M398 565h9M196 532h9M230 606h9M397 466h9M199 565h9M445 619h9M304 396h9M553 391h9M302 381h9M259 407h9M600 469h9M306 627h9M290 381h9M613 485h9M194 481h9M569 601h9M222 585h9M407 518h9M572 593h9M478 620h9M405 401h9M465 396h9M291 401h9M314 602h9M412 449h9M505 389h9M528 622h9M541 395h9M628 517h9M402 548h9M404 561h9M445 618h9M584 589h9M194 566h9M576 599h9M482 390h9M383 547h9M239 621h9M265 615h9M353 584h9M215 461h9M609 504h9M311 391h9M418 562h9M616 463h9M259 596h9M274 396h9M418 557h9M272 593h9M575 383h9M471 596h9M360 570h9M611 525h9M288 386h9M290 604h9M473 397h9M404 568h9M374 446h9M468 580h9M372 482h9M363 588h9M579 402h9M348 418h9M379 564h9M239 619h9M525 617h9M291 606h9M363 447h9M323 589h9M204 523h9M478 611h9M352 564h9M442 424h9M193 573h9M258 615h9M609 458h9M451 572h9M367 460h9M402 492h9M385 550h9M383 537h9M421 512h9M589 426h9M387 546h9M616 541h9M313 613h9M464 589h9M289 388h9M330 396h9M599 583h9M204 552h9M315 616h9M550 395h9M197 556h9M542 409h9M360 482h9M484 377h9M305 395h9M406 419h9M412 417h9M208 574h9M346 558h9M396 534h9M301 400h9M610 569h9M356 580h9M405 466h9M209 558h9M283 605h9M403 518h9M609 544h9M317 620h9M346 565h9M576 420h9M209 544h9M611 554h9M383 540h9M384 465h9M581 427h9M204 514h9M239 439h9M546 400h9M300 390h9M547 611h9M191 522h9M402 425h9M420 504h9M620 531h9M208 511h9M441 598h9M514 388h9M426 536h9M497 613h9M210 571h9M260 428h9M542 403h9M377 421h9M595 489h9M570 418h9M423 514h9M410 502h9M559 605h9M517 615h9M341 583h9M327 438h9M233 599h9M200 486h9M327 405h9M282 435h9M469 414h9M196 483h9M477 628h9M377 545h9M427 488h9M362 469h9M557 608h9M616 521h9M391 571h9M468 404h9M555 605h9M620 521h9M350 589h9M381 551h9M569 580h9M519 410h9M349 602h9M617 525h9M402 437h9M288 404h9M362 549h9M289 409h9M335 561h9M616 560h9M395 510h9M374 553h9M497 393h9M394 504h9M287 418h9M408 458h9M329 587h9M292 387h9M215 506h9M392 488h9M210 475h9M602 548h9M417 502h9M426 427h9M466 597h9M598 501h9M211 568h9M197 522h9M222 571h9M396 537h9M203 483h9M417 515h9M405 432h9M405 522h9M325 604h9M430 510h9M344 409h9" stroke="#3861d0" stroke-width="9" stroke-opacity="0.75" fill="none"/>
<path d="M576 422h9M327 561h9M453 574h9M370 540h9M418 477h9M395 527h9M354 440h9M269 613h9M409 505h9M251 416h9M549 618h9M192 541h9M426 517h9M591 510h9M190 532h9M247 615h9M383 482h9M474 616h9M375 479h9M268 413h9M403 517h9M371 479h9M349 427h9M322 413h9M325 397h9M215 483h9M600 455h9M278 423h9M435 431h9M455 579h9M351 436h9M383 485h9M429 542h9M333 536h9M430 559h9M549 394h9M609 505h9M320 565h9M396 471h9M358 415h9M384 521h9M525 603h9M534 618h9M596 569h9M364 479h9M376 460h9M238 435h9M256 588h9M301 596h9M388 556h9M215 524h9M497 605h9M252 588h9M229 492h9M407 438h9M395 486h9M255 607h9M345 443h9M268 425h9M344 441h9M403 418h9M311 582h9M367 545h9M493 422h9M523 613h9M447 567h9M469 411h9M604 458h9M464 420h9M476 417h9M588 436h9M311 583h9M363 549h9M463 566h9M580 440h9M391 562h9M593 559h9M401 413h9M250 435h9M477 618h9M339 419h9M471 605h9M379 513h9M559 597h9M531 402h9M437 436h9M411 493h9M337 546h9M314 416h9M418 463h9M436 513h9M350 443h9M566 415h9M470 420h9M428 433h9M349 438h9M318 608h9M501 601h9M330 461h9M503 404h9M594 478h9M601 534h9M357 454h9M425 474h9M289 591h9M201 527h9M468 442h9M432 552h9M574 581h9M311 595h9M282 415h9M349 422h9M226 454h9M339 561h9M253 610h9M393 424h9M604 463h9M305 607h9M379 485h9M358 524h9M195 522h9M574 574h9M492 429h9M368 543h9M426 529h9M412 418h9M431 500h9M292 605h9M233 573h9M229 561h9M355 408h9M211 497h9M228 532h9M340 565h9M485 601h9M338 549h9M213 527h9M356 522h9M375 477h9M286 423h9M252 576h9M318 590h9M322 426h9M351 416h9M358 444h9M410 471h9M336 402h9M370 416h9M563 586h9M228 523h9M344 584h9M367 418h9M253 575h9M605 458h9M599 507h9M344 407h9M485 423h9M364 504h9M261 581h9M570 488h9M264 588h9M229 518h9M423 434h9M338 544h9M350 473h9M380 424h9M599 448h9M324 402h9M376 499h9M598 570h9M434 452h9M225 523h9M370 493h9M520 419h9M265 596h9M336 448h9M485 599h9M280 608h9M434 490h9M425 554h9M488 411h9M581 534h9M335 570h9M358 455h9M584 491h9M607 526h9M559 416h9M358 539h9M335 438h9M221 516h9M427 529h9M570 449h9M331 577h9M236 577h9M345 467h9M353 501h9M335 480h9M241 419h9M281 440h9M241 574h9M608 491h9M220 489h9M243 438h9M570 420h9M401 468h9M245 410h9M377 515h9M363 474h9M403 476h9M501 410h9M333 549h9M245 426h9M306 594h9M201 540h9M439 482h9M327 446h9M359 494h9M587 433h9M331 429h9M474 430h9M450 554h9M350 569h9M489 394h9M217 469h9M390 421h9M379 499h9M533 429h9M593 527h9M333 446h9M483 588h9M319 430h9M458 471h9M489 590h9M442 491h9M407 425h9M469 420h9M227 544h9M561 597h9M601 458h9M227 453h9M527 600h9M544 419h9M331 606h9M478 405h9M602 553h9M266 428h9M214 566h9M320 557h9M502 428h9M345 411h9M360 525h9M499 596h9M533 596h9M436 541h9M438 448h9M597 501h9M217 528h9M290 425h9M456 550h9M525 600h9M302 414h9M268 593h9M371 508h9M211 544h9" stroke="#396ed3" stroke-width="9" fill="none"/>
<path d="M366 545h9M413 488h9M435 435h9M505 403h9M277 446h9M588 481h9M515 399h9M368 492h9M347 509h9M341 539h9M609 533h9M582 468h9M348 521h9M451 499h9M289 438h9M478 576h9M482 583h9M217 478h9M315 572h9M355 407h9M215 470h9M290 428h9M377 478h9M232 485h9M597 521h9M595 459h9M376 499h9M488 427h9M447 439h9M472 419h9M358 498h9M520 401h9M227 447h9M463 581h9M500 414h9M545 588h9M212 477h9M473 427h9M297 592h9M424 430h9M353 494h9M234 450h9M434 565h9M479 566h9M377 530h9M565 429h9M588 444h9M238 565h9M504 409h9M549 607h9M237 447h9M438 533h9M344 458h9M598 477h9M264 438h9M505 407h9M233 510h9M444 542h9M212 458h9M323 449h9M310 432h9M348 465h9M256 425h9M325 440h9M346 462h9M242 432h9M289 580h9M286 586h9M350 502h9M579 511h9M239 487h9M587 521h9M462 579h9M438 444h9M293 583h9M358 418h9M292 573h9M462 569h9M434 457h9M519 420h9M427 434h9M207 557h9M263 573h9M310 438h9M587 560h9M440 469h9M551 415h9M279 588h9M224 467h9M532 429h9M605 528h9M553 422h9M581 558h9M362 533h9M287 431h9M281 601h9M230 563h9M364 515h9M243 435h9M466 572h9M528 425h9M305 579h9M295 443h9M272 588h9M228 505h9M580 450h9M435 535h9M220 561h9M363 523h9M359 529h9M521 569h9M439 537h9M307 595h9M484 570h9M571 589h9M315 422h9M367 426h9M496 424h9M313 465h9M346 486h9M436 466h9M546 587h9M433 448h9M431 565h9M227 510h9M253 432h9M351 499h9M301 570h9M225 556h9M353 481h9M272 448h9M585 559h9M476 564h9M240 562h9M335 423h9M445 559h9M422 450h9M245 567h9M426 465h9M584 502h9M275 447h9M343 526h9M431 467h9M588 448h9M470 577h9M493 595h9M417 431h9M335 502h9M308 432h9M316 425h9M586 454h9M250 447h9M511 433h9M583 473h9M338 458h9M335 411h9M421 478h9M437 539h9M476 587h9M234 504h9M523 588h9M524 414h9M404 411h9M523 412h9M600 512h9M585 508h9M542 594h9M332 459h9M555 435h9M582 447h9M448 483h9M381 476h9M568 563h9M446 523h9M346 422h9M591 560h9M219 499h9M228 551h9M574 576h9M310 444h9M224 477h9M605 533h9M479 431h9M273 445h9M520 420h9M248 468h9M336 529h9M250 441h9M510 575h9M228 470h9M416 448h9M265 570h9M377 513h9M307 424h9M293 576h9M295 459h9M234 509h9M473 434h9M360 500h9M434 512h9M221 477h9M334 419h9M296 562h9M536 411h9M455 477h9M584 501h9M424 452h9M605 548h9M526 435h9M583 527h9M343 406h9M345 489h9M348 423h9M310 430h9M587 525h9M423 444h9M230 439h9M362 512h9M427 545h9M460 557h9M301 570h9M536 572h9M239 491h9M587 564h9M347 486h9M474 562h9M326 436h9M217 487h9M320 442h9M308 452h9M475 558h9M397 518h9M457 481h9M595 527h9M298 457h9M566 562h9M556 448h9M388 536h9M553 431h9M212 553h9M389 524h9M425 477h9M454 436h9M590 556h9M569 447h9M360 545h9M332 465h9M514 419h9M562 552h9M320 452h9M413 462h9M371 539h9M364 470h9M300 585h9M556 565h9M232 559h9M480 550h9M236 505h9M239 458h9M307 585h9M535 596h9M517 598h9M340 546h9M526 597h9M248 431h9M524 407h9M522 597h9M228 553h9M512 597h9M534 600h9M290 438h9M256 556h9M513 587h9M307 463h9M554 599h9M554 578h9M244 557h9M536 437h9M241 544h9M354 488h9M238 505h9M430 477h9M578 563h9M360 426h9M467 458h9M450 532h9M551 561h9M240 462h9M316 450h9M248 446h9M517 594h9M453 507h9M320 542h9M273 436h9M581 466h9M229 500h9M315 599h9M448 438h9M469 424h9M267 580h9" stroke="#3d87d5" stroke-width="9" fill="none"/>
<path d="M357 468h12M335 580h12M245 474h12M552 420h12M507 588h12M435 473h12M284 434h12M245 476h12M442 471h12M507 587h12M348 418h12M507 599h12M219 542h12M340 552h12M574 447h12M568 429h12M442 441h12M424 529h12M298 442h12M561 531h12M226 522h12M451 499h12M301 554h12M455 430h12M351 486h12M578 543h12M562 459h12M548 428h12M458 443h12M224 558h12M453 549h12M238 552h12M266 449h12M507 443h12M589 542h12M447 483h12M557 538h12M315 445h12M527 603h12M331 490h12M329 519h12M441 486h12M612 543h12M305 430h12M378 480h12M229 493h12M293 442h12M494 581h12M334 510h12M460 457h12M227 527h12M599 542h12M575 544h12M328 477h12M453 443h12M584 469h12M293 425h12M587 518h12M283 450h12M572 488h12M220 461h12M252 565h12M513 419h12M469 456h12M330 553h12M237 560h12M435 522h12M539 568h12M229 464h12M547 423h12M431 466h12M364 524h12M221 470h12M466 435h12M340 526h12M360 478h12M245 507h12M587 510h12M246 460h12M247 506h12M340 498h12M223 557h12M253 421h12M346 509h12M516 570h12M341 414h12M457 522h12M267 457h12M448 458h12M233 529h12M459 541h12M242 443h12M506 590h12M585 456h12M442 478h12M456 547h12M265 581h12M266 584h12M513 409h12M517 423h12M348 533h12M584 457h12M297 562h12M304 550h12M451 551h12M584 541h12M299 462h12M512 431h12M543 431h12M501 541h12M424 452h12M281 576h12M568 580h12M542 427h12M519 416h12M289 578h12M562 541h12M582 509h12M312 436h12M241 453h12M357 509h12M570 515h12M553 578h12M246 496h12M563 512h12M259 527h12M373 519h12M547 590h12M220 485h12M553 505h12M253 558h12M566 557h12M478 563h12M489 541h12M284 540h12M277 587h12M442 555h12M214 557h12M261 564h12M531 567h12M569 561h12M544 592h12M525 597h12M512 598h12M435 546h12M284 450h12M323 452h12M293 477h12M545 439h12M580 451h12M587 503h12M526 617h12M582 502h12M462 510h12M312 461h12M328 498h12M337 508h12M314 453h12M351 535h12M581 478h12M542 449h12M488 542h12M293 588h12M311 470h12M261 452h12M435 442h12M497 469h12M545 573h12M250 468h12M553 454h12M510 427h12M541 457h12M294 485h12M248 535h12M537 564h12M508 406h12M601 533h12M480 482h12M291 581h12M302 456h12M572 468h12M246 485h12M448 521h12M449 513h12M316 561h12M481 584h12M567 529h12M300 562h12M288 455h12M573 472h12M535 444h12M257 506h12M501 576h12M229 558h12M313 473h12M253 534h12M572 527h12M435 505h12M549 447h12M542 532h12M465 478h12M499 466h12M524 574h12M236 486h12M233 559h12M321 548h12M510 594h12M520 424h12M314 536h12M484 430h12M314 549h12M456 554h12M460 506h12M570 507h12M576 474h12M242 484h12M238 474h12M583 452h12M542 586h12M521 563h12M485 421h12M258 500h12M244 527h12M333 453h12M313 558h12M302 495h12M247 564h12M509 566h12M584 554h12M464 532h12M336 490h12M597 455h12M451 523h12M341 465h12M531 448h12M262 561h12M506 420h12M595 540h12M432 461h12M459 516h12M271 578h12M229 553h12M362 490h12M564 550h12M464 542h12M241 455h12M237 488h12M584 533h12M551 434h12M525 579h12M311 539h12M324 522h12M553 421h12M561 562h12M245 449h12M462 451h12M544 544h12M476 447h12M571 510h12M553 557h12M251 494h12M261 427h12M313 494h12M250 542h12M240 509h12M514 461h12M267 481h12M247 471h12M578 513h12M504 402h12M497 563h12M258 559h12M553 517h12M223 546h12M445 494h12M276 572h12M302 441h12M521 605h12M263 551h12M321 505h12M512 413h12M531 445h12M457 512h12M558 478h12M323 480h12M287 589h12M535 535h12M548 425h12M239 526h12M508 438h12M549 427h12M269 463h12M476 421h12M331 458h12M515 436h12M553 445h12M263 460h12M531 429h12M554 543h12M318 468h12M501 415h12M261 511h12M496 579h12M270 471h12M438 442h12M330 472h12M479 558h12M496 589h12M518 581h12M498 571h12M562 509h12M284 539h12M499 567h12M477 556h12M357 510h12M264 443h12M247 544h12M357 512h12M266 466h12M281 573h12M340 507h12M304 535h12M488 486h12M267 478h12M222 543h12M562 524h12M253 550h12M495 552h12M542 533h12M335 475h12" stroke="#429fd2" stroke-width="12" fill="none"/>
<path d="M462 449h12M276 563h12M326 471h12M349 526h12M259 466h12M452 546h12M481 540h12M576 550h12M475 545h12M256 508h12M554 561h12M315 553h12M304 508h12M297 475h12M234 464h12M531 582h12M270 512h12M433 462h12M542 558h12M477 479h12M514 433h12M505 596h12M332 490h12M571 540h12M305 560h12M452 456h12M571 507h12M565 450h12M317 515h12M465 434h12M503 565h12M488 489h12M574 540h12M348 510h12M443 442h12M265 444h12M536 445h12M591 560h12M534 446h12M315 474h12M280 476h12M528 424h12M274 505h12M577 568h12M473 542h12M468 471h12M534 556h12M321 500h12M450 503h12M504 439h12M310 488h12M553 583h12M292 505h12M313 421h12M575 493h12M480 543h12M320 529h12M489 537h12M256 542h12M488 526h12M328 491h12M354 517h12M342 514h12M326 477h12M569 484h12M529 573h12M495 567h12M575 548h12M566 481h12M514 467h12M496 434h12M570 494h12M549 562h12M534 455h12M264 448h12M457 439h12M281 451h12M257 467h12M307 507h12M527 457h12M519 592h12M236 514h12M429 452h12M580 522h12M580 505h12M453 482h12M329 509h12M576 552h12M445 515h12M431 467h12M460 459h12M240 477h12M569 448h12M550 520h12M518 543h12M257 544h12M563 515h12M493 443h12M549 455h12M297 486h12M568 562h12M305 467h12M493 527h12M546 480h12M305 465h12M280 520h12M557 538h12M355 484h12M539 562h12M535 449h12M256 543h12M484 562h12M466 543h12M529 471h12M469 528h12M469 522h12M253 534h12M319 521h12M467 442h12M510 444h12M317 489h12M490 567h12M569 456h12M241 525h12M491 561h12M337 473h12M489 512h12M312 493h12M345 494h12M486 554h12M583 549h12M305 493h12M490 436h12M532 452h12M312 515h12M542 514h12M554 452h12M576 461h12M309 540h12M287 455h12M269 465h12M471 463h12M491 465h12M491 575h12M498 454h12M526 580h12M500 548h12M268 458h12M502 535h12M260 543h12M565 465h12M545 477h12M287 563h12M286 548h12M539 439h12M272 555h12M457 545h12M518 552h12M463 462h12M474 548h12M458 467h12M470 454h12M284 518h12M314 511h12M558 461h12M288 499h12M586 568h12M483 465h12M514 593h12M240 550h12M255 555h12M268 447h12M291 518h12M566 569h12M530 574h12M313 497h12M515 589h12M447 530h12M499 566h12M547 550h12M252 473h12M566 473h12M293 576h12M257 488h12M234 523h12M241 446h12M251 452h12M257 558h12M478 518h12M556 572h12M506 462h12M234 521h12M505 552h12M463 454h12M586 515h12M252 474h12M269 465h12M244 472h12M340 511h12M514 451h12M481 541h12M532 559h12M445 451h12M289 586h12M485 499h12M465 505h12M479 502h12M328 556h12M303 446h12M505 564h12M292 488h12M528 460h12M567 459h12M531 432h12M256 529h12M492 470h12M285 519h12M271 471h12M452 527h12M587 562h12M309 456h12M428 478h12M562 473h12M272 536h12M535 546h12M444 470h12M574 452h12M284 546h12M286 487h12M258 490h12M471 466h12M559 568h12M276 550h12M255 467h12M282 474h12M550 534h12M527 600h12M447 538h12M297 525h12M507 529h12M271 569h12M299 537h12M306 493h12M522 465h12M454 467h12M283 470h12M493 586h12M451 467h12M544 545h12M239 464h12M305 548h12M535 511h12M558 560h12M551 529h12M541 493h12M288 546h12M306 456h12M305 454h12M305 548h12M497 484h12M326 545h12M569 459h12M487 455h12M244 483h12M498 557h12M522 470h12M486 541h12M313 540h12M564 470h12M531 446h12M534 448h12M475 443h12M323 530h12M509 461h12M518 548h12M322 488h12M512 446h12M287 546h12M483 458h12M261 550h12M252 467h12M477 449h12M554 512h12M245 493h12M537 572h12M571 473h12M527 541h12M538 523h12M352 519h12M547 479h12M288 523h12M549 451h12M245 452h12M551 551h12M452 520h12M269 456h12M455 510h12M504 446h12M302 526h12M533 590h12M290 564h12M297 497h12M272 475h12M527 494h12M299 502h12M501 520h12M551 491h12M517 416h12M504 557h12M479 559h12M510 549h12M323 529h12M303 517h12M562 510h12M480 521h12M321 484h12M273 452h12M510 526h12M251 543h12M277 467h12M561 474h12M272 540h12M494 502h12M299 585h12M258 537h12M576 553h12M506 432h12M449 524h12M543 511h12M254 557h12M255 458h12M481 487h12M248 506h12M577 489h12M572 533h12M496 449h12M250 503h12M474 500h12M476 473h12M249 554h12M575 467h12M477 500h12M320 452h12" stroke="#48b4b7" stroke-width="12" fill="none"/>
<path d="M498 475h12M531 544h12M577 505h12M540 440h12M483 447h12M527 503h12M480 464h12M557 530h12M244 453h12M278 502h12M465 443h12M269 524h12M285 564h12M500 485h12M476 459h12M531 554h12M441 456h12M573 510h12M456 546h12M529 466h12M306 478h12M482 536h12M295 569h12M473 543h12M548 548h12M498 549h12M285 576h12M282 509h12M317 455h12M289 506h12M490 537h12M241 533h12M530 569h12M508 549h12M277 520h12M500 463h12M298 522h12M481 550h12M555 512h12M294 531h12M519 460h12M320 532h12M542 542h12M524 464h12M308 509h12M313 520h12M444 446h12M242 523h12M465 479h12M256 536h12M472 450h12M457 501h12M459 511h12M501 579h12M568 458h12M458 533h12M240 477h12M513 528h12M514 555h12M522 507h12M561 533h12M512 559h12M459 455h12M244 464h12M550 505h12M305 547h12M307 556h12M496 569h12M501 492h12M558 479h12M482 449h12M536 561h12M492 465h12M497 435h12M503 571h12M496 534h12M481 519h12M548 527h12M584 553h12M329 476h12M530 470h12M319 464h12M585 551h12M510 569h12M447 517h12M249 540h12M498 471h12M558 498h12M444 466h12M469 489h12M329 472h12M263 547h12M314 469h12M315 538h12M304 543h12M566 488h12M276 484h12M309 498h12M314 562h12M565 545h12M250 519h12M278 520h12M471 500h12M307 533h12M282 441h12M464 508h12M471 483h12M465 489h12M497 527h12M517 540h12M541 473h12M515 563h12M262 467h12M550 527h12M300 539h12M576 450h12M316 535h12M459 533h12M294 547h12M476 440h12M550 557h12M292 452h12M522 451h12M486 575h12M279 545h12M490 571h12M454 509h12M265 497h12M329 464h12M310 461h12M452 468h12M547 536h12M556 496h12M513 591h12M278 532h12M315 446h12M306 525h12M301 525h12M525 454h12M511 516h12M315 503h12M317 510h12M463 522h12M533 548h12M465 451h12M277 477h12M316 519h12M311 477h12M523 472h12M317 480h12M248 504h12M507 554h12M320 518h12M526 451h12M284 553h12M327 493h12M266 497h12M461 532h12M543 566h12M279 541h12M318 487h12M285 479h12M547 477h12M305 546h12M474 489h12M566 487h12M278 438h12M291 543h12M263 501h12M307 537h12M480 531h12M283 471h12M543 504h12M546 446h12M491 475h12M335 486h12M277 557h12M519 521h12M249 537h12M554 516h12M545 547h12M295 455h12M494 441h12M494 464h12M513 484h12M553 562h12M264 491h12M561 479h12M264 515h12M460 469h12M326 487h12M502 463h12M269 471h12M569 536h12M511 462h12M351 494h12M543 493h12M273 507h12M274 480h12M524 540h12M295 569h12M504 497h12M233 530h12M282 502h12M548 433h12M433 466h12M261 504h12M548 544h12M527 529h12M513 475h12M279 472h12M474 518h12M490 519h12M315 489h12M548 542h12M527 564h12M307 501h12M271 535h12M472 540h12M285 553h12M543 466h12M552 456h12M537 494h12M462 510h12M253 506h12M241 454h12M483 510h12M567 485h12M499 458h12M535 559h12M484 521h12M254 448h12M519 526h12M247 496h12M270 546h12M304 499h12M505 463h12M508 510h12M305 515h12M511 575h12M557 557h12M290 513h12M559 471h12M505 591h12M486 462h12M506 451h12M253 538h12M502 531h12M287 504h12M283 485h12M256 497h12M495 542h12M318 526h12M501 555h12M303 563h12M541 476h12M516 522h12M492 471h12M282 463h12M530 542h12M292 512h12M478 521h12M301 503h12M473 477h12M272 512h12M510 445h12M551 473h12M293 507h12M496 488h12M555 477h12M468 504h12M482 487h12M278 545h12M545 530h12M488 472h12M454 522h12M517 472h12M558 505h12M520 470h12M490 557h12M540 504h12M510 475h12M473 454h12M532 488h12M564 481h12M286 525h12M260 504h12M274 514h12M460 476h12M275 522h12M273 518h12M519 554h12M498 531h12M324 509h12M530 455h12M471 542h12M287 457h12M545 466h12M278 474h12M469 450h12M539 542h12M476 454h12" stroke="#51c18f" stroke-width="12" fill="none"/>
<path d="M479 527h12M559 522h12M294 538h12M266 513h12M473 460h12M537 477h12M286 568h12M544 522h12M267 530h12M290 489h12M273 473h12M465 511h12M547 558h12M557 481h12M513 500h12M487 498h12M288 469h12M492 434h12M454 536h12M492 469h12M515 469h12M269 535h12M289 528h12M289 560h12M494 429h12M279 503h12M310 548h12M525 549h12M554 528h12M464 485h12M559 466h12M241 487h12M256 527h12M558 497h12M447 559h12M262 495h12M286 509h12M524 544h12M460 526h12M524 481h12M558 489h12M281 532h12M251 532h12M514 468h12M288 483h12M255 520h12M504 464h12M296 485h12M531 554h12M513 538h12M560 557h12M546 468h12M509 455h12M266 479h12M256 541h12M252 505h12M533 519h12M495 455h12M471 543h12M258 496h12M495 523h12M295 483h12M452 502h12M537 496h12M246 506h12M304 504h12M519 549h12M288 522h12M275 546h12M471 474h12M511 484h12M506 521h12M548 472h12M475 493h12M290 523h12M516 476h12M532 463h12M262 534h12M540 510h12M474 520h12M313 509h12M471 492h12M310 530h12M275 477h12M540 477h12M512 517h12M317 535h12M539 487h12M274 506h12M275 501h12M266 505h12M489 507h12M553 480h12M330 494h12M513 474h12M494 482h12M490 541h12M272 528h12M316 495h12M498 505h12M307 495h12M513 560h12M285 540h12M244 453h12M277 483h12M535 469h12M270 540h12M267 479h12M490 482h12M490 452h12M536 504h12M486 504h12M278 549h12M543 444h12M318 506h12M495 489h12M511 482h12M286 501h12M535 528h12M474 454h12M281 495h12M311 525h12M466 519h12M289 493h12M451 522h12M498 557h12M502 451h12M515 535h12M529 499h12M515 506h12M545 565h12M552 466h12M517 520h12M286 549h12M471 458h12M498 437h12M496 472h12M534 457h12M513 466h12M479 517h12M252 501h12M275 514h12M529 531h12M288 544h12M474 471h12M502 492h12M278 483h12M470 505h12M287 517h12M319 448h12M521 523h12M270 547h12M544 500h12M284 529h12M468 515h12M283 496h12M328 505h12M513 556h12M244 548h12M522 496h12M522 497h12M315 512h12M529 474h12M491 486h12M309 545h12M269 494h12M262 530h12M517 530h12M539 502h12M538 515h12M499 551h12M510 541h12M508 577h12M536 473h12M481 488h12M288 538h12M519 545h12M296 566h12M302 490h12M308 495h12M284 488h12M495 524h12M490 545h12M260 540h12M530 502h12M556 488h12M500 446h12M538 492h12M544 543h12M281 506h12M550 547h12M282 472h12M292 511h12M476 467h12M265 522h12M529 530h12M522 550h12M508 499h12M485 515h12M543 554h12M521 496h12M317 541h12M271 484h12" stroke="#5dc75a" stroke-width="12" fill="none"/>
<path d="M241 489h12M305 550h12M469 461h12M530 523h12M507 569h12M285 527h12M494 480h12M511 531h12M272 496h12M473 524h12M320 512h12M539 529h12M571 500h12M529 532h12M278 543h12M469 520h12M578 461h12M539 525h12M538 483h12M274 494h12M259 509h12M532 507h12M549 507h12M539 525h12M287 491h12M554 466h12M271 515h12M506 517h12M508 463h12M507 457h12M543 469h12M535 570h12M276 509h12M559 482h12M275 476h12M531 508h12M267 479h12M473 538h12M472 525h12M545 496h12M550 494h12M309 486h12M493 497h12M294 475h12M255 496h12M502 514h12M534 484h12M278 485h12M508 566h12M557 467h12M281 530h12M255 480h12M496 515h12M511 542h12M315 544h12M254 535h12M475 473h12M482 467h12M270 497h12M509 469h12M496 492h12M471 499h12M486 498h12M504 517h12M276 544h12M488 498h12M479 498h12M539 505h12M500 560h12M537 527h12M524 553h12M492 512h12M513 552h12M481 516h12M510 517h12M500 522h12M494 510h12M520 495h12M532 489h12M498 509h12M496 511h12M260 471h12M522 544h12M502 501h12M300 500h12M472 459h12M520 462h12M541 513h12M269 531h12M538 476h12M280 520h12M514 488h12M527 493h12M475 469h12M500 476h12M493 533h12M496 527h12M526 523h12M264 496h12M256 537h12M545 483h12M277 510h12M531 505h12M492 509h12M276 501h12M275 485h12M482 530h12M516 520h12M516 519h12M558 475h12M509 490h12M269 521h12M507 520h12M474 519h12M493 505h12M532 515h12M484 468h12M272 503h12" stroke="#87ce41" stroke-width="12" fill="none"/>
<path d="M478 527h12M502 478h12M289 510h12M495 490h12M497 458h12M499 521h12M533 488h12M303 518h12M508 473h12M489 485h12M542 490h12M281 525h12M518 469h12M512 498h12M478 530h12M275 504h12M518 489h12M492 469h12M535 530h12M268 543h12M552 467h12M273 498h12M471 507h12M544 543h12M520 538h12M500 495h12M551 481h12M525 531h12M521 481h12M555 486h12M516 500h12M496 510h12M270 499h12M490 515h12M476 523h12M505 533h12M266 549h12M537 492h12M284 486h12M296 522h12M516 545h12M538 495h12M264 484h12M267 506h12M544 512h12M483 525h12M523 490h12M555 508h12M476 529h12M285 521h12M509 519h12M532 513h12M559 499h12M485 501h12M517 480h12M481 524h12M533 508h12M516 504h12M276 538h12M563 498h12M498 499h12M510 499h12M502 504h12M268 524h12M552 511h12M526 501h12M527 496h12M526 501h12M508 493h12M523 476h12M542 501h12" stroke="#b7d630" stroke-width="12" fill="none"/>
<path d="M272 500h12M481 505h12M500 504h12M315 518h12M530 528h12M553 500h12M528 502h12M551 520h12M528 498h12M535 482h12M486 517h12M519 542h12M544 485h12M516 518h12M280 547h12M479 473h12M493 465h12M493 524h12M499 514h12M494 499h12M461 529h12M497 510h12M509 507h12M513 508h12M559 472h12M482 506h12M485 517h12M515 490h12" stroke="#dac028" stroke-width="12" fill="none"/>
<path d="M553 475h12M482 508h12M278 536h12M553 483h12M518 501h12M490 457h12M546 496h12M285 515h12M533 501h12M451 523h12M317 493h12M485 469h12" stroke="#f49d22" stroke-width="12" fill="none"/>
<path d="M272 540h12M505 507h12M520 525h12M293 522h12M557 487h12M527 498h12M499 500h12M512 510h12M508 523h12M518 495h12M523 478h12M521 518h12M516 510h12M523 492h12M524 507h12M521 514h12M512 499h12M280 535h12M492 507h12M508 501h12M531 498h12M285 528h12M265 472h12M528 493h12" stroke="#ee551d" stroke-width="12" fill="none"/>
</g>
<rect x="249.6" y="245" width="90" height="89.6" stroke="#8f8f8f" stroke-width="0.9" fill="none"/>
<line x1="289.4" y1="245" x2="289.4" y2="334.6" stroke="#2e2e2e" stroke-width="1"/>
<line x1="249.6" y1="307.2" x2="339.6" y2="307.2" stroke="#2e2e2e" stroke-width="1"/>
<text x="0" y="0" font-size="9" transform="translate(257.8,263.1) scale(0.92,1)" fill="#111">39.5</text>
<text x="0" y="0" font-size="9" text-anchor="end" transform="translate(329.1,263.1) scale(0.92,1)" fill="#111">59.3</text>
<text x="0" y="0" font-size="9" transform="translate(258.2,326.4) scale(0.92,1)" fill="#111">0.98</text>
<text x="0" y="0" font-size="9" text-anchor="end" transform="translate(328.6,326.4) scale(0.92,1)" fill="#111">0.20</text>
<line x1="247.2" y1="255.4" x2="249.6" y2="255.4" stroke="#444" stroke-width="0.8"/>
<text x="245.8" y="256.8" font-size="4" text-anchor="end" fill="#333">10<tspan font-size="2.7" dy="-1.6">5</tspan></text>
<line x1="247.2" y1="275" x2="249.6" y2="275" stroke="#444" stroke-width="0.8"/>
<text x="245.8" y="276.4" font-size="4" text-anchor="end" fill="#333">10<tspan font-size="2.7" dy="-1.6">4</tspan></text>
<line x1="247.2" y1="300.7" x2="249.6" y2="300.7" stroke="#444" stroke-width="0.8"/>
<text x="245.8" y="302.1" font-size="4" text-anchor="end" fill="#333">10<tspan font-size="2.7" dy="-1.6">3</tspan></text>
<line x1="247.2" y1="315.4" x2="249.6" y2="315.4" stroke="#444" stroke-width="0.8"/>
<text x="245.8" y="316.8" font-size="4" text-anchor="end" fill="#333">0</text>
<line x1="247.2" y1="329.5" x2="249.6" y2="329.5" stroke="#444" stroke-width="0.8"/>
<text x="245.8" y="330.9" font-size="4" text-anchor="end" fill="#333">-10<tspan font-size="2.7" dy="-1.6">3</tspan></text>
<line x1="248.3" y1="249" x2="249.6" y2="249" stroke="#777" stroke-width="0.5"/>
<line x1="248.3" y1="252.3" x2="249.6" y2="252.3" stroke="#777" stroke-width="0.5"/>
<line x1="248.3" y1="255.6" x2="249.6" y2="255.6" stroke="#777" stroke-width="0.5"/>
<line x1="248.3" y1="258.9" x2="249.6" y2="258.9" stroke="#777" stroke-width="0.5"/>
<line x1="248.3" y1="262.2" x2="249.6" y2="262.2" stroke="#777" stroke-width="0.5"/>
<line x1="248.3" y1="265.5" x2="249.6" y2="265.5" stroke="#777" stroke-width="0.5"/>
<line x1="248.3" y1="268.8" x2="249.6" y2="268.8" stroke="#777" stroke-width="0.5"/>
<line x1="248.3" y1="272.1" x2="249.6" y2="272.1" stroke="#777" stroke-width="0.5"/>
<line x1="248.3" y1="275.4" x2="249.6" y2="275.4" stroke="#777" stroke-width="0.5"/>
<line x1="248.3" y1="278.7" x2="249.6" y2="278.7" stroke="#777" stroke-width="0.5"/>
<line x1="248.3" y1="282" x2="249.6" y2="282" stroke="#777" stroke-width="0.5"/>
<line x1="248.3" y1="285.3" x2="249.6" y2="285.3" stroke="#777" stroke-width="0.5"/>
<line x1="248.3" y1="288.6" x2="249.6" y2="288.6" stroke="#777" stroke-width="0.5"/>
<line x1="248.3" y1="291.9" x2="249.6" y2="291.9" stroke="#777" stroke-width="0.5"/>
<line x1="248.3" y1="295.2" x2="249.6" y2="295.2" stroke="#777" stroke-width="0.5"/>
<line x1="248.3" y1="298.5" x2="249.6" y2="298.5" stroke="#777" stroke-width="0.5"/>
<line x1="248.3" y1="301.8" x2="249.6" y2="301.8" stroke="#777" stroke-width="0.5"/>
<line x1="248.3" y1="305.1" x2="249.6" y2="305.1" stroke="#777" stroke-width="0.5"/>
<line x1="248.3" y1="308.4" x2="249.6" y2="308.4" stroke="#777" stroke-width="0.5"/>
<line x1="248.3" y1="311.7" x2="249.6" y2="311.7" stroke="#777" stroke-width="0.5"/>
<line x1="248.3" y1="315" x2="249.6" y2="315" stroke="#777" stroke-width="0.5"/>
<line x1="248.3" y1="318.3" x2="249.6" y2="318.3" stroke="#777" stroke-width="0.5"/>
<line x1="248.3" y1="321.6" x2="249.6" y2="321.6" stroke="#777" stroke-width="0.5"/>
<line x1="248.3" y1="324.9" x2="249.6" y2="324.9" stroke="#777" stroke-width="0.5"/>
<line x1="248.3" y1="328.2" x2="249.6" y2="328.2" stroke="#777" stroke-width="0.5"/>
<line x1="248.3" y1="331.5" x2="249.6" y2="331.5" stroke="#777" stroke-width="0.5"/>
<rect x="247.6" y="313.6" width="1.8" height="3.4" fill="#222"/>
<line x1="254.2" y1="334.6" x2="254.2" y2="336.8" stroke="#444" stroke-width="0.8"/>
<text x="254.2" y="344.6" font-size="4" text-anchor="middle" fill="#333">-10<tspan font-size="2.7" dy="-1.6">3</tspan></text>
<line x1="270" y1="334.6" x2="270" y2="336.8" stroke="#444" stroke-width="0.8"/>
<text x="270" y="344.6" font-size="4" text-anchor="middle" fill="#333">0</text>
<line x1="286.6" y1="334.6" x2="286.6" y2="336.8" stroke="#444" stroke-width="0.8"/>
<text x="286.6" y="344.6" font-size="4" text-anchor="middle" fill="#333">10<tspan font-size="2.7" dy="-1.6">3</tspan></text>
<line x1="310.6" y1="334.6" x2="310.6" y2="336.8" stroke="#444" stroke-width="0.8"/>
<text x="310.6" y="344.6" font-size="4" text-anchor="middle" fill="#333">10<tspan font-size="2.7" dy="-1.6">4</tspan></text>
<line x1="331.3" y1="334.6" x2="331.3" y2="336.8" stroke="#444" stroke-width="0.8"/>
<text x="331.3" y="344.6" font-size="4" text-anchor="middle" fill="#333">10<tspan font-size="2.7" dy="-1.6">5</tspan></text>
<line x1="252.6" y1="334.6" x2="252.6" y2="336" stroke="#777" stroke-width="0.5"/>
<line x1="255.7" y1="334.6" x2="255.7" y2="336" stroke="#777" stroke-width="0.5"/>
<line x1="258.8" y1="334.6" x2="258.8" y2="336" stroke="#777" stroke-width="0.5"/>
<line x1="261.9" y1="334.6" x2="261.9" y2="336" stroke="#777" stroke-width="0.5"/>
<line x1="265" y1="334.6" x2="265" y2="336" stroke="#777" stroke-width="0.5"/>
<line x1="268.1" y1="334.6" x2="268.1" y2="336" stroke="#777" stroke-width="0.5"/>
<line x1="271.2" y1="334.6" x2="271.2" y2="336" stroke="#777" stroke-width="0.5"/>
<line x1="274.3" y1="334.6" x2="274.3" y2="336" stroke="#777" stroke-width="0.5"/>
<line x1="277.4" y1="334.6" x2="277.4" y2="336" stroke="#777" stroke-width="0.5"/>
<line x1="280.5" y1="334.6" x2="280.5" y2="336" stroke="#777" stroke-width="0.5"/>
<line x1="283.6" y1="334.6" x2="283.6" y2="336" stroke="#777" stroke-width="0.5"/>
<line x1="286.7" y1="334.6" x2="286.7" y2="336" stroke="#777" stroke-width="0.5"/>
<line x1="289.8" y1="334.6" x2="289.8" y2="336" stroke="#777" stroke-width="0.5"/>
<line x1="292.9" y1="334.6" x2="292.9" y2="336" stroke="#777" stroke-width="0.5"/>
<line x1="296" y1="334.6" x2="296" y2="336" stroke="#777" stroke-width="0.5"/>
<line x1="299.1" y1="334.6" x2="299.1" y2="336" stroke="#777" stroke-width="0.5"/>
<line x1="302.2" y1="334.6" x2="302.2" y2="336" stroke="#777" stroke-width="0.5"/>
<line x1="305.3" y1="334.6" x2="305.3" y2="336" stroke="#777" stroke-width="0.5"/>
<line x1="308.4" y1="334.6" x2="308.4" y2="336" stroke="#777" stroke-width="0.5"/>
<line x1="311.5" y1="334.6" x2="311.5" y2="336" stroke="#777" stroke-width="0.5"/>
<line x1="314.6" y1="334.6" x2="314.6" y2="336" stroke="#777" stroke-width="0.5"/>
<line x1="317.7" y1="334.6" x2="317.7" y2="336" stroke="#777" stroke-width="0.5"/>
<line x1="320.8" y1="334.6" x2="320.8" y2="336" stroke="#777" stroke-width="0.5"/>
<line x1="323.9" y1="334.6" x2="323.9" y2="336" stroke="#777" stroke-width="0.5"/>
<line x1="327" y1="334.6" x2="327" y2="336" stroke="#777" stroke-width="0.5"/>
<line x1="330.1" y1="334.6" x2="330.1" y2="336" stroke="#777" stroke-width="0.5"/>
<line x1="333.2" y1="334.6" x2="333.2" y2="336" stroke="#777" stroke-width="0.5"/>
<line x1="336.3" y1="334.6" x2="336.3" y2="336" stroke="#777" stroke-width="0.5"/>
<rect x="267.6" y="334.6" width="4.6" height="2.0" fill="#222"/>
<g transform="translate(352.2 245) scale(.1)">
<path d="M799 414h9M603 309h9M257 329h9M432 311h9M680 349h9M304 303h9M747 431h9M113 419h9M99 554h9M599 345h9M696 380h9M138 612h9M630 358h9M380 324h9M474 356h9M281 361h9M720 300h9M584 363h9M497 306h9M754 575h9M154 590h9M134 474h9M215 387h9M654 313h9M340 314h9M495 334h9M117 386h9M112 534h9M110 574h9M512 318h9M190 621h9M257 361h9M735 493h9M153 426h9M158 524h9M695 428h9M166 419h9M730 514h9M346 331h9M724 528h9M193 412h9M140 409h9M387 343h9M141 549h9M157 578h9M169 554h9M699 584h9M141 498h9M155 477h9M158 584h9M173 462h9M712 561h9M713 582h9M130 542h9M561 354h9M349 326h9M241 372h9M233 392h9M498 329h9M677 421h9M218 415h9M136 506h9M360 351h9M642 622h9M116 396h9M708 455h9M341 362h9M423 614h9M714 456h9M350 624h9M280 390h9M416 357h9M422 581h9M495 367h9M252 398h9M626 623h9M329 360h9M144 563h9M332 615h9M664 606h9M652 409h9M381 611h9M523 625h9M551 363h9M134 548h9M684 581h9M187 578h9M363 364h9M405 605h9M154 495h9M317 617h9M378 362h9M241 625h9M663 616h9M717 471h9M173 488h9M334 379h9M715 506h9M332 368h9M310 387h9M716 477h9M710 528h9M542 397h9M418 612h9M667 441h9M190 600h9M380 380h9M383 403h9M228 428h9M541 364h9M409 364h9M383 405h9M200 601h9M599 621h9M161 495h9M696 570h9M686 511h9M685 467h9M432 388h9M249 404h9M498 376h9M500 404h9M311 613h9M700 483h9M198 593h9M406 405h9M197 459h9M403 386h9M386 605h9M412 364h9M693 494h9M198 466h9M703 548h9M197 440h9M692 546h9M318 400h9M511 365h9M456 387h9" stroke="#3b57ca" stroke-width="9" stroke-opacity="0.5" fill="none"/>
<path d="M417 420h9M465 393h9M408 605h9M266 401h9M462 376h9M440 575h9M410 388h9M456 621h9M382 410h9M676 441h9M439 394h9M296 412h9M236 419h9M540 377h9M703 518h9M213 433h9M236 611h9M361 605h9M642 403h9M682 512h9M634 382h9M306 414h9M455 424h9M535 344h9M660 588h9M310 403h9M705 578h9M325 609h9M601 387h9M191 456h9M272 590h9M437 617h9M330 396h9M432 393h9M502 376h9M585 400h9M442 608h9M558 399h9M527 409h9M206 594h9M453 618h9M518 384h9M230 586h9M451 395h9M567 395h9M486 407h9M448 414h9M648 419h9M675 506h9M632 394h9M283 611h9M649 606h9M691 489h9M431 620h9M371 589h9M618 611h9M417 401h9M561 621h9M207 600h9M269 620h9M428 417h9M443 377h9M220 604h9M349 603h9M633 619h9M312 621h9M519 398h9M424 564h9M387 381h9M263 402h9M515 383h9M234 610h9M203 581h9M418 391h9M442 447h9M616 611h9M198 561h9M399 599h9M325 596h9M388 588h9M540 351h9M464 386h9M522 390h9M390 577h9M209 467h9M281 612h9M460 582h9M433 415h9M491 422h9M230 451h9M488 409h9M221 448h9M660 442h9M387 418h9M217 587h9M391 426h9M596 411h9M236 617h9M468 586h9M190 513h9M689 517h9M464 403h9M455 394h9M178 523h9M333 432h9M437 557h9M595 400h9M465 425h9M478 406h9M627 416h9M513 366h9M210 461h9M187 570h9M198 499h9M671 462h9M190 549h9M298 601h9M326 403h9M467 607h9M456 450h9M231 450h9M530 372h9M221 449h9M247 447h9M256 604h9M360 412h9M393 573h9M361 432h9M226 461h9M178 544h9M533 366h9M571 395h9M243 437h9M186 507h9M516 624h9M500 623h9M326 430h9M445 537h9M620 606h9M341 410h9M240 437h9M236 606h9M469 614h9M192 568h9M415 428h9M519 383h9M388 598h9M667 571h9M621 601h9M658 597h9M419 527h9M607 394h9M353 607h9M334 597h9M255 593h9M624 387h9M683 553h9M183 500h9M447 422h9M480 610h9M181 533h9M483 615h9M687 541h9M515 615h9M332 447h9M564 414h9M355 414h9M277 612h9M268 590h9M364 407h9M669 475h9M359 417h9M636 432h9M439 411h9M320 405h9M479 427h9M427 443h9M416 478h9M398 564h9M420 565h9M429 506h9M626 395h9M541 616h9M339 590h9M374 593h9M477 607h9M545 616h9M526 403h9M589 618h9M426 545h9M351 429h9M420 533h9M503 613h9M540 413h9M189 509h9M427 448h9M423 516h9M199 535h9M343 407h9M571 404h9M486 433h9M460 612h9M601 390h9M279 617h9M607 391h9M262 425h9M367 414h9M464 587h9M606 390h9M479 594h9M616 403h9M205 559h9M299 599h9M570 624h9M233 591h9M646 574h9M537 362h9M456 601h9M586 416h9M221 580h9M661 469h9M669 573h9M662 485h9" stroke="#3a5ccd" stroke-width="9" stroke-opacity="0.6" fill="none"/>
<path d="M373 433h9M427 441h9M346 448h9M459 608h9M345 585h9M481 594h9M441 553h9M610 420h9M418 460h9M199 533h9M228 563h9M615 605h9M609 447h9M640 594h9M483 610h9M464 431h9M410 473h9M215 473h9M643 462h9M278 411h9M681 547h9M433 503h9M371 435h9M441 404h9M586 402h9M398 545h9M410 444h9M636 406h9M483 413h9M466 502h9M249 603h9M394 553h9M374 439h9M666 516h9M271 426h9M443 455h9M317 423h9M329 617h9M582 440h9M636 586h9M278 614h9M268 604h9M497 591h9M239 551h9M446 505h9M202 491h9M361 430h9M505 604h9M325 600h9M627 405h9M422 544h9M400 441h9M399 450h9M503 593h9M357 407h9M635 429h9M663 567h9M240 438h9M416 492h9M553 612h9M467 458h9M330 429h9M443 529h9M353 413h9M253 606h9M244 470h9M404 454h9M582 605h9M663 560h9M664 495h9M606 424h9M518 594h9M365 449h9M668 477h9M631 579h9M394 515h9M384 551h9M635 578h9M313 594h9M568 411h9M198 552h9M446 500h9M464 464h9M195 524h9M463 429h9M644 455h9M396 547h9M367 519h9M319 408h9M417 517h9M315 591h9M411 543h9M430 474h9M544 428h9M453 512h9M282 581h9M679 540h9M678 541h9M643 587h9M321 431h9M382 566h9M673 538h9M246 587h9M287 589h9M191 498h9M390 488h9M640 597h9M335 583h9M407 483h9M415 505h9M331 428h9M657 453h9M649 579h9M431 485h9M463 457h9M238 463h9M243 455h9M621 599h9M210 503h9M363 550h9M358 588h9M333 547h9M662 540h9M249 451h9M279 421h9M578 435h9M413 436h9M429 540h9M340 413h9M378 467h9M581 618h9M481 614h9M323 578h9M523 426h9M265 571h9M631 449h9M453 541h9M588 619h9M431 488h9M260 433h9M621 585h9M451 528h9M247 479h9M313 575h9M247 448h9M485 431h9M642 565h9M508 430h9M443 469h9M493 619h9M290 418h9M325 600h9M622 419h9M281 431h9M486 616h9M441 536h9M252 519h9M198 506h9M459 573h9M407 505h9M293 581h9M199 527h9M341 434h9M300 583h9M569 616h9M286 439h9M266 576h9M380 535h9M468 569h9M199 505h9M309 576h9M203 520h9M336 572h9M495 603h9M480 437h9M451 477h9M411 528h9M262 446h9M529 599h9M393 519h9M397 547h9M217 565h9M404 523h9M257 479h9M200 552h9M676 530h9M462 559h9M345 573h9M254 574h9M627 552h9M431 496h9M575 422h9M467 564h9M362 448h9M369 586h9M572 601h9M354 559h9M384 503h9M646 490h9M430 468h9M472 424h9M383 494h9M642 519h9M473 464h9M295 566h9M205 483h9M207 510h9M395 458h9M629 424h9M351 545h9M465 431h9M592 430h9M570 427h9M505 432h9M299 427h9M245 594h9M607 597h9M210 501h9M279 580h9M417 555h9M459 536h9M359 522h9M494 597h9M521 605h9M653 494h9M434 456h9M360 561h9M598 594h9M276 451h9M359 572h9M389 579h9M573 595h9M642 524h9M428 516h9M484 451h9M250 597h9M271 450h9M197 531h9M361 590h9M452 532h9M359 451h9M202 558h9M258 451h9M289 435h9M598 605h9M425 544h9M507 422h9M458 554h9M612 411h9M429 448h9M409 498h9M309 422h9M417 514h9M251 446h9M371 452h9M601 580h9M442 506h9M473 437h9M356 589h9M254 589h9M387 445h9M282 420h9M216 550h9M414 449h9M503 428h9M323 451h9M636 597h9M596 433h9M369 469h9M234 553h9M488 562h9M401 478h9M541 430h9M614 582h9M499 615h9M443 470h9M652 481h9M446 462h9M660 567h9M479 569h9M419 547h9M241 443h9M477 439h9M470 451h9M388 462h9M386 477h9M383 575h9M214 487h9M403 521h9M623 437h9M537 429h9M436 474h9M248 566h9M445 504h9M388 494h9M234 552h9M609 431h9M338 567h9M601 599h9M327 476h9M418 520h9M360 572h9M580 437h9M320 568h9M644 444h9M397 453h9" stroke="#3861d0" stroke-width="9" stroke-opacity="0.75" fill="none"/>
<path d="M380 481h9M398 498h9M376 520h9M433 503h9M395 531h9M318 459h9M405 530h9M352 577h9M585 597h9M575 595h9M319 458h9M214 553h9M300 432h9M402 457h9M441 497h9M610 424h9M434 540h9M411 484h9M525 424h9M376 496h9M199 507h9M625 575h9M348 519h9M623 437h9M383 472h9M407 455h9M209 508h9M565 605h9M270 445h9M467 506h9M328 561h9M562 435h9M456 461h9M372 531h9M386 539h9M361 502h9M448 486h9M602 447h9M627 575h9M244 572h9M327 468h9M666 552h9M620 437h9M612 589h9M267 603h9M323 499h9M377 531h9M625 555h9M657 530h9M362 453h9M668 536h9M468 568h9M352 500h9M417 440h9M643 451h9M369 587h9M518 423h9M522 423h9M402 483h9M473 556h9M268 449h9M448 472h9M334 460h9M276 448h9M649 510h9M311 579h9M647 480h9M645 474h9M496 449h9M468 493h9M614 590h9M621 579h9M460 484h9M428 469h9M220 539h9M243 554h9M336 552h9M461 538h9M652 503h9M534 426h9M309 574h9M444 532h9M393 529h9M583 599h9M316 551h9M288 428h9M302 454h9M640 552h9M447 549h9M632 549h9M344 489h9M201 541h9M390 516h9M655 465h9M254 475h9M368 574h9M370 589h9M301 461h9M608 581h9M284 458h9M378 518h9M280 458h9M654 531h9M615 453h9M220 514h9M439 468h9M465 549h9M218 493h9M504 424h9M383 478h9M335 453h9M616 404h9M235 564h9M641 467h9M627 439h9M391 529h9M533 437h9M593 599h9M245 542h9M560 594h9M645 495h9M339 513h9M385 456h9M303 447h9M343 510h9M471 504h9M363 498h9M306 438h9M287 573h9M373 523h9M390 480h9M459 487h9M351 563h9M479 552h9M350 513h9M297 577h9M377 532h9M528 420h9M296 439h9M328 525h9M227 477h9M244 550h9M428 464h9M664 525h9M234 487h9M397 480h9M553 604h9M256 476h9M411 525h9M642 508h9M626 557h9M382 531h9M648 578h9M433 542h9M345 535h9M559 607h9M219 489h9M369 530h9M480 569h9M343 525h9M504 600h9M214 508h9M371 584h9M498 575h9M661 536h9M314 569h9M627 567h9M421 469h9M393 458h9M545 438h9M341 468h9M217 529h9M352 496h9M649 541h9M227 508h9M504 454h9M254 565h9M657 522h9M229 554h9M257 569h9M279 447h9M365 531h9M478 569h9M321 568h9M307 442h9M364 464h9M355 471h9M488 591h9M497 572h9M542 433h9M298 514h9M573 448h9M280 525h9M511 432h9M269 460h9M244 565h9M240 467h9M596 449h9M229 555h9M212 507h9M327 513h9M461 547h9M325 555h9M322 444h9M568 589h9M647 516h9M500 559h9M651 549h9M546 444h9M511 596h9M543 426h9M366 465h9M365 544h9M211 554h9M212 561h9M614 440h9M348 478h9M273 572h9M395 472h9M307 563h9M492 460h9M302 455h9M227 497h9M500 463h9M276 567h9M311 545h9M519 425h9M457 532h9M639 543h9M645 539h9M519 459h9M243 535h9M634 524h9M535 438h9M544 608h9M346 490h9M543 592h9M367 503h9M556 608h9M519 564h9M635 439h9M524 599h9M474 539h9M336 511h9M303 456h9M268 541h9M383 515h9M374 463h9M299 456h9M253 471h9M519 455h9M569 439h9M332 478h9M354 463h9M512 429h9M579 435h9M656 554h9M347 557h9M339 462h9M380 449h9M276 570h9M554 444h9M475 480h9M529 452h9M348 576h9M574 594h9M252 503h9M349 523h9M610 585h9M456 473h9M562 421h9M541 431h9M596 463h9M449 486h9M299 450h9M411 500h9M453 489h9M325 527h9M560 607h9M614 573h9M334 453h9M221 521h9M322 500h9M264 562h9M334 540h9M328 480h9M257 548h9M268 567h9M623 436h9" stroke="#396ed3" stroke-width="9" fill="none"/>
<path d="M613 579h9M350 547h9M358 546h9M628 455h9M350 542h9M636 523h9M527 450h9M334 556h9M628 454h9M564 558h9M615 450h9M482 465h9M537 576h9M329 545h9M368 546h9M287 436h9M387 481h9M368 482h9M340 561h9M496 575h9M548 610h9M553 438h9M391 470h9M329 452h9M370 478h9M319 559h9M528 435h9M641 469h9M230 492h9M526 594h9M526 448h9M644 533h9M287 467h9M654 530h9M264 577h9M471 518h9M655 529h9M226 484h9M371 487h9M561 444h9M477 483h9M352 482h9M640 532h9M602 589h9M349 521h9M630 534h9M583 566h9M554 595h9M331 556h9M461 495h9M236 470h9M553 432h9M650 509h9M582 469h9M231 476h9M276 531h9M590 447h9M461 542h9M662 550h9M311 476h9M463 488h9M579 455h9M230 556h9M325 527h9M650 486h9M352 496h9M491 516h9M558 602h9M301 473h9M337 501h9M550 444h9M478 505h9M391 448h9M335 544h9M321 517h9M354 485h9M347 525h9M569 596h9M475 548h9M240 492h9M319 542h9M551 613h9M647 520h9M253 533h9M298 490h9M607 447h9M605 573h9M562 441h9M321 505h9M600 588h9M268 471h9M488 489h9M591 469h9M268 468h9M329 480h9M318 458h9M220 547h9M544 587h9M663 544h9M337 520h9M356 492h9M634 497h9M473 477h9M575 439h9M354 477h9M211 539h9M267 550h9M319 504h9M505 444h9M628 540h9M586 467h9M221 531h9M238 522h9M233 512h9M324 511h9M611 451h9M562 574h9M516 597h9M228 511h9M485 475h9M508 429h9M487 528h9M276 478h9M508 599h9M505 469h9M389 495h9M302 463h9M544 447h9M222 534h9M625 487h9M634 489h9M389 525h9M280 471h9M266 488h9M328 489h9M612 488h9M466 553h9M644 557h9M235 558h9M295 456h9M515 583h9M306 527h9M305 540h9M343 464h9M615 462h9M471 558h9M247 538h9M338 476h9M325 517h9M231 500h9M293 458h9M490 514h9M249 475h9M594 566h9M634 546h9M477 490h9M363 485h9M245 499h9M506 530h9M362 500h9M285 462h9M279 552h9M368 482h9M324 481h9M221 486h9M658 540h9M551 589h9M514 564h9M295 489h9M286 468h9M270 527h9M486 491h9M334 453h9M643 557h9M587 453h9M338 528h9M605 558h9M518 556h9M648 499h9M314 501h9M511 451h9M579 595h9M611 460h9M354 546h9M307 533h9M327 474h9M550 456h9M608 555h9M231 521h9M517 571h9M497 462h9M259 501h9M462 555h9M560 468h9M632 548h9M342 474h9M288 489h9M248 527h9M267 540h9M531 435h9M230 527h9M518 567h9M607 460h9M222 520h9M229 548h9M329 506h9M249 495h9M551 433h9M632 463h9M285 574h9M635 485h9M493 567h9M226 525h9M580 465h9M319 489h9M582 562h9M611 555h9M331 509h9M573 565h9M338 556h9M639 515h9M513 458h9M368 535h9M339 493h9M226 511h9M277 581h9M238 496h9M573 564h9M257 494h9M552 453h9M285 566h9M291 551h9M485 520h9M215 500h9M553 566h9M574 584h9M553 460h9M498 478h9M259 512h9M347 546h9M613 527h9M482 467h9M347 501h9M245 537h9M644 543h9M344 554h9M241 490h9M539 586h9M633 478h9M602 558h9M254 557h9M344 548h9M477 521h9M340 508h9M529 441h9M568 573h9M627 464h9M530 460h9M289 478h9M272 516h9M283 557h9M623 451h9M335 470h9M382 545h9M250 509h9M244 484h9" stroke="#3d87d5" stroke-width="9" fill="none"/>
<path d="M475 518h12M264 525h12M604 555h12M495 527h12M595 467h12M598 487h12M239 528h12M595 571h12M476 523h12M306 481h12M311 558h12M490 536h12M640 516h12M374 537h12M615 484h12M494 459h12M389 503h12M562 462h12M583 566h12M326 548h12M630 521h12M238 506h12M348 460h12M495 576h12M544 467h12M352 472h12M526 573h12M617 478h12M295 545h12M615 472h12M303 539h12M308 500h12M243 524h12M475 496h12M229 517h12M337 506h12M529 458h12M276 516h12M489 535h12M572 448h12M555 570h12M562 461h12M546 490h12M622 558h12M484 512h12M287 515h12M632 498h12M367 537h12M477 512h12M544 465h12M229 513h12M295 457h12M489 553h12M602 452h12M275 520h12M578 583h12M511 454h12M505 571h12M319 521h12M513 565h12M538 580h12M638 466h12M239 504h12M314 488h12M263 495h12M340 460h12M336 503h12M500 526h12M262 477h12M527 545h12M489 543h12M475 493h12M602 472h12M471 482h12M537 588h12M543 586h12M523 569h12M529 515h12M363 472h12M634 471h12M584 564h12M490 557h12M545 444h12M480 516h12M616 560h12M544 460h12M494 567h12M600 558h12M293 568h12M310 487h12M555 563h12M311 524h12M307 509h12M333 533h12M241 489h12M278 498h12M582 569h12M531 584h12M538 608h12M577 588h12M632 512h12M368 538h12M477 496h12M275 570h12M318 525h12M580 467h12M228 505h12M611 462h12M251 539h12M304 507h12M316 484h12M485 543h12M591 450h12M279 506h12M588 578h12M528 451h12M238 492h12M344 525h12M528 441h12M270 540h12M487 532h12M261 545h12M620 522h12M233 520h12M234 513h12M506 495h12M326 531h12M316 509h12M298 480h12M589 461h12M564 442h12M573 571h12M628 448h12M349 474h12M577 479h12M638 463h12M290 495h12M476 524h12M239 523h12M648 463h12M526 556h12M523 588h12M541 457h12M298 512h12M301 519h12M513 470h12M613 520h12M366 478h12M622 494h12M612 557h12M310 559h12M595 468h12M246 531h12M253 526h12M491 499h12M631 519h12M540 464h12M579 490h12M484 509h12M252 491h12M639 464h12M560 486h12M554 463h12M494 536h12M496 543h12M296 482h12M267 501h12M338 478h12M366 535h12M622 494h12M472 487h12M597 528h12M535 463h12M572 587h12M604 531h12M617 464h12M233 505h12M634 480h12M287 473h12M557 471h12M333 500h12M385 526h12M315 519h12M482 552h12M284 543h12M593 555h12M310 491h12M264 476h12M299 513h12M594 570h12M552 480h12M249 517h12M323 479h12M605 495h12M586 559h12M616 470h12M547 485h12M494 520h12M534 574h12M582 571h12M488 492h12M301 474h12M229 492h12M269 523h12M571 464h12M499 490h12M513 469h12M544 572h12M276 544h12M283 463h12M256 532h12M258 480h12M254 492h12M561 464h12M346 554h12M543 560h12M495 502h12M285 479h12M235 523h12M311 500h12M281 484h12M494 474h12M297 531h12M525 585h12M297 506h12M536 451h12M274 555h12M296 547h12M506 506h12M490 461h12M325 474h12M557 590h12M228 518h12M546 474h12M622 504h12M635 539h12M299 499h12M279 540h12M310 492h12M583 461h12M318 534h12M541 478h12M629 522h12M280 552h12M637 474h12M637 451h12M499 559h12M338 548h12M514 536h12M493 534h12M604 508h12M477 524h12M298 513h12M529 533h12M272 491h12M659 529h12M248 513h12M498 537h12M516 590h12M520 578h12M272 499h12M261 521h12M599 533h12M486 545h12M258 519h12M481 541h12M533 544h12M486 543h12M294 469h12M509 554h12M628 507h12M509 475h12M507 516h12" stroke="#429fd2" stroke-width="12" fill="none"/>
<path d="M628 522h12M481 492h12M625 509h12M616 504h12M489 480h12M529 575h12M540 563h12M337 476h12M540 451h12M620 491h12M507 579h12M492 500h12M527 577h12M286 518h12M286 544h12M498 528h12M248 494h12M553 550h12M555 461h12M255 511h12M564 461h12M273 485h12M529 579h12M608 481h12M287 559h12M287 567h12M528 580h12M273 550h12M625 483h12M527 558h12M597 468h12M567 477h12M299 537h12M293 549h12M563 588h12M508 569h12M627 458h12M539 465h12M273 542h12M545 563h12M302 513h12M304 531h12M528 477h12M593 546h12M483 481h12M561 596h12M538 583h12M369 483h12M514 505h12M519 477h12M588 572h12M519 524h12M306 504h12M296 490h12M511 467h12M500 489h12M610 516h12M613 538h12M277 552h12M272 535h12M302 522h12M506 524h12M587 472h12M284 546h12M288 511h12M307 543h12M491 565h12M251 498h12M552 582h12M628 491h12M521 526h12M544 463h12M550 581h12M562 460h12M263 493h12M274 491h12M499 558h12M611 473h12M576 562h12M548 548h12M496 483h12M540 472h12M282 545h12M593 461h12M520 474h12M539 589h12M350 481h12M281 549h12M632 470h12M601 538h12M592 546h12M607 466h12M247 494h12M503 549h12M500 538h12M501 533h12M561 562h12M515 475h12M543 579h12M487 474h12M301 544h12M278 534h12M546 572h12M303 517h12M501 463h12M497 490h12M599 551h12M488 495h12M522 560h12M273 485h12M271 528h12M513 462h12M548 491h12M592 548h12M537 554h12M580 484h12M241 511h12M603 530h12M558 561h12M497 557h12M578 454h12M568 573h12M299 547h12M586 469h12M285 564h12M596 546h12M280 484h12M518 577h12M299 499h12M307 480h12M632 497h12M504 470h12M494 492h12M288 556h12M640 539h12M471 485h12M500 509h12M589 551h12M505 491h12M273 494h12M296 528h12M511 529h12M509 546h12M545 518h12M500 522h12M517 475h12M278 520h12M318 504h12M271 524h12M549 560h12M492 547h12M278 538h12M304 527h12M613 512h12M498 558h12M515 549h12M282 491h12M493 509h12M525 482h12M291 551h12M591 483h12M301 542h12M503 551h12M621 501h12M500 496h12M519 559h12M590 548h12M536 550h12M528 547h12M491 478h12M615 521h12M542 563h12M577 477h12M269 491h12M539 551h12M287 532h12M496 527h12M527 551h12M554 557h12M613 518h12M603 544h12M506 528h12M521 552h12M537 486h12M530 555h12M558 525h12M619 480h12M522 553h12M543 577h12M289 494h12M285 522h12M512 474h12M293 543h12M604 523h12M286 543h12M613 522h12M233 513h12M553 566h12M282 544h12M538 478h12M533 545h12M618 524h12M514 480h12M488 474h12M564 498h12M509 541h12M618 530h12M607 519h12M538 463h12M575 520h12M495 490h12M498 491h12M261 532h12M567 557h12M590 539h12M504 489h12M281 515h12M508 564h12M490 475h12M604 495h12M610 495h12M507 475h12M583 556h12M308 531h12M591 484h12M558 546h12M517 467h12M512 494h12M585 589h12M284 487h12M563 493h12M568 504h12M554 542h12" stroke="#48b4b7" stroke-width="12" fill="none"/>
<path d="M285 504h12M570 503h12M495 536h12M545 582h12M597 531h12M505 502h12M616 494h12M273 495h12M543 483h12M582 513h12M595 487h12M493 526h12M288 503h12M491 505h12M558 460h12M279 484h12M569 556h12M597 481h12M613 528h12M595 491h12M509 502h12M557 496h12M557 537h12M516 485h12M528 486h12M488 541h12M490 474h12M538 577h12M581 472h12M517 533h12M559 564h12M603 559h12M276 521h12M596 499h12M564 556h12M564 530h12M528 549h12M533 515h12M586 554h12M497 519h12M569 543h12M528 575h12M586 565h12M611 529h12M291 521h12M256 490h12M288 492h12M506 518h12M601 500h12M571 481h12M318 534h12M583 507h12M296 533h12M287 503h12M549 556h12M270 493h12M497 521h12M516 555h12M521 474h12M567 512h12M564 488h12M595 522h12M616 503h12M566 480h12M604 486h12M546 536h12M545 472h12M618 516h12M562 476h12M549 472h12M254 484h12M521 559h12M615 531h12M589 504h12M596 518h12M590 552h12M605 539h12M521 516h12M536 552h12M298 550h12M573 499h12M582 544h12M570 495h12M557 515h12M590 525h12M519 551h12M541 518h12M541 496h12M568 516h12M595 573h12M511 504h12M517 537h12M552 527h12M595 554h12M272 491h12M282 494h12M529 531h12M281 542h12M266 474h12M272 527h12M529 524h12M567 550h12M499 523h12M596 536h12M541 470h12M518 500h12M542 483h12M274 501h12M581 560h12M571 487h12M539 507h12M309 516h12M585 482h12M514 488h12M523 534h12M497 566h12M603 522h12M551 475h12M545 560h12M577 544h12M535 537h12M600 471h12M539 508h12M276 493h12M549 585h12M570 576h12M607 536h12M521 484h12M585 533h12M618 530h12M544 545h12M601 489h12M534 517h12M533 519h12M524 486h12M562 526h12M590 517h12M514 519h12M523 473h12M520 502h12M299 494h12M298 498h12M573 547h12M601 541h12M292 526h12M554 472h12M289 520h12M552 543h12M543 506h12M281 539h12M554 499h12M570 472h12M271 508h12M558 496h12M530 500h12M600 533h12M546 482h12M542 542h12M601 524h12M514 538h12M267 502h12M570 495h12M552 495h12M551 490h12M610 524h12M517 502h12M538 494h12M553 536h12M549 545h12" stroke="#51c18f" stroke-width="12" fill="none"/>
<path d="M565 532h12M537 532h12M512 521h12M598 493h12M612 514h12M600 511h12M508 490h12M494 474h12M547 497h12M517 520h12M578 477h12M527 544h12M520 509h12M502 514h12M526 526h12M601 505h12M526 477h12M559 554h12M576 549h12M557 530h12M547 503h12M605 489h12M609 527h12M618 486h12M516 560h12M533 521h12M537 519h12M541 513h12M280 534h12M549 526h12M520 476h12M581 501h12M514 483h12M283 511h12M538 473h12M618 521h12M605 505h12M532 529h12M525 525h12M548 579h12M547 495h12M572 508h12M601 484h12M294 487h12M606 519h12M603 502h12M523 491h12M591 516h12M571 526h12M513 494h12M532 559h12M274 546h12M537 575h12M563 529h12M578 525h12M289 504h12M511 522h12M579 511h12M292 509h12M529 518h12M604 524h12M569 508h12M591 495h12M293 507h12M600 492h12M553 471h12M545 477h12M535 494h12M503 501h12M587 490h12M283 549h12M615 493h12M533 503h12M598 538h12M559 530h12M571 530h12M548 539h12M593 536h12M521 532h12M577 549h12M600 490h12M568 499h12M575 498h12M540 500h12M541 508h12M572 531h12M563 528h12M532 498h12M539 510h12M526 524h12M578 520h12M541 548h12M608 535h12M560 512h12M606 492h12M540 499h12M611 492h12M503 507h12M553 490h12M579 502h12M630 517h12M508 507h12M499 544h12M280 557h12M537 514h12M584 484h12M529 497h12M592 546h12M560 563h12M577 526h12M496 534h12M556 516h12M532 527h12M580 502h12M585 503h12M510 491h12M549 572h12M262 500h12M568 557h12M578 498h12M573 495h12M588 509h12M533 485h12M575 512h12M533 521h12M520 480h12M572 506h12M518 482h12M502 509h12M560 506h12M548 538h12M595 525h12M561 529h12M583 536h12M596 481h12M571 480h12M574 516h12M549 520h12M565 529h12" stroke="#5dc75a" stroke-width="12" fill="none"/>
<path d="M576 504h12M558 544h12M532 503h12M522 557h12M522 543h12M601 492h12M574 566h12M287 517h12M567 503h12M557 540h12M567 515h12M569 546h12M289 498h12M532 508h12M509 492h12M592 521h12M545 534h12M278 532h12M562 484h12M492 488h12M576 486h12M590 508h12M518 503h12M536 530h12M579 493h12M570 495h12M606 513h12M512 477h12M304 534h12M543 537h12M582 535h12M595 487h12M512 495h12M557 543h12M583 487h12M526 490h12M620 504h12M578 523h12M533 515h12M589 529h12M601 498h12M601 508h12M576 525h12M567 545h12M527 503h12M573 543h12M569 521h12M531 517h12M532 517h12M593 491h12M609 535h12M536 528h12M575 480h12M582 524h12M543 510h12M586 508h12M587 504h12M555 540h12M551 522h12M575 505h12M496 493h12M290 498h12M581 525h12M604 502h12M549 555h12M559 535h12M527 494h12M511 485h12M589 517h12M526 506h12M547 518h12M557 530h12M604 505h12M520 498h12M542 522h12M525 517h12M573 485h12M572 511h12M567 539h12M533 520h12M554 535h12" stroke="#87ce41" stroke-width="12" fill="none"/>
<path d="M551 527h12M544 554h12M511 473h12M545 494h12M539 522h12M587 518h12M551 534h12M579 524h12M536 519h12M576 491h12M561 544h12M518 488h12M563 523h12M580 528h12M566 512h12M595 540h12M587 535h12M503 504h12M560 530h12M556 552h12M571 486h12M574 505h12M566 538h12M522 509h12M582 491h12M536 524h12M563 529h12M598 501h12M574 495h12M548 532h12M308 535h12M526 478h12M576 500h12M534 509h12M578 480h12M590 483h12M571 534h12M550 542h12M566 522h12M580 545h12M518 497h12M528 488h12M586 507h12" stroke="#b7d630" stroke-width="12" fill="none"/>
<path d="M578 491h12M596 531h12M580 549h12M581 515h12M572 502h12M566 533h12M557 527h12M527 509h12M556 528h12M576 493h12M573 498h12M540 538h12M513 481h12M530 508h12M510 509h12" stroke="#dac028" stroke-width="12" fill="none"/>
<path d="M596 515h12M529 514h12M566 532h12M581 516h12M577 525h12M511 500h12M582 516h12M598 497h12M586 535h12" stroke="#f49d22" stroke-width="12" fill="none"/>
<path d="M545 517h12M586 521h12M524 517h12M547 528h12M547 520h12M585 491h12M560 514h12M533 495h12M547 514h12M530 516h12M558 532h12M553 539h12M560 500h12M606 503h12M592 506h12M599 528h12" stroke="#ee551d" stroke-width="12" fill="none"/>
</g>
<rect x="352.2" y="245" width="89.4" height="89.6" stroke="#8f8f8f" stroke-width="0.9" fill="none"/>
<line x1="392.5" y1="245" x2="392.5" y2="334.6" stroke="#2e2e2e" stroke-width="1"/>
<line x1="352.2" y1="307.2" x2="441.6" y2="307.2" stroke="#2e2e2e" stroke-width="1"/>
<text x="0" y="0" font-size="9" transform="translate(361,263.1) scale(0.92,1)" fill="#111">23.6</text>
<text x="0" y="0" font-size="9" text-anchor="end" transform="translate(432.8,263.1) scale(0.92,1)" fill="#111">75.8</text>
<text x="0" y="0" font-size="9" transform="translate(361,326.4) scale(0.92,1)" fill="#111">0.30</text>
<text x="0" y="0" font-size="9" text-anchor="end" transform="translate(432.8,326.4) scale(0.92,1)" fill="#111">0.32</text>
<line x1="349.8" y1="255.4" x2="352.2" y2="255.4" stroke="#444" stroke-width="0.8"/>
<text x="348.4" y="256.8" font-size="4" text-anchor="end" fill="#333">10<tspan font-size="2.7" dy="-1.6">5</tspan></text>
<line x1="349.8" y1="275" x2="352.2" y2="275" stroke="#444" stroke-width="0.8"/>
<text x="348.4" y="276.4" font-size="4" text-anchor="end" fill="#333">10<tspan font-size="2.7" dy="-1.6">4</tspan></text>
<line x1="349.8" y1="300.7" x2="352.2" y2="300.7" stroke="#444" stroke-width="0.8"/>
<text x="348.4" y="302.1" font-size="4" text-anchor="end" fill="#333">10<tspan font-size="2.7" dy="-1.6">3</tspan></text>
<line x1="349.8" y1="315.4" x2="352.2" y2="315.4" stroke="#444" stroke-width="0.8"/>
<text x="348.4" y="316.8" font-size="4" text-anchor="end" fill="#333">0</text>
<line x1="349.8" y1="329.5" x2="352.2" y2="329.5" stroke="#444" stroke-width="0.8"/>
<text x="348.4" y="330.9" font-size="4" text-anchor="end" fill="#333">-10<tspan font-size="2.7" dy="-1.6">3</tspan></text>
<line x1="350.9" y1="249" x2="352.2" y2="249" stroke="#777" stroke-width="0.5"/>
<line x1="350.9" y1="252.3" x2="352.2" y2="252.3" stroke="#777" stroke-width="0.5"/>
<line x1="350.9" y1="255.6" x2="352.2" y2="255.6" stroke="#777" stroke-width="0.5"/>
<line x1="350.9" y1="258.9" x2="352.2" y2="258.9" stroke="#777" stroke-width="0.5"/>
<line x1="350.9" y1="262.2" x2="352.2" y2="262.2" stroke="#777" stroke-width="0.5"/>
<line x1="350.9" y1="265.5" x2="352.2" y2="265.5" stroke="#777" stroke-width="0.5"/>
<line x1="350.9" y1="268.8" x2="352.2" y2="268.8" stroke="#777" stroke-width="0.5"/>
<line x1="350.9" y1="272.1" x2="352.2" y2="272.1" stroke="#777" stroke-width="0.5"/>
<line x1="350.9" y1="275.4" x2="352.2" y2="275.4" stroke="#777" stroke-width="0.5"/>
<line x1="350.9" y1="278.7" x2="352.2" y2="278.7" stroke="#777" stroke-width="0.5"/>
<line x1="350.9" y1="282" x2="352.2" y2="282" stroke="#777" stroke-width="0.5"/>
<line x1="350.9" y1="285.3" x2="352.2" y2="285.3" stroke="#777" stroke-width="0.5"/>
<line x1="350.9" y1="288.6" x2="352.2" y2="288.6" stroke="#777" stroke-width="0.5"/>
<line x1="350.9" y1="291.9" x2="352.2" y2="291.9" stroke="#777" stroke-width="0.5"/>
<line x1="350.9" y1="295.2" x2="352.2" y2="295.2" stroke="#777" stroke-width="0.5"/>
<line x1="350.9" y1="298.5" x2="352.2" y2="298.5" stroke="#777" stroke-width="0.5"/>
<line x1="350.9" y1="301.8" x2="352.2" y2="301.8" stroke="#777" stroke-width="0.5"/>
<line x1="350.9" y1="305.1" x2="352.2" y2="305.1" stroke="#777" stroke-width="0.5"/>
<line x1="350.9" y1="308.4" x2="352.2" y2="308.4" stroke="#777" stroke-width="0.5"/>
<line x1="350.9" y1="311.7" x2="352.2" y2="311.7" stroke="#777" stroke-width="0.5"/>
<line x1="350.9" y1="315" x2="352.2" y2="315" stroke="#777" stroke-width="0.5"/>
<line x1="350.9" y1="318.3" x2="352.2" y2="318.3" stroke="#777" stroke-width="0.5"/>
<line x1="350.9" y1="321.6" x2="352.2" y2="321.6" stroke="#777" stroke-width="0.5"/>
<line x1="350.9" y1="324.9" x2="352.2" y2="324.9" stroke="#777" stroke-width="0.5"/>
<line x1="350.9" y1="328.2" x2="352.2" y2="328.2" stroke="#777" stroke-width="0.5"/>
<line x1="350.9" y1="331.5" x2="352.2" y2="331.5" stroke="#777" stroke-width="0.5"/>
<rect x="350.2" y="313.6" width="1.8" height="3.4" fill="#222"/>
<line x1="356.8" y1="334.6" x2="356.8" y2="336.8" stroke="#444" stroke-width="0.8"/>
<text x="356.8" y="344.6" font-size="4" text-anchor="middle" fill="#333">-10<tspan font-size="2.7" dy="-1.6">3</tspan></text>
<line x1="372.6" y1="334.6" x2="372.6" y2="336.8" stroke="#444" stroke-width="0.8"/>
<text x="372.6" y="344.6" font-size="4" text-anchor="middle" fill="#333">0</text>
<line x1="389.2" y1="334.6" x2="389.2" y2="336.8" stroke="#444" stroke-width="0.8"/>
<text x="389.2" y="344.6" font-size="4" text-anchor="middle" fill="#333">10<tspan font-size="2.7" dy="-1.6">3</tspan></text>
<line x1="413.2" y1="334.6" x2="413.2" y2="336.8" stroke="#444" stroke-width="0.8"/>
<text x="413.2" y="344.6" font-size="4" text-anchor="middle" fill="#333">10<tspan font-size="2.7" dy="-1.6">4</tspan></text>
<line x1="433.9" y1="334.6" x2="433.9" y2="336.8" stroke="#444" stroke-width="0.8"/>
<text x="433.9" y="344.6" font-size="4" text-anchor="middle" fill="#333">10<tspan font-size="2.7" dy="-1.6">5</tspan></text>
<line x1="355.2" y1="334.6" x2="355.2" y2="336" stroke="#777" stroke-width="0.5"/>
<line x1="358.3" y1="334.6" x2="358.3" y2="336" stroke="#777" stroke-width="0.5"/>
<line x1="361.4" y1="334.6" x2="361.4" y2="336" stroke="#777" stroke-width="0.5"/>
<line x1="364.5" y1="334.6" x2="364.5" y2="336" stroke="#777" stroke-width="0.5"/>
<line x1="367.6" y1="334.6" x2="367.6" y2="336" stroke="#777" stroke-width="0.5"/>
<line x1="370.7" y1="334.6" x2="370.7" y2="336" stroke="#777" stroke-width="0.5"/>
<line x1="373.8" y1="334.6" x2="373.8" y2="336" stroke="#777" stroke-width="0.5"/>
<line x1="376.9" y1="334.6" x2="376.9" y2="336" stroke="#777" stroke-width="0.5"/>
<line x1="380" y1="334.6" x2="380" y2="336" stroke="#777" stroke-width="0.5"/>
<line x1="383.1" y1="334.6" x2="383.1" y2="336" stroke="#777" stroke-width="0.5"/>
<line x1="386.2" y1="334.6" x2="386.2" y2="336" stroke="#777" stroke-width="0.5"/>
<line x1="389.3" y1="334.6" x2="389.3" y2="336" stroke="#777" stroke-width="0.5"/>
<line x1="392.4" y1="334.6" x2="392.4" y2="336" stroke="#777" stroke-width="0.5"/>
<line x1="395.5" y1="334.6" x2="395.5" y2="336" stroke="#777" stroke-width="0.5"/>
<line x1="398.6" y1="334.6" x2="398.6" y2="336" stroke="#777" stroke-width="0.5"/>
<line x1="401.7" y1="334.6" x2="401.7" y2="336" stroke="#777" stroke-width="0.5"/>
<line x1="404.8" y1="334.6" x2="404.8" y2="336" stroke="#777" stroke-width="0.5"/>
<line x1="407.9" y1="334.6" x2="407.9" y2="336" stroke="#777" stroke-width="0.5"/>
<line x1="411" y1="334.6" x2="411" y2="336" stroke="#777" stroke-width="0.5"/>
<line x1="414.1" y1="334.6" x2="414.1" y2="336" stroke="#777" stroke-width="0.5"/>
<line x1="417.2" y1="334.6" x2="417.2" y2="336" stroke="#777" stroke-width="0.5"/>
<line x1="420.3" y1="334.6" x2="420.3" y2="336" stroke="#777" stroke-width="0.5"/>
<line x1="423.4" y1="334.6" x2="423.4" y2="336" stroke="#777" stroke-width="0.5"/>
<line x1="426.5" y1="334.6" x2="426.5" y2="336" stroke="#777" stroke-width="0.5"/>
<line x1="429.6" y1="334.6" x2="429.6" y2="336" stroke="#777" stroke-width="0.5"/>
<line x1="432.7" y1="334.6" x2="432.7" y2="336" stroke="#777" stroke-width="0.5"/>
<line x1="435.8" y1="334.6" x2="435.8" y2="336" stroke="#777" stroke-width="0.5"/>
<line x1="438.9" y1="334.6" x2="438.9" y2="336" stroke="#777" stroke-width="0.5"/>
<rect x="370.2" y="334.6" width="4.6" height="2.0" fill="#222"/>
<g transform="translate(43.7 426.7) scale(.1)">
<path d="M388 424h9M450 433h9M502 459h9M80 651h9M237 436h9M761 680h9M601 465h9M107 616h9M658 502h9M625 442h9M424 473h9M75 623h9M265 469h9M672 500h9M610 484h9M410 478h9M449 497h9M711 490h9M135 653h9M713 530h9M573 474h9M186 608h9M759 600h9M336 508h9M711 469h9M365 521h9M129 691h9M385 509h9M580 445h9M106 722h9M755 644h9M341 498h9M574 454h9M768 556h9M122 673h9M638 691h9M354 544h9M786 596h9M783 600h9M96 723h9M662 529h9M689 686h9M642 485h9M635 472h9M373 478h9M775 567h9M570 451h9M349 700h9M398 700h9M382 537h9M174 722h9M547 480h9M611 690h9M737 654h9M380 478h9M379 545h9M727 559h9M382 707h9M348 496h9M766 567h9M629 519h9M547 478h9M389 560h9M735 645h9M307 575h9M733 619h9M735 580h9M450 526h9M687 530h9M407 557h9M366 484h9M285 580h9M233 594h9M735 615h9M160 629h9M433 508h9M234 599h9M374 556h9M193 618h9M439 539h9M467 526h9M720 544h9M167 710h9M436 556h9M380 590h9M474 525h9M219 619h9M674 680h9M142 700h9M295 585h9M323 575h9M265 718h9M177 718h9M211 720h9M590 692h9M401 573h9M374 697h9M457 545h9M706 660h9M712 660h9M732 646h9M162 627h9M440 567h9M447 536h9M472 548h9M157 696h9M166 691h9M208 629h9M147 684h9M217 710h9M335 572h9M738 621h9M179 654h9M458 539h9M149 639h9M153 694h9M162 629h9M430 560h9M168 633h9M519 530h9M456 553h9M682 663h9M300 711h9M739 628h9M426 571h9M424 575h9M264 720h9M168 650h9M189 697h9M262 720h9M204 671h9M374 598h9M172 677h9M148 700h9M269 712h9M280 716h9M429 559h9M679 558h9M727 591h9M177 641h9M357 684h9M331 590h9M349 698h9M213 716h9M599 525h9M173 680h9M235 707h9M321 705h9M269 710h9M187 714h9M286 719h9M647 671h9M196 695h9M439 690h9M251 601h9M557 527h9M200 623h9M712 604h9M333 692h9M209 635h9M237 715h9M505 692h9M305 712h9M469 569h9M665 665h9M703 637h9M303 705h9M195 646h9M281 700h9M589 529h9M402 606h9M248 602h9M468 544h9M681 653h9M404 688h9M654 550h9M599 526h9M264 701h9M196 707h9M285 717h9" stroke="#3b57ca" stroke-width="9" stroke-opacity="0.5" fill="none"/>
<path d="M190 637h9M652 674h9M551 525h9M654 661h9M185 634h9M267 601h9M163 637h9M186 683h9M719 621h9M217 716h9M481 554h9M687 650h9M262 690h9M188 659h9M206 644h9M419 690h9M711 611h9M419 600h9M404 584h9M320 705h9M717 554h9M396 592h9M699 659h9M224 707h9M204 686h9M389 683h9M253 688h9M704 634h9M704 643h9M692 651h9M196 695h9M234 623h9M284 601h9M369 685h9M195 656h9M169 649h9M462 565h9M166 651h9M702 597h9M676 644h9M629 533h9M433 576h9M224 628h9M581 521h9M644 534h9M705 646h9M310 704h9M705 604h9M455 686h9M430 572h9M702 579h9M179 665h9M220 697h9M215 633h9M453 690h9M643 675h9M288 606h9M424 690h9M171 649h9M228 688h9M540 691h9M431 583h9M553 539h9M464 567h9M694 653h9M682 555h9M426 674h9M202 702h9M371 684h9M514 543h9M475 564h9M709 587h9M409 606h9M209 657h9M301 695h9M492 555h9M691 556h9M653 651h9M283 606h9M488 553h9M337 609h9M373 680h9M480 689h9M705 575h9M174 679h9M656 555h9M514 537h9M256 674h9M508 673h9M683 581h9M543 531h9M622 536h9M704 579h9M451 579h9M678 564h9M275 611h9M506 684h9M477 569h9M262 618h9M208 694h9M305 607h9M323 684h9M707 604h9M328 596h9M515 537h9M646 560h9M691 558h9M316 606h9M471 681h9M294 620h9M245 623h9M227 691h9M218 703h9M374 608h9M694 589h9M423 675h9M406 676h9M715 583h9M270 616h9M274 687h9M254 697h9M386 679h9M683 553h9M675 574h9M189 659h9M181 670h9M197 690h9M682 558h9M699 569h9M386 615h9M192 665h9M497 569h9M477 684h9M616 539h9M528 685h9M570 682h9M266 615h9M253 632h9M241 615h9M608 531h9M203 683h9M252 689h9M249 630h9M570 540h9M277 678h9M414 581h9M273 677h9M388 612h9M299 617h9M220 683h9M225 682h9M431 678h9M701 594h9M692 578h9M431 598h9M202 664h9M710 620h9M639 550h9M691 560h9M301 618h9M198 681h9M337 686h9M208 660h9M416 672h9M366 603h9M310 615h9M438 583h9M633 541h9M699 554h9M685 644h9M702 578h9M291 621h9M258 617h9M236 683h9M211 661h9M208 645h9M682 602h9M258 694h9M382 627h9M271 617h9M383 616h9M223 691h9M212 641h9M437 671h9M259 619h9M686 623h9M696 575h9M201 666h9M503 530h9M330 605h9M222 674h9M681 567h9M227 637h9M221 647h9M239 637h9M423 583h9M228 664h9M237 674h9M253 613h9M334 682h9M593 535h9M304 682h9M487 564h9M226 684h9M523 541h9M399 611h9M468 587h9M331 644h9M529 536h9M299 693h9M379 669h9M285 640h9M348 683h9M290 683h9M321 592h9M507 682h9M689 579h9M268 608h9M691 583h9M304 692h9M463 577h9M564 534h9M280 684h9M204 660h9M558 555h9M598 538h9M467 688h9M263 611h9M262 622h9M253 687h9M695 639h9M369 679h9M232 663h9M250 675h9M258 677h9M693 557h9M311 690h9M690 635h9M549 684h9M378 603h9M364 608h9M681 601h9M379 672h9M429 661h9M403 676h9M231 661h9M674 579h9M608 546h9M359 602h9M435 672h9M506 548h9M690 637h9" stroke="#3a5ccd" stroke-width="9" stroke-opacity="0.6" fill="none"/>
<path d="M424 595h9M645 559h9M248 639h9M357 655h9M219 657h9M451 588h9M274 689h9M559 680h9M693 625h9M224 664h9M388 617h9M652 640h9M354 608h9M313 608h9M228 643h9M696 612h9M602 546h9M528 681h9M304 683h9M676 585h9M283 671h9M373 657h9M496 685h9M323 591h9M429 592h9M344 608h9M245 631h9M617 548h9M313 685h9M454 584h9M443 665h9M249 679h9M572 671h9M287 660h9M555 559h9M384 672h9M616 670h9M336 596h9M688 565h9M510 566h9M394 659h9M366 632h9M258 620h9M599 540h9M454 678h9M398 653h9M680 619h9M542 686h9M262 685h9M414 606h9M686 609h9M333 658h9M240 638h9M469 578h9M632 566h9M235 680h9M314 672h9M453 676h9M375 666h9M394 667h9M493 565h9M672 585h9M650 657h9M689 623h9M211 696h9M236 655h9M267 648h9M331 663h9M383 677h9M376 667h9M633 558h9M364 662h9M479 674h9M278 678h9M235 653h9M423 636h9M216 669h9M356 628h9M683 584h9M652 553h9M322 621h9M352 653h9M252 620h9M249 649h9M628 547h9M393 627h9M401 674h9M687 579h9M257 621h9M606 675h9M227 656h9M218 676h9M292 683h9M318 617h9M694 604h9M395 667h9M291 680h9M334 632h9M336 680h9M296 610h9M519 548h9M360 625h9M610 549h9M414 614h9M691 616h9M660 573h9M439 602h9M692 636h9M653 645h9M637 651h9M636 665h9M215 695h9M370 626h9M308 627h9M615 663h9M437 590h9M449 673h9M656 561h9M303 612h9M516 548h9M289 686h9M661 627h9M296 686h9M296 636h9M267 685h9M645 556h9M418 613h9M298 637h9M551 555h9M590 546h9M432 648h9M301 672h9M557 683h9M464 679h9M549 688h9M623 666h9M296 652h9M540 542h9M456 603h9M514 541h9M343 662h9M383 639h9M393 672h9M271 637h9M568 685h9M273 632h9M465 673h9M357 622h9M690 565h9M614 662h9M327 677h9M488 568h9M504 552h9M683 629h9M664 642h9M590 677h9M366 672h9M649 564h9M391 647h9M377 659h9M372 624h9M652 636h9M672 637h9M510 564h9M257 667h9M442 673h9M300 638h9M241 650h9M521 554h9M371 650h9M363 616h9M605 547h9M264 644h9M494 571h9M418 678h9M653 574h9M704 625h9M386 665h9M571 542h9M554 534h9M322 670h9M224 679h9M319 644h9M684 639h9M542 677h9M283 641h9M344 614h9M424 615h9M325 656h9M344 609h9M348 601h9M365 651h9M284 636h9M352 630h9M433 627h9M268 651h9M455 596h9M543 541h9M322 690h9M414 625h9M573 560h9M673 636h9M683 575h9M327 653h9M422 665h9M401 654h9M213 683h9M430 669h9M446 650h9M255 642h9M633 569h9M599 545h9M223 668h9M361 642h9M548 546h9M366 652h9M278 652h9M254 650h9M371 615h9M559 546h9M631 668h9M350 667h9M432 659h9M433 661h9M443 659h9M611 545h9M667 588h9M341 674h9M347 603h9M674 630h9M653 575h9M259 640h9M253 658h9M376 666h9M357 672h9M638 659h9M350 658h9M311 616h9M328 606h9M291 662h9M283 675h9M322 623h9M647 649h9M435 610h9M281 640h9M295 677h9M286 655h9M468 592h9M686 628h9M255 657h9M435 665h9M557 555h9M453 654h9M486 675h9M248 669h9M260 656h9M532 682h9M257 634h9M457 593h9M685 574h9M331 611h9M362 651h9M420 618h9M301 663h9M416 670h9M373 631h9M372 623h9M429 608h9M332 667h9M412 647h9M301 627h9M409 637h9M632 655h9M543 548h9M282 652h9M326 616h9M662 597h9M313 678h9M684 632h9M626 549h9M377 633h9M452 631h9M418 637h9M341 654h9M395 660h9M472 593h9M653 579h9M536 548h9M249 651h9M377 624h9M410 652h9M676 605h9M414 626h9M516 673h9M481 576h9M443 593h9M226 658h9M307 679h9M380 645h9M363 670h9M360 661h9M644 559h9M279 669h9M530 679h9M504 544h9M346 661h9M360 621h9M246 668h9M598 558h9M424 612h9M491 578h9M428 604h9M303 625h9M633 563h9M517 563h9M608 665h9M526 547h9M512 558h9M552 672h9M523 548h9M648 570h9M292 666h9M624 664h9M407 630h9M498 569h9M436 646h9M334 662h9M413 664h9M454 662h9M447 607h9M450 675h9M328 607h9M279 677h9M465 655h9M463 675h9M438 618h9M528 579h9M240 655h9M256 665h9M341 636h9M263 644h9M394 657h9M400 643h9" stroke="#3861d0" stroke-width="9" stroke-opacity="0.75" fill="none"/>
<path d="M469 583h9M571 553h9M474 586h9M305 645h9M463 661h9M555 549h9M359 627h9M359 636h9M299 658h9M586 568h9M540 551h9M350 644h9M321 648h9M606 550h9M256 659h9M298 645h9M377 639h9M258 649h9M452 599h9M588 559h9M327 637h9M334 666h9M386 659h9M518 565h9M253 665h9M589 555h9M316 636h9M405 623h9M602 672h9M330 654h9M592 673h9M331 659h9M492 577h9M599 556h9M587 553h9M681 627h9M445 653h9M553 561h9M337 666h9M596 558h9M307 653h9M469 645h9M309 663h9M308 666h9M415 644h9M494 551h9M279 644h9M633 644h9M269 649h9M526 564h9M569 677h9M627 555h9M374 632h9M532 678h9M470 606h9M577 677h9M380 635h9M392 649h9M349 667h9M514 590h9M674 616h9M399 627h9M534 566h9M402 635h9M508 578h9M500 598h9M321 658h9M246 667h9M276 658h9M435 626h9M406 633h9M605 670h9M581 662h9M480 675h9M637 653h9M412 632h9M597 650h9M510 666h9M391 642h9M443 650h9M380 638h9M643 583h9M471 597h9M314 635h9M474 597h9M420 613h9M678 626h9M685 610h9M350 616h9M658 589h9M353 638h9M297 635h9M427 665h9M564 545h9M346 628h9M558 555h9M307 640h9M427 651h9M415 644h9M452 594h9M456 615h9M629 562h9M607 654h9M651 562h9M325 625h9M617 567h9M615 552h9M380 643h9M285 656h9M375 631h9M378 621h9M643 565h9M295 647h9M403 626h9M407 635h9M486 583h9M661 605h9M213 658h9M317 622h9M405 648h9M629 556h9M609 554h9M631 641h9M435 636h9M621 652h9M419 656h9M428 617h9M255 641h9M307 632h9M448 635h9M438 607h9M626 589h9M536 555h9M426 649h9M302 659h9M659 636h9M581 541h9M620 553h9M330 618h9M265 654h9M262 649h9M295 657h9M659 572h9M501 586h9M241 658h9M408 670h9M324 614h9M570 551h9M515 556h9M637 564h9M647 622h9M436 654h9M437 620h9M618 662h9M661 615h9M497 658h9M444 640h9M656 598h9M412 658h9M611 663h9M310 653h9M294 675h9M573 558h9M574 671h9M481 669h9M242 652h9M437 643h9M538 559h9M454 663h9M314 641h9M452 599h9M590 562h9M405 624h9M667 597h9M471 659h9M609 576h9M307 631h9M515 586h9M501 580h9M448 663h9M547 560h9M302 672h9M542 680h9M619 567h9M446 631h9M519 574h9M604 562h9M499 585h9M604 673h9M321 621h9M648 567h9M585 562h9M358 630h9M634 583h9M427 662h9M336 668h9M271 660h9M453 624h9M593 566h9M494 668h9M474 667h9M437 609h9M444 657h9M558 664h9M639 555h9M337 667h9M476 662h9M345 651h9M633 590h9M640 554h9M308 652h9M379 631h9M336 615h9M668 634h9M346 631h9M554 673h9M567 668h9M678 607h9M324 616h9M344 665h9M410 620h9M676 629h9M532 560h9M672 625h9M633 553h9M609 559h9M628 657h9M292 652h9M556 543h9M461 614h9M594 572h9M341 655h9M406 655h9M443 629h9M415 629h9M346 629h9M529 574h9M615 660h9M436 651h9M371 654h9M445 613h9M586 553h9M419 662h9M427 621h9M494 587h9M449 601h9M272 656h9M295 656h9M507 671h9M580 566h9M445 655h9M683 612h9M466 615h9M574 676h9M491 669h9M656 608h9M415 664h9M494 574h9M610 591h9M443 617h9M343 641h9M402 638h9M581 578h9M543 674h9M486 588h9M419 613h9M543 573h9M599 558h9M330 629h9M508 563h9M534 561h9M312 664h9M483 670h9M621 557h9M302 655h9M558 551h9M415 633h9M244 659h9M674 602h9M403 622h9M622 562h9M474 678h9M683 620h9M507 580h9M314 619h9M346 631h9M641 578h9M244 631h9M303 667h9M581 555h9M457 646h9M432 669h9M665 613h9M480 671h9M363 631h9M273 652h9M312 664h9M302 655h9M319 638h9M607 543h9M331 647h9M255 654h9M466 664h9M353 637h9M643 592h9M537 674h9M633 625h9M321 631h9M509 662h9M551 553h9M547 569h9M467 613h9M429 647h9M528 559h9M330 626h9M550 565h9M522 587h9M507 660h9M456 626h9M471 648h9M679 611h9M584 567h9M571 560h9M360 638h9M461 662h9M463 648h9M491 661h9M566 671h9M344 667h9M664 639h9M485 588h9M601 576h9M588 666h9M348 656h9M611 562h9M417 643h9M347 623h9M332 631h9M315 635h9M301 634h9M445 638h9M453 600h9M482 588h9M425 615h9M480 594h9M665 612h9M488 609h9M666 586h9" stroke="#396ed3" stroke-width="9" fill="none"/>
<path d="M303 633h9M609 569h9M584 572h9M405 631h9M320 625h9M480 659h9M325 657h9M582 667h9M573 676h9M557 562h9M413 641h9M345 669h9M348 616h9M553 576h9M597 565h9M512 667h9M595 589h9M523 554h9M587 668h9M505 591h9M424 622h9M270 648h9M675 631h9M622 584h9M534 673h9M430 641h9M487 585h9M638 593h9M424 637h9M654 623h9M487 662h9M611 558h9M639 646h9M507 670h9M478 667h9M464 619h9M602 655h9M628 568h9M536 677h9M632 576h9M583 663h9M599 589h9M623 634h9M624 570h9M486 656h9M433 635h9M549 665h9M606 579h9M441 659h9M440 653h9M338 638h9M469 615h9M503 662h9M605 640h9M508 655h9M459 639h9M633 593h9M575 572h9M649 622h9M455 634h9M654 600h9M482 665h9M625 587h9M548 668h9M651 596h9M629 645h9M562 584h9M657 576h9M435 634h9M473 663h9M273 642h9M597 595h9M489 616h9M653 592h9M377 642h9M358 635h9M649 594h9M561 560h9M448 614h9M575 579h9M329 630h9M501 659h9M633 609h9M579 576h9M323 647h9M646 590h9M601 580h9M330 644h9M514 583h9M466 658h9M302 664h9M634 585h9M431 629h9M459 613h9M513 663h9M458 639h9M575 574h9M497 608h9M567 561h9M539 564h9M446 626h9M657 603h9M480 616h9M557 566h9M532 562h9M487 668h9M449 640h9M642 586h9M474 617h9M630 600h9M447 611h9M465 622h9M605 578h9M310 654h9M548 587h9M544 661h9M613 653h9M655 627h9M516 587h9M490 668h9M298 653h9M314 648h9M527 664h9M641 623h9M477 665h9M475 660h9M356 639h9M514 570h9M492 604h9M620 655h9M573 570h9M434 627h9M452 645h9M635 633h9M368 631h9M557 563h9M510 575h9M607 577h9M636 635h9M593 654h9M604 654h9M441 627h9M540 678h9M451 635h9M570 562h9M449 637h9M652 602h9M498 656h9M638 584h9M399 650h9M488 607h9M572 580h9M652 624h9M359 636h9M598 642h9M622 645h9M520 576h9M636 561h9M553 666h9M545 579h9M423 645h9M645 634h9M608 661h9M535 561h9M624 585h9M336 628h9M619 573h9M610 590h9M525 676h9M291 659h9M477 602h9M607 564h9M547 561h9M602 652h9M440 603h9M646 600h9M244 657h9M613 574h9M407 632h9M319 645h9M669 582h9M458 602h9M414 632h9M548 678h9M668 602h9M514 561h9M635 596h9M645 622h9M521 550h9M535 658h9M511 564h9M587 665h9M485 592h9M469 603h9M481 661h9M595 575h9M619 648h9M630 649h9M652 601h9M467 633h9M676 616h9M515 595h9M643 599h9M600 582h9M487 596h9M588 589h9M585 599h9M577 655h9M563 568h9M468 609h9M486 651h9M658 615h9M487 634h9M668 611h9M475 633h9M531 663h9M548 580h9M524 662h9M484 668h9M534 580h9M333 639h9M531 541h9M348 626h9M615 578h9M496 607h9M592 628h9M604 609h9M474 614h9M491 653h9M622 581h9M565 567h9M572 587h9M480 603h9M509 582h9M662 620h9M612 561h9M471 659h9M464 662h9M461 628h9M497 632h9M554 655h9M528 664h9M560 664h9M465 619h9M593 586h9M632 632h9M612 640h9M573 560h9M623 644h9M637 646h9M330 624h9M577 566h9M488 649h9M599 645h9M648 610h9M615 578h9M648 592h9M459 658h9M515 554h9M431 643h9M434 628h9M621 635h9M578 658h9M641 623h9M564 635h9" stroke="#3d87d5" stroke-width="9" fill="none"/>
<path d="M560 560h12M586 655h12M641 626h12M507 662h12M602 650h12M579 581h12M572 586h12M502 570h12M642 648h12M625 603h12M660 598h12M539 654h12M658 585h12M664 618h12M554 581h12M482 636h12M622 587h12M628 636h12M544 669h12M640 574h12M565 579h12M612 591h12M604 583h12M631 634h12M566 595h12M587 662h12M497 617h12M454 646h12M614 643h12M529 585h12M504 598h12M474 660h12M484 656h12M625 609h12M617 571h12M450 631h12M608 627h12M488 642h12M557 573h12M466 639h12M526 576h12M469 650h12M330 634h12M526 581h12M517 659h12M573 584h12M549 593h12M476 627h12M641 599h12M594 598h12M576 658h12M579 655h12M573 653h12M657 621h12M460 630h12M566 668h12M467 647h12M499 636h12M561 553h12M504 658h12M623 620h12M623 579h12M614 591h12M643 608h12M649 606h12M608 597h12M647 615h12M658 593h12M567 655h12M568 662h12M468 613h12M413 635h12M656 600h12M633 586h12M534 594h12M570 656h12M571 571h12M550 642h12M661 625h12M514 571h12M482 647h12M548 572h12M551 575h12M455 615h12M628 637h12M608 593h12M654 616h12M632 629h12M578 644h12M586 591h12M526 655h12M570 576h12M619 646h12M609 630h12M625 582h12M404 629h12M495 601h12M559 596h12M478 652h12M427 625h12M522 600h12M542 664h12M607 587h12M517 596h12M474 621h12M473 649h12M475 614h12M594 602h12M493 604h12M517 607h12M634 624h12M627 591h12M506 601h12M600 656h12M633 600h12M582 663h12M538 646h12M534 568h12M480 611h12M653 598h12M528 664h12M501 588h12M501 620h12M454 641h12M484 633h12M600 658h12M535 561h12M572 578h12M477 618h12M578 609h12M585 665h12M620 628h12M599 580h12M628 598h12M541 599h12M640 612h12M645 614h12M661 607h12M505 643h12M642 606h12M493 623h12M566 589h12M591 595h12M633 612h12M626 648h12M521 575h12M620 591h12M536 634h12M636 624h12M543 579h12M595 593h12M620 595h12M600 662h12M623 580h12M530 588h12M541 564h12M467 616h12M538 635h12M633 591h12M584 660h12M642 603h12M538 577h12M495 654h12M462 638h12M602 635h12M554 582h12M547 580h12M633 612h12M596 639h12M615 625h12M474 623h12M617 619h12M494 596h12M634 596h12M456 620h12M610 610h12M655 596h12M591 652h12M540 658h12M461 623h12M450 639h12M484 634h12M536 666h12M513 616h12M489 653h12M536 661h12M574 660h12M534 589h12M584 584h12M519 633h12M475 635h12M613 608h12M485 629h12M496 617h12M611 600h12M603 653h12M561 609h12M511 601h12M474 636h12M620 608h12M524 605h12M568 590h12M606 609h12M617 594h12M545 600h12M564 659h12M482 602h12M577 653h12M591 645h12M483 626h12M534 666h12M614 587h12M592 640h12M582 634h12M519 592h12M527 667h12M566 584h12M569 651h12M632 637h12M605 649h12M507 624h12M631 619h12M487 598h12M610 622h12M528 655h12M608 576h12M635 594h12M617 606h12M625 636h12M509 605h12M453 637h12M531 659h12M472 604h12M506 652h12M615 636h12" stroke="#429fd2" stroke-width="12" fill="none"/>
<path d="M532 656h12M560 659h12M583 619h12M542 588h12M590 644h12M566 650h12M499 607h12M484 646h12M560 583h12M576 585h12M571 594h12M562 666h12M596 600h12M581 607h12M608 655h12M482 618h12M550 568h12M623 617h12M499 631h12M614 603h12M527 623h12M510 600h12M523 593h12M561 585h12M544 592h12M528 605h12M607 581h12M527 656h12M644 589h12M470 610h12M545 590h12M599 573h12M473 640h12M628 601h12M549 612h12M508 658h12M464 632h12M456 636h12M640 642h12M598 647h12M525 649h12M553 611h12M486 656h12M630 596h12M482 638h12M578 591h12M584 611h12M585 646h12M546 652h12M627 620h12M552 659h12M670 618h12M528 658h12M647 596h12M613 598h12M549 582h12M501 602h12M615 613h12M339 639h12M473 632h12M613 605h12M611 624h12M642 604h12M497 603h12M568 664h12M635 631h12M607 630h12M464 646h12M609 587h12M609 638h12M591 616h12M587 598h12M609 595h12M508 612h12M624 606h12M557 594h12M532 648h12M505 648h12M516 649h12M541 657h12M637 605h12M514 607h12M537 598h12M485 611h12M551 649h12M510 629h12M584 581h12M639 612h12M601 602h12M618 610h12M540 644h12M464 616h12M507 652h12M642 595h12M569 649h12M484 615h12M508 647h12M482 622h12M552 598h12M589 597h12M482 638h12M504 598h12M544 628h12M531 617h12M485 648h12M498 610h12M599 647h12M626 616h12M582 637h12M583 608h12M601 619h12M566 593h12M568 663h12M641 623h12M575 652h12M518 633h12M616 615h12M635 628h12M561 589h12M638 621h12M485 638h12M468 627h12M632 629h12M633 607h12M569 596h12M599 635h12M524 610h12M607 641h12M629 620h12M658 605h12M621 627h12M512 607h12M570 625h12M588 575h12M641 599h12M595 578h12M612 589h12M524 614h12M472 648h12M624 622h12M533 610h12M547 584h12M533 646h12M520 632h12M627 629h12M519 618h12M577 599h12M593 586h12M603 588h12M609 612h12M501 647h12M586 641h12M488 627h12M486 641h12M517 611h12M516 603h12M602 642h12M530 619h12M486 610h12M536 656h12M549 669h12M616 618h12M464 623h12M527 615h12M548 605h12M489 648h12M545 609h12M542 594h12M587 596h12M612 579h12M545 591h12M579 640h12M564 653h12M554 599h12M514 629h12M595 642h12M608 605h12M538 636h12M501 616h12M549 601h12M602 592h12M575 613h12M639 621h12M515 591h12M516 619h12M477 635h12M481 631h12M637 607h12M620 631h12M514 594h12M514 644h12M532 643h12M568 641h12M649 614h12M624 616h12M555 595h12M544 661h12M532 609h12M540 668h12M486 623h12M618 615h12M520 634h12M586 650h12M568 593h12M485 625h12M604 635h12M562 588h12M507 650h12M578 589h12M491 653h12M594 644h12M479 634h12M509 600h12M482 628h12M555 653h12M594 622h12M574 657h12M492 629h12M534 588h12M536 604h12M507 636h12M529 638h12M523 653h12M527 593h12M498 627h12M549 589h12M585 596h12M482 613h12M471 637h12M585 644h12M512 651h12M637 607h12M600 603h12M506 655h12M535 593h12M607 626h12M579 593h12M625 613h12M598 645h12M501 606h12M630 630h12M495 628h12M556 601h12M494 631h12M619 630h12M507 625h12M521 652h12M505 649h12M550 610h12M493 637h12M555 652h12M576 645h12" stroke="#48b4b7" stroke-width="12" fill="none"/>
<path d="M509 650h12M625 631h12M592 612h12M558 631h12M537 675h12M578 612h12M573 584h12M507 633h12M617 633h12M515 633h12M532 625h12M533 636h12M534 584h12M597 604h12M530 616h12M646 604h12M493 624h12M603 625h12M617 660h12M533 586h12M526 591h12M537 597h12M578 619h12M540 623h12M607 638h12M604 604h12M575 650h12M615 625h12M505 606h12M614 650h12M556 583h12M533 602h12M573 596h12M562 612h12M633 616h12M476 647h12M569 573h12M544 647h12M528 658h12M535 656h12M570 584h12M573 619h12M567 603h12M557 639h12M547 583h12M572 645h12M553 580h12M583 603h12M623 629h12M471 639h12M625 605h12M516 632h12M588 608h12M597 601h12M601 643h12M516 607h12M631 613h12M550 657h12M549 643h12M516 644h12M474 627h12M477 622h12M530 633h12M528 605h12M570 657h12M601 610h12M621 622h12M619 616h12M496 613h12M589 637h12M552 638h12M509 596h12M490 640h12M539 598h12M603 604h12M554 601h12M602 621h12M560 631h12M560 590h12M538 606h12M595 598h12M632 631h12M543 638h12M530 646h12M507 621h12M491 619h12M598 639h12M542 573h12M512 617h12M550 633h12M624 623h12M482 612h12M528 631h12M522 592h12M541 639h12M547 628h12M654 594h12M548 648h12M506 617h12M490 638h12M499 624h12M574 609h12M550 614h12M604 608h12M549 611h12M483 614h12M588 607h12M503 605h12M585 615h12M512 622h12M555 644h12M616 600h12M545 588h12M610 631h12M561 620h12M512 642h12M571 605h12M552 596h12M505 613h12M567 626h12M589 641h12M513 640h12M538 610h12M539 634h12M580 598h12M631 624h12M487 605h12M537 609h12M483 629h12M570 605h12M461 624h12M608 638h12M567 573h12M609 625h12M578 623h12M574 641h12M564 598h12M576 597h12M510 602h12M508 634h12M562 620h12M619 628h12M578 632h12M501 612h12M590 609h12M589 626h12M620 633h12M594 604h12M548 595h12M621 626h12M606 612h12M553 583h12M612 635h12M534 637h12M620 611h12M562 594h12M558 642h12M610 620h12M584 656h12M521 602h12M503 634h12M499 641h12M540 594h12M534 635h12M582 590h12M530 593h12M514 633h12M562 602h12M510 639h12M551 623h12M500 626h12M576 640h12M564 601h12M499 627h12M497 622h12M501 618h12M532 649h12M566 611h12M589 604h12M568 616h12M535 634h12M506 645h12M537 619h12M559 653h12M551 619h12M536 606h12M554 625h12M515 623h12M568 654h12M546 635h12M505 623h12M568 623h12M533 647h12M504 613h12M500 648h12M585 623h12M526 655h12M553 604h12M602 655h12M524 645h12M561 655h12M527 633h12M569 644h12M545 633h12M634 627h12M599 605h12M545 643h12M492 616h12M524 607h12M542 599h12M581 622h12M535 604h12M561 642h12M552 625h12M610 613h12M525 632h12M506 610h12M613 621h12M560 609h12" stroke="#51c18f" stroke-width="12" fill="none"/>
<path d="M567 650h12M617 639h12M596 632h12M592 602h12M512 600h12M639 618h12M605 585h12M490 616h12M535 644h12M610 617h12M560 656h12M642 605h12M586 624h12M512 641h12M588 626h12M556 581h12M594 618h12M520 639h12M616 633h12M520 622h12M526 601h12M529 640h12M530 610h12M551 604h12M523 649h12M590 650h12M608 625h12M615 627h12M630 622h12M550 644h12M508 628h12M517 605h12M533 641h12M510 629h12M570 623h12M542 618h12M583 607h12M537 659h12M528 621h12M611 607h12M518 652h12M578 640h12M545 611h12M558 583h12M554 623h12M557 616h12M563 626h12M530 639h12M520 633h12M573 596h12M499 612h12M549 644h12M571 647h12M588 624h12M523 638h12M525 615h12M561 625h12M615 623h12M625 612h12M564 603h12M587 608h12M508 642h12M518 628h12M579 615h12M546 640h12M582 637h12M566 615h12M574 624h12M516 641h12M509 627h12M516 619h12M500 635h12M605 633h12M557 641h12M576 630h12M516 650h12M558 622h12M512 645h12M525 637h12M582 627h12M539 648h12M563 645h12M587 630h12M535 609h12M531 615h12M546 617h12M549 634h12M505 624h12M521 618h12M566 649h12M542 633h12M580 640h12M579 631h12M519 620h12M525 644h12M520 632h12M560 641h12M591 622h12M556 635h12M501 656h12M576 620h12M555 606h12M561 613h12M569 647h12M500 612h12M525 633h12M573 636h12M549 635h12M593 622h12M586 630h12M499 626h12M506 630h12M577 621h12M530 611h12M557 627h12M587 616h12M574 602h12M534 611h12M582 603h12M525 628h12M526 630h12M592 636h12M566 630h12M566 627h12M538 643h12M522 609h12M587 657h12M615 616h12M577 593h12M648 618h12M512 626h12M529 639h12M550 641h12M544 606h12M580 631h12M475 610h12M566 620h12M580 619h12M545 624h12M520 642h12" stroke="#5dc75a" stroke-width="12" fill="none"/>
<path d="M528 628h12M568 622h12M601 608h12M620 619h12M581 636h12M532 603h12M552 604h12M531 635h12M527 625h12M552 629h12M593 612h12M599 636h12M563 641h12M560 621h12M560 615h12M600 636h12M607 633h12M561 644h12M494 647h12M528 628h12M523 631h12M538 607h12M512 639h12M565 638h12M580 623h12M591 633h12M564 638h12M569 644h12M583 626h12M502 636h12M587 611h12M586 634h12M551 624h12M571 614h12M536 630h12M526 649h12M572 623h12M562 612h12M528 622h12M565 632h12M574 627h12M582 625h12M549 610h12M540 632h12M580 650h12M569 607h12M513 644h12M603 600h12M564 615h12M528 638h12M517 640h12M570 633h12M545 642h12M572 622h12M533 610h12M551 608h12M577 633h12M526 648h12M583 611h12M616 617h12M550 609h12M551 635h12M526 607h12M539 615h12M512 632h12M567 625h12M501 641h12M561 625h12M558 606h12M592 625h12M576 629h12M519 641h12M587 637h12M585 626h12M524 636h12M540 659h12M618 628h12M544 612h12M567 625h12M559 619h12M539 630h12M565 618h12M568 606h12M575 618h12M546 619h12M544 609h12M569 624h12M598 633h12M536 620h12M573 637h12M567 621h12M521 623h12" stroke="#87ce41" stroke-width="12" fill="none"/>
<path d="M565 623h12M528 614h12M560 611h12M592 632h12M514 639h12M554 602h12M536 617h12M524 611h12M523 644h12M587 629h12M514 647h12M567 617h12M570 646h12M560 617h12M553 606h12M558 618h12M542 634h12M508 629h12M557 634h12M529 643h12M542 650h12M563 617h12M556 630h12M573 623h12M557 622h12M572 610h12M569 609h12M553 622h12M558 621h12M558 611h12M569 621h12M510 626h12M524 632h12M600 623h12M525 619h12M528 631h12M538 636h12M572 635h12M520 637h12" stroke="#b7d630" stroke-width="12" fill="none"/>
<path d="M570 598h12M560 627h12M522 627h12M546 601h12M607 623h12M561 632h12M572 626h12M570 616h12M547 624h12M505 633h12M555 625h12M566 616h12M581 636h12M547 603h12M582 623h12M525 627h12M521 634h12M571 634h12" stroke="#dac028" stroke-width="12" fill="none"/>
<path d="M586 633h12M557 613h12M571 615h12M573 638h12M526 622h12M565 637h12" stroke="#f49d22" stroke-width="12" fill="none"/>
<path d="M552 625h12M560 620h12M578 629h12M556 637h12M570 624h12M560 618h12M562 603h12M566 634h12M568 615h12M566 621h12M564 616h12M569 611h12M514 642h12M532 620h12M519 638h12M579 619h12" stroke="#ee551d" stroke-width="12" fill="none"/>
</g>
<rect x="43.7" y="426.7" width="90.2" height="89.7" stroke="#8f8f8f" stroke-width="0.9" fill="none"/>
<line x1="81.3" y1="426.7" x2="81.3" y2="516.4" stroke="#2e2e2e" stroke-width="1"/>
<line x1="43.7" y1="479.8" x2="133.9" y2="479.8" stroke="#9a9a9a" stroke-width="1.6"/>
<text x="0" y="0" font-size="9.3" transform="translate(52.8,443.9) scale(1.04,1)" fill="#111">0.18</text>
<text x="0" y="0" font-size="9.3" text-anchor="end" transform="translate(123.2,443.9) scale(1.04,1)" fill="#111">2.01</text>
<text x="0" y="0" font-size="9.3" transform="translate(53.3,507.8) scale(1.04,1)" fill="#111">6.85</text>
<text x="0" y="0" font-size="9.3" text-anchor="end" transform="translate(123.8,507.8) scale(1.04,1)" fill="#111">91.0</text>
<line x1="41.3" y1="434.9" x2="43.7" y2="434.9" stroke="#444" stroke-width="0.8"/>
<text x="39.9" y="436.3" font-size="4" text-anchor="end" fill="#333">10<tspan font-size="2.7" dy="-1.6">5</tspan></text>
<line x1="41.3" y1="455.9" x2="43.7" y2="455.9" stroke="#444" stroke-width="0.8"/>
<text x="39.9" y="457.3" font-size="4" text-anchor="end" fill="#333">10<tspan font-size="2.7" dy="-1.6">4</tspan></text>
<line x1="41.3" y1="480.4" x2="43.7" y2="480.4" stroke="#444" stroke-width="0.8"/>
<text x="39.9" y="481.8" font-size="4" text-anchor="end" fill="#333">10<tspan font-size="2.7" dy="-1.6">3</tspan></text>
<line x1="41.3" y1="496.2" x2="43.7" y2="496.2" stroke="#444" stroke-width="0.8"/>
<text x="39.9" y="497.6" font-size="4" text-anchor="end" fill="#333">0</text>
<line x1="41.3" y1="512" x2="43.7" y2="512" stroke="#444" stroke-width="0.8"/>
<text x="39.9" y="513.4" font-size="4" text-anchor="end" fill="#333">-10<tspan font-size="2.7" dy="-1.6">3</tspan></text>
<line x1="42.4" y1="430.7" x2="43.7" y2="430.7" stroke="#777" stroke-width="0.5"/>
<line x1="42.4" y1="434" x2="43.7" y2="434" stroke="#777" stroke-width="0.5"/>
<line x1="42.4" y1="437.3" x2="43.7" y2="437.3" stroke="#777" stroke-width="0.5"/>
<line x1="42.4" y1="440.6" x2="43.7" y2="440.6" stroke="#777" stroke-width="0.5"/>
<line x1="42.4" y1="443.9" x2="43.7" y2="443.9" stroke="#777" stroke-width="0.5"/>
<line x1="42.4" y1="447.2" x2="43.7" y2="447.2" stroke="#777" stroke-width="0.5"/>
<line x1="42.4" y1="450.5" x2="43.7" y2="450.5" stroke="#777" stroke-width="0.5"/>
<line x1="42.4" y1="453.8" x2="43.7" y2="453.8" stroke="#777" stroke-width="0.5"/>
<line x1="42.4" y1="457.1" x2="43.7" y2="457.1" stroke="#777" stroke-width="0.5"/>
<line x1="42.4" y1="460.4" x2="43.7" y2="460.4" stroke="#777" stroke-width="0.5"/>
<line x1="42.4" y1="463.7" x2="43.7" y2="463.7" stroke="#777" stroke-width="0.5"/>
<line x1="42.4" y1="467" x2="43.7" y2="467" stroke="#777" stroke-width="0.5"/>
<line x1="42.4" y1="470.3" x2="43.7" y2="470.3" stroke="#777" stroke-width="0.5"/>
<line x1="42.4" y1="473.6" x2="43.7" y2="473.6" stroke="#777" stroke-width="0.5"/>
<line x1="42.4" y1="476.9" x2="43.7" y2="476.9" stroke="#777" stroke-width="0.5"/>
<line x1="42.4" y1="480.2" x2="43.7" y2="480.2" stroke="#777" stroke-width="0.5"/>
<line x1="42.4" y1="483.5" x2="43.7" y2="483.5" stroke="#777" stroke-width="0.5"/>
<line x1="42.4" y1="486.8" x2="43.7" y2="486.8" stroke="#777" stroke-width="0.5"/>
<line x1="42.4" y1="490.1" x2="43.7" y2="490.1" stroke="#777" stroke-width="0.5"/>
<line x1="42.4" y1="493.4" x2="43.7" y2="493.4" stroke="#777" stroke-width="0.5"/>
<line x1="42.4" y1="496.7" x2="43.7" y2="496.7" stroke="#777" stroke-width="0.5"/>
<line x1="42.4" y1="500" x2="43.7" y2="500" stroke="#777" stroke-width="0.5"/>
<line x1="42.4" y1="503.3" x2="43.7" y2="503.3" stroke="#777" stroke-width="0.5"/>
<line x1="42.4" y1="506.6" x2="43.7" y2="506.6" stroke="#777" stroke-width="0.5"/>
<line x1="42.4" y1="509.9" x2="43.7" y2="509.9" stroke="#777" stroke-width="0.5"/>
<line x1="42.4" y1="513.2" x2="43.7" y2="513.2" stroke="#777" stroke-width="0.5"/>
<rect x="41.7" y="494.4" width="1.8" height="3.4" fill="#222"/>
<line x1="48.3" y1="516.4" x2="48.3" y2="518.6" stroke="#444" stroke-width="0.8"/>
<text x="48.3" y="526.4" font-size="4" text-anchor="middle" fill="#333">-10<tspan font-size="2.7" dy="-1.6">3</tspan></text>
<line x1="64.1" y1="516.4" x2="64.1" y2="518.6" stroke="#444" stroke-width="0.8"/>
<text x="64.1" y="526.4" font-size="4" text-anchor="middle" fill="#333">0</text>
<line x1="80.7" y1="516.4" x2="80.7" y2="518.6" stroke="#444" stroke-width="0.8"/>
<text x="80.7" y="526.4" font-size="4" text-anchor="middle" fill="#333">10<tspan font-size="2.7" dy="-1.6">3</tspan></text>
<line x1="104.7" y1="516.4" x2="104.7" y2="518.6" stroke="#444" stroke-width="0.8"/>
<text x="104.7" y="526.4" font-size="4" text-anchor="middle" fill="#333">10<tspan font-size="2.7" dy="-1.6">4</tspan></text>
<line x1="125.4" y1="516.4" x2="125.4" y2="518.6" stroke="#444" stroke-width="0.8"/>
<text x="125.4" y="526.4" font-size="4" text-anchor="middle" fill="#333">10<tspan font-size="2.7" dy="-1.6">5</tspan></text>
<line x1="46.7" y1="516.4" x2="46.7" y2="517.8" stroke="#777" stroke-width="0.5"/>
<line x1="49.8" y1="516.4" x2="49.8" y2="517.8" stroke="#777" stroke-width="0.5"/>
<line x1="52.9" y1="516.4" x2="52.9" y2="517.8" stroke="#777" stroke-width="0.5"/>
<line x1="56" y1="516.4" x2="56" y2="517.8" stroke="#777" stroke-width="0.5"/>
<line x1="59.1" y1="516.4" x2="59.1" y2="517.8" stroke="#777" stroke-width="0.5"/>
<line x1="62.2" y1="516.4" x2="62.2" y2="517.8" stroke="#777" stroke-width="0.5"/>
<line x1="65.3" y1="516.4" x2="65.3" y2="517.8" stroke="#777" stroke-width="0.5"/>
<line x1="68.4" y1="516.4" x2="68.4" y2="517.8" stroke="#777" stroke-width="0.5"/>
<line x1="71.5" y1="516.4" x2="71.5" y2="517.8" stroke="#777" stroke-width="0.5"/>
<line x1="74.6" y1="516.4" x2="74.6" y2="517.8" stroke="#777" stroke-width="0.5"/>
<line x1="77.7" y1="516.4" x2="77.7" y2="517.8" stroke="#777" stroke-width="0.5"/>
<line x1="80.8" y1="516.4" x2="80.8" y2="517.8" stroke="#777" stroke-width="0.5"/>
<line x1="83.9" y1="516.4" x2="83.9" y2="517.8" stroke="#777" stroke-width="0.5"/>
<line x1="87" y1="516.4" x2="87" y2="517.8" stroke="#777" stroke-width="0.5"/>
<line x1="90.1" y1="516.4" x2="90.1" y2="517.8" stroke="#777" stroke-width="0.5"/>
<line x1="93.2" y1="516.4" x2="93.2" y2="517.8" stroke="#777" stroke-width="0.5"/>
<line x1="96.3" y1="516.4" x2="96.3" y2="517.8" stroke="#777" stroke-width="0.5"/>
<line x1="99.4" y1="516.4" x2="99.4" y2="517.8" stroke="#777" stroke-width="0.5"/>
<line x1="102.5" y1="516.4" x2="102.5" y2="517.8" stroke="#777" stroke-width="0.5"/>
<line x1="105.6" y1="516.4" x2="105.6" y2="517.8" stroke="#777" stroke-width="0.5"/>
<line x1="108.7" y1="516.4" x2="108.7" y2="517.8" stroke="#777" stroke-width="0.5"/>
<line x1="111.8" y1="516.4" x2="111.8" y2="517.8" stroke="#777" stroke-width="0.5"/>
<line x1="114.9" y1="516.4" x2="114.9" y2="517.8" stroke="#777" stroke-width="0.5"/>
<line x1="118" y1="516.4" x2="118" y2="517.8" stroke="#777" stroke-width="0.5"/>
<line x1="121.1" y1="516.4" x2="121.1" y2="517.8" stroke="#777" stroke-width="0.5"/>
<line x1="124.2" y1="516.4" x2="124.2" y2="517.8" stroke="#777" stroke-width="0.5"/>
<line x1="127.3" y1="516.4" x2="127.3" y2="517.8" stroke="#777" stroke-width="0.5"/>
<line x1="130.4" y1="516.4" x2="130.4" y2="517.8" stroke="#777" stroke-width="0.5"/>
<rect x="61.7" y="516.4" width="4.6" height="2.0" fill="#222"/>
<g transform="translate(146.1 426.7) scale(.1)">
<path d="M85 328h9M640 387h9M301 587h9M660 402h9M87 492h9M129 460h9M550 511h9M92 464h9M336 298h9M467 516h9M270 279h9M159 332h9M226 311h9M35 415h9M172 323h9M651 309h9M236 670h9M643 360h9M158 382h9M189 517h9M299 665h9M157 621h9M267 583h9M634 320h9M176 621h9M230 653h9M421 523h9M282 659h9M310 303h9M618 329h9M219 654h9M262 327h9M461 282h9M161 428h9M180 642h9M160 391h9M287 654h9M283 316h9M270 605h9M380 284h9M197 517h9M585 327h9M237 580h9M194 355h9M216 576h9M344 307h9M267 620h9M201 558h9M563 309h9M447 518h9M647 336h9M503 486h9M261 630h9M564 325h9M569 318h9M612 326h9M193 628h9M572 401h9M447 284h9M202 638h9M203 483h9M482 295h9M184 436h9M306 316h9M651 311h9M185 578h9M534 289h9M620 369h9M522 469h9M659 331h9M236 628h9M516 471h9M577 423h9M447 504h9M188 408h9M237 605h9M609 340h9M396 297h9M195 487h9M592 378h9M551 434h9M194 480h9M266 339h9M190 623h9M196 578h9M496 482h9M176 437h9M589 314h9M481 490h9M489 475h9M581 369h9M623 350h9M212 589h9M192 569h9M619 360h9M565 418h9M218 628h9M579 390h9M261 341h9M508 288h9M228 647h9M595 393h9M249 608h9M611 354h9M234 516h9M382 309h9M537 320h9M205 607h9M403 282h9M419 309h9M517 298h9M198 575h9M618 365h9M263 634h9M599 397h9M229 609h9M517 315h9M446 308h9M575 317h9M206 354h9M563 422h9M509 470h9M507 306h9M457 307h9M322 322h9M454 308h9M547 438h9M209 379h9M309 331h9M528 293h9M430 300h9M233 604h9M522 329h9M393 290h9M472 326h9M197 442h9M527 298h9M222 357h9M415 295h9M581 398h9M572 352h9M534 309h9M473 299h9M513 299h9M191 476h9M481 306h9M408 519h9M209 367h9M505 308h9M352 324h9M213 623h9M401 303h9M353 520h9M528 306h9M480 301h9M392 300h9M229 623h9M334 522h9M389 335h9M213 594h9M468 466h9M416 299h9M235 358h9M196 445h9M187 458h9M237 605h9M544 343h9M555 397h9M458 475h9M554 392h9M402 336h9M207 367h9M316 323h9M534 313h9M191 417h9M436 312h9M583 366h9M190 469h9M198 459h9M573 379h9M353 326h9M199 413h9M178 450h9M213 619h9M374 325h9M184 451h9M543 435h9M522 317h9M194 427h9M215 362h9M309 348h9M430 337h9M208 443h9M226 621h9M354 333h9M306 340h9M454 326h9M428 305h9M205 385h9M475 469h9M258 347h9M411 307h9M273 521h9M198 400h9M490 309h9M190 454h9M426 338h9M327 520h9M341 349h9M563 350h9M211 458h9M540 421h9M503 451h9M420 496h9M529 334h9M422 324h9M566 385h9M394 350h9M207 469h9M297 348h9M286 335h9M327 346h9M503 455h9M192 460h9M223 492h9M578 360h9M400 495h9M405 330h9M425 496h9M561 341h9M208 435h9M243 513h9M517 436h9M242 518h9M211 377h9M318 324h9M403 506h9M264 521h9M420 343h9M554 359h9M565 376h9M411 505h9M235 367h9M396 326h9M499 323h9M419 488h9M269 358h9M536 430h9M563 352h9" stroke="#3b57ca" stroke-width="9" stroke-opacity="0.5" fill="none"/>
<path d="M475 453h9M535 432h9M439 488h9M243 361h9M385 515h9M424 331h9M436 323h9M483 459h9M447 334h9M476 320h9M528 441h9M455 319h9M288 350h9M348 340h9M347 344h9M390 343h9M366 344h9M481 458h9M294 348h9M473 458h9M447 477h9M435 349h9M219 368h9M454 330h9M388 512h9M466 328h9M417 498h9M464 326h9M389 323h9M530 333h9M381 349h9M526 432h9M410 332h9M380 333h9M351 523h9M372 517h9M536 419h9M420 351h9M538 410h9M556 365h9M401 492h9M424 492h9M348 510h9M521 349h9M371 354h9M408 504h9M525 359h9M439 471h9M401 335h9M414 336h9M218 434h9M262 518h9M386 505h9M376 345h9M527 367h9M530 415h9M226 400h9M533 378h9M372 506h9M240 371h9M384 359h9M542 396h9M211 403h9M434 476h9M526 392h9M275 365h9M454 349h9M558 385h9M203 414h9M403 361h9M212 403h9M537 432h9M376 505h9M514 418h9M219 427h9M412 492h9M476 334h9M386 332h9M326 346h9M389 336h9M541 361h9M453 452h9M392 501h9M523 410h9M215 411h9M381 339h9M335 348h9M341 510h9M438 346h9M250 507h9M473 440h9M553 370h9M225 489h9M526 408h9M541 383h9M480 339h9M512 436h9M429 474h9M308 519h9M207 397h9M229 385h9M454 348h9M500 346h9M386 496h9M211 435h9M495 321h9M509 435h9M354 519h9M426 485h9M236 491h9M541 354h9M230 491h9M369 361h9M400 337h9M401 479h9M259 365h9M447 345h9M444 469h9M530 385h9M551 368h9M410 369h9M522 348h9M231 377h9M499 431h9M418 478h9M543 355h9M503 437h9M221 372h9M535 399h9M369 496h9M519 412h9M392 374h9M263 366h9M434 464h9M297 514h9M223 466h9M377 363h9M508 447h9M234 371h9M323 342h9M360 357h9M373 359h9M226 466h9M464 451h9M514 351h9M390 484h9M519 421h9M213 419h9M547 353h9M527 398h9M519 378h9M529 369h9M373 365h9M500 423h9M444 463h9M328 351h9M311 511h9M498 324h9M350 512h9M477 447h9M499 339h9M465 433h9M473 348h9M478 341h9M496 415h9M423 330h9M389 354h9M531 366h9M364 355h9M223 403h9M529 428h9M550 358h9M269 518h9M469 349h9M372 503h9M550 361h9M227 428h9M506 438h9M220 394h9M343 365h9M308 518h9M373 505h9M223 440h9M536 362h9M504 356h9M224 479h9M394 483h9M239 387h9M217 397h9M500 441h9M493 343h9M475 347h9M297 517h9M315 517h9M384 350h9M491 345h9M347 345h9M416 364h9M343 360h9M226 371h9M535 388h9M371 507h9M522 361h9M410 481h9M256 362h9M492 334h9M329 518h9M444 352h9M249 498h9M280 369h9M499 435h9M228 471h9M520 330h9M554 372h9M372 344h9M289 353h9M268 363h9M517 412h9M238 487h9M291 508h9M534 361h9M382 347h9M223 399h9M530 400h9M217 390h9M264 379h9M433 447h9M501 423h9M390 488h9M443 449h9M462 331h9M314 512h9M464 439h9M234 410h9M514 425h9M497 410h9M554 356h9M223 488h9M304 356h9M434 351h9M476 401h9M526 365h9M386 480h9M524 440h9M457 448h9M475 371h9M231 471h9M364 367h9M233 481h9M486 361h9M478 339h9M228 443h9" stroke="#3a5ccd" stroke-width="9" stroke-opacity="0.6" fill="none"/>
<path d="M452 449h9M306 370h9M525 395h9M487 445h9M299 358h9M431 459h9M286 353h9M500 439h9M537 379h9M527 382h9M295 352h9M223 399h9M507 384h9M549 367h9M281 354h9M217 380h9M530 360h9M479 418h9M484 331h9M370 384h9M492 438h9M485 436h9M221 479h9M469 426h9M524 414h9M445 436h9M522 388h9M526 392h9M472 347h9M317 360h9M245 374h9M344 515h9M451 365h9M290 365h9M400 471h9M503 387h9M505 389h9M453 437h9M493 384h9M284 518h9M507 345h9M509 363h9M498 422h9M449 403h9M506 426h9M504 393h9M331 513h9M494 408h9M431 459h9M266 510h9M421 439h9M362 495h9M519 397h9M236 419h9M230 403h9M421 458h9M467 355h9M506 342h9M462 378h9M441 352h9M367 505h9M496 359h9M488 411h9M217 428h9M416 367h9M542 360h9M436 379h9M431 350h9M235 459h9M516 400h9M501 372h9M490 347h9M509 393h9M438 448h9M427 468h9M487 415h9M257 361h9M399 478h9M329 517h9M239 409h9M290 366h9M240 388h9M301 518h9M509 373h9M451 351h9M500 406h9M250 379h9M514 369h9M512 418h9M376 379h9M465 437h9M243 450h9M517 375h9M480 424h9M303 515h9M418 371h9M495 410h9M505 347h9M266 504h9M484 406h9M396 369h9M465 436h9M384 384h9M431 366h9M328 364h9M228 409h9M297 515h9M306 506h9M482 421h9M250 383h9M304 503h9M465 423h9M263 376h9M502 414h9M377 471h9M315 368h9M339 356h9M471 374h9M451 378h9M302 369h9M330 501h9M446 428h9M211 415h9M421 361h9M512 378h9M236 495h9M232 461h9M380 371h9M459 442h9M371 379h9M367 497h9M377 474h9M429 364h9M379 380h9M529 340h9M229 427h9M432 448h9M374 496h9M231 454h9M372 491h9M369 509h9M258 504h9M243 481h9M326 501h9M421 412h9M292 378h9M506 385h9M399 389h9M465 379h9M342 376h9M454 351h9M377 461h9M463 358h9M502 394h9M412 373h9M428 355h9M490 412h9M269 491h9M265 503h9M470 410h9M253 381h9M465 354h9M366 497h9M466 395h9M449 357h9M465 412h9M408 452h9M469 358h9M262 383h9M360 360h9M382 395h9M472 366h9M350 367h9M435 362h9M358 499h9M305 516h9M457 365h9M331 362h9M448 446h9M408 374h9M482 405h9M235 472h9M500 368h9M448 370h9M233 442h9M481 418h9M315 491h9M411 448h9M485 404h9M466 404h9M235 414h9M391 457h9M483 426h9M506 359h9M428 350h9M482 376h9M437 367h9M508 358h9M471 413h9M464 437h9M471 417h9M500 407h9M224 395h9M328 509h9M287 503h9M410 453h9M246 399h9M413 461h9M495 367h9M313 502h9M256 478h9M352 492h9M427 453h9M222 396h9M235 427h9M404 372h9M366 385h9M354 378h9M261 501h9M499 414h9M307 360h9M448 370h9M366 388h9M430 377h9M297 501h9M237 418h9M330 379h9M441 440h9M441 432h9M353 495h9M500 347h9M440 377h9M421 374h9M515 380h9M264 372h9M413 388h9M268 376h9M399 385h9M412 381h9M442 388h9M435 432h9M403 487h9M472 408h9M411 450h9M463 363h9M392 460h9M379 361h9M240 476h9M270 510h9M486 340h9M505 439h9M353 401h9M366 500h9M448 433h9M455 416h9M348 493h9M225 434h9M238 473h9M495 364h9M362 474h9M265 383h9M282 501h9M310 507h9M428 435h9M439 374h9M445 435h9M444 408h9M499 389h9M345 361h9M282 503h9M446 389h9M236 410h9M247 415h9M340 500h9M276 386h9M240 472h9M487 416h9M390 381h9M476 372h9M438 375h9M465 403h9M333 498h9M240 430h9M351 475h9M343 373h9M352 499h9M276 502h9M427 396h9M525 371h9M430 378h9M340 377h9M419 409h9M369 489h9M339 492h9M232 474h9M378 480h9M370 370h9M487 356h9M352 496h9M472 420h9M372 467h9" stroke="#3861d0" stroke-width="9" stroke-opacity="0.75" fill="none"/>
<path d="M499 372h9M374 417h9M235 445h9M510 384h9M315 360h9M413 418h9M489 367h9M307 377h9M405 456h9M423 391h9M292 493h9M301 495h9M457 380h9M398 453h9M254 469h9M495 423h9M471 402h9M226 411h9M290 356h9M284 506h9M233 466h9M407 383h9M467 399h9M461 368h9M491 388h9M279 488h9M285 366h9M444 364h9M484 378h9M441 382h9M397 454h9M245 395h9M391 403h9M463 410h9M407 372h9M483 374h9M358 384h9M471 386h9M427 455h9M476 366h9M270 404h9M370 476h9M424 454h9M451 383h9M509 357h9M291 370h9M359 493h9M389 414h9M493 414h9M470 411h9M429 393h9M439 368h9M490 374h9M491 391h9M439 442h9M441 429h9M428 416h9M288 507h9M342 509h9M286 485h9M464 409h9M358 388h9M419 444h9M466 389h9M496 373h9M242 406h9M402 383h9M488 395h9M236 446h9M439 392h9M253 382h9M405 433h9M313 368h9M302 379h9M337 377h9M401 438h9M319 485h9M439 423h9M309 502h9M412 396h9M256 490h9M237 437h9M243 386h9M397 384h9M426 370h9M493 361h9M283 495h9M323 362h9M471 399h9M381 402h9M468 417h9M400 433h9M305 374h9M488 387h9M314 366h9M254 469h9M324 495h9M325 492h9M388 461h9M468 408h9M298 366h9M460 421h9M252 384h9M348 491h9M347 379h9M485 419h9M428 455h9M286 488h9M281 388h9M255 480h9M481 368h9M441 387h9M264 492h9M425 385h9M344 505h9M472 396h9M259 486h9M232 430h9M399 387h9M301 372h9M404 384h9M410 442h9M239 466h9M404 400h9M390 385h9M267 504h9M441 415h9M481 385h9M361 390h9M270 393h9M431 400h9M263 381h9M326 499h9M235 432h9M474 383h9M399 382h9M485 384h9M395 390h9M286 355h9M368 381h9M316 500h9M378 475h9M267 396h9M433 398h9M281 460h9M442 410h9M439 375h9M246 473h9M396 462h9M322 375h9M426 437h9M228 430h9M485 376h9M393 420h9M287 399h9M408 434h9M239 440h9M406 453h9M408 461h9M348 375h9M409 439h9M503 351h9M443 415h9M279 393h9M357 388h9M347 449h9M423 387h9M368 451h9M433 368h9M464 400h9M429 434h9M420 385h9M257 386h9M244 473h9M375 405h9M346 495h9M411 444h9M427 444h9M353 470h9M286 491h9M260 397h9M498 355h9M354 482h9M396 408h9M248 469h9M410 453h9M363 485h9M258 491h9M456 396h9M465 394h9M469 415h9M254 429h9M451 379h9M257 426h9M264 378h9M251 474h9M417 443h9M417 411h9M427 415h9M407 405h9M445 383h9M357 401h9M395 404h9M246 433h9M274 490h9M373 397h9M315 372h9M376 392h9M413 421h9M459 383h9M357 498h9M395 442h9M406 416h9M435 410h9M343 388h9M369 402h9M263 386h9M449 427h9M411 397h9M476 382h9M363 466h9M270 399h9M364 407h9M404 445h9M437 414h9M474 386h9M410 402h9M402 457h9M404 453h9M249 448h9M415 415h9M379 389h9M304 400h9M461 383h9M444 411h9M521 361h9M323 492h9M444 383h9M304 372h9M352 374h9M434 408h9M410 397h9M299 494h9M396 457h9M458 368h9M261 386h9M374 466h9M392 446h9M484 390h9M358 488h9M398 393h9M243 473h9M245 412h9M353 493h9M268 503h9M372 399h9M456 378h9M432 378h9M262 505h9M283 500h9M275 496h9M434 423h9M464 401h9M390 463h9M394 459h9M454 392h9M413 416h9M434 443h9M316 378h9M357 478h9M250 420h9M267 400h9M241 412h9M463 401h9M487 389h9M431 426h9M423 418h9M348 509h9M275 391h9M299 471h9M383 410h9M250 464h9M354 374h9M342 380h9M302 372h9M362 393h9M407 446h9M307 377h9M454 394h9M401 454h9M494 362h9M379 453h9M310 371h9M382 383h9M425 388h9M316 484h9M262 463h9M287 387h9M334 378h9M432 423h9M246 392h9M422 439h9M300 377h9M276 400h9M444 380h9M258 468h9M455 382h9M265 482h9M467 392h9M470 398h9M297 499h9M481 381h9M407 458h9M434 393h9M465 381h9M389 393h9M457 419h9M473 397h9M447 404h9M397 403h9M316 388h9M361 425h9M485 382h9M382 430h9M300 400h9M368 475h9M287 498h9M351 465h9M266 466h9M399 395h9M280 491h9M389 407h9M417 400h9M275 477h9M446 421h9M254 398h9M255 395h9M316 383h9M428 386h9M277 400h9" stroke="#396ed3" stroke-width="9" fill="none"/>
<path d="M250 445h9M448 399h9M472 371h9M297 396h9M334 377h9M231 401h9M272 489h9M401 384h9M245 433h9M430 441h9M437 416h9M337 481h9M265 461h9M246 430h9M370 409h9M260 430h9M252 468h9M241 459h9M439 418h9M298 486h9M365 471h9M394 458h9M480 397h9M497 382h9M376 460h9M296 379h9M312 387h9M272 487h9M247 433h9M364 393h9M270 460h9M248 435h9M254 417h9M387 401h9M472 397h9M367 448h9M431 411h9M291 384h9M421 423h9M284 400h9M340 475h9M351 497h9M260 495h9M234 439h9M403 410h9M340 496h9M396 426h9M255 397h9M396 435h9M351 395h9M396 408h9M285 385h9M337 479h9M489 380h9M388 412h9M410 458h9M424 379h9M417 415h9M365 466h9M275 483h9M422 416h9M427 394h9M360 420h9M286 373h9M308 386h9M249 474h9M243 428h9M251 416h9M245 458h9M384 456h9M395 415h9M387 456h9M354 466h9M256 445h9M254 405h9M465 373h9M424 426h9M361 406h9M432 405h9M375 460h9M387 386h9M268 481h9M394 434h9M402 405h9M402 402h9M447 409h9M375 410h9M431 390h9M455 393h9M372 422h9M468 401h9M350 480h9M311 380h9M355 496h9M249 417h9M320 473h9M273 413h9M268 397h9M391 440h9M349 381h9M285 382h9M389 414h9M296 497h9M456 383h9M258 493h9M369 452h9M346 490h9M264 406h9M409 402h9M299 397h9M245 476h9M269 391h9M306 387h9M433 416h9M313 382h9M420 410h9M263 486h9M295 392h9M390 426h9M345 371h9M271 485h9M277 403h9M258 443h9M439 405h9M294 396h9M350 394h9M332 483h9M244 434h9M284 472h9M450 428h9M398 427h9M433 404h9M250 415h9M303 382h9M502 366h9M424 415h9M263 492h9M249 399h9M428 433h9M359 382h9M436 370h9M311 398h9M276 389h9M324 490h9M255 467h9M451 372h9M395 418h9M380 426h9M408 417h9M320 486h9M276 388h9M255 406h9M332 370h9M351 373h9M339 399h9M256 440h9M386 423h9M320 479h9M245 431h9M273 398h9M408 430h9M260 393h9M239 426h9M382 391h9M256 447h9M375 461h9M355 487h9M264 419h9M285 457h9M442 404h9M254 477h9M320 482h9M393 444h9M368 471h9M262 448h9M440 417h9M425 398h9M415 437h9M275 469h9M435 440h9M356 477h9M457 409h9M322 382h9M340 474h9M339 371h9M329 478h9M281 490h9M314 386h9M374 413h9M412 405h9M260 485h9M248 429h9M378 424h9M243 460h9M375 438h9M288 486h9M311 386h9M254 483h9M252 449h9M403 445h9M387 403h9M329 377h9M310 471h9M269 476h9M468 399h9M353 409h9M411 436h9M333 381h9M303 488h9M280 405h9M391 399h9M464 413h9M431 414h9M274 462h9M346 395h9M339 478h9M292 467h9M421 424h9M361 399h9M423 392h9M422 410h9M394 446h9M368 418h9M331 378h9M446 433h9M258 459h9M438 432h9M363 426h9M401 417h9M246 448h9M267 391h9M258 415h9M288 387h9M275 407h9M337 493h9M282 488h9M248 448h9M400 390h9M345 467h9M356 480h9M270 461h9M331 483h9M257 438h9M272 405h9M373 442h9M243 422h9M294 498h9M272 391h9M331 384h9M389 431h9M396 457h9M296 471h9M372 404h9M360 480h9M378 413h9M282 488h9M416 411h9M399 381h9M400 407h9M366 450h9M338 473h9M372 401h9M255 467h9M275 413h9M352 396h9M303 381h9M312 390h9M435 393h9M334 483h9M270 438h9M402 446h9M430 415h9M406 425h9M304 405h9M304 480h9M242 443h9M364 449h9M379 477h9M266 486h9M256 449h9M288 480h9M457 391h9M284 404h9M263 452h9M312 404h9M339 387h9M286 396h9M251 449h9M245 432h9M396 434h9M286 485h9M382 424h9M305 481h9M267 474h9M351 396h9M289 464h9M400 438h9M377 454h9M252 461h9M387 398h9M328 461h9M260 447h9M324 377h9M380 458h9M301 420h9M455 392h9M413 430h9M271 465h9M286 452h9" stroke="#3d87d5" stroke-width="9" fill="none"/>
<path d="M261 419h12M349 500h12M290 478h12M346 395h12M279 444h12M272 448h12M268 414h12M270 410h12M326 385h12M260 461h12M420 412h12M262 424h12M349 389h12M287 417h12M383 424h12M328 410h12M281 486h12M271 456h12M420 418h12M344 441h12M396 442h12M363 420h12M327 481h12M371 432h12M254 439h12M369 445h12M334 396h12M362 452h12M350 401h12M341 398h12M254 450h12M273 481h12M436 384h12M326 381h12M355 409h12M357 404h12M337 396h12M315 406h12M348 489h12M272 457h12M357 403h12M290 482h12M403 413h12M410 400h12M392 418h12M377 449h12M261 445h12M357 428h12M236 429h12M355 412h12M291 401h12M265 432h12M352 413h12M350 404h12M375 432h12M342 464h12M332 380h12M354 418h12M256 443h12M320 395h12M258 471h12M438 389h12M288 485h12M317 400h12M276 395h12M401 435h12M381 444h12M310 464h12M276 477h12M381 444h12M286 476h12M294 468h12M373 405h12M345 454h12M438 406h12M289 412h12M430 390h12M325 467h12M358 447h12M294 435h12M300 478h12M392 417h12M356 418h12M296 479h12M341 435h12M310 476h12M418 393h12M371 469h12M262 395h12M343 457h12M325 465h12M355 433h12M270 436h12M317 417h12M320 395h12M332 416h12M292 498h12M346 382h12M270 467h12M281 453h12M292 399h12M396 422h12M405 439h12M380 440h12M376 436h12M278 413h12M336 486h12M375 442h12M249 416h12M330 386h12M364 404h12M278 431h12M268 462h12M339 479h12M376 440h12M320 478h12M406 406h12M262 426h12M301 469h12M290 488h12M364 409h12M348 402h12M255 445h12M358 451h12M306 482h12M255 426h12M246 430h12M372 427h12M256 426h12M312 481h12M337 488h12M293 390h12M316 471h12M276 436h12M265 487h12M323 385h12M270 418h12M277 380h12M273 429h12M250 470h12M259 434h12M321 400h12M307 481h12M378 439h12M310 441h12M375 452h12M374 425h12M269 472h12M266 484h12M278 430h12M336 383h12M303 470h12M384 411h12M298 497h12M381 430h12M276 468h12M275 409h12M314 389h12M318 468h12M311 389h12M253 470h12M374 450h12M274 452h12M267 488h12M332 395h12M447 398h12M262 445h12M329 482h12M276 408h12M277 468h12M303 458h12M321 478h12M371 445h12M247 438h12M400 428h12M355 411h12M321 388h12M384 440h12M361 435h12M276 419h12M243 448h12M274 430h12M274 484h12M338 486h12M362 415h12M311 396h12M290 461h12M281 407h12M286 477h12M280 475h12M373 435h12M333 398h12M338 398h12M358 457h12M315 400h12M348 477h12M368 444h12M364 464h12M358 419h12M328 479h12M376 436h12M375 448h12M310 486h12M385 453h12M274 416h12M343 487h12M350 430h12M352 457h12M305 382h12M288 464h12M275 447h12M382 443h12M385 417h12M372 447h12M306 465h12M442 397h12M322 468h12M368 453h12M291 479h12M316 479h12M441 378h12M298 462h12M272 423h12M325 394h12M316 463h12M333 467h12M282 408h12M261 442h12M357 395h12M329 485h12M298 396h12M252 472h12M290 397h12M319 479h12M392 448h12M251 449h12M318 471h12M326 405h12M267 447h12M361 424h12M380 437h12M351 459h12M277 404h12M265 452h12M282 429h12M360 429h12M280 476h12M340 439h12M284 400h12M316 476h12M292 403h12M423 408h12M270 413h12M363 467h12M364 443h12M310 400h12M344 463h12M284 478h12M296 442h12M347 401h12M301 401h12M342 459h12" stroke="#429fd2" stroke-width="12" fill="none"/>
<path d="M256 414h12M339 466h12M344 473h12M318 401h12M292 413h12M360 426h12M269 449h12M342 409h12M332 408h12M271 454h12M324 397h12M295 449h12M379 444h12M274 404h12M346 476h12M315 403h12M274 407h12M326 461h12M316 487h12M322 409h12M305 462h12M324 462h12M335 408h12M323 430h12M359 443h12M322 409h12M295 400h12M250 429h12M352 423h12M329 486h12M431 419h12M331 400h12M274 470h12M355 444h12M279 449h12M333 425h12M284 405h12M322 430h12M297 404h12M355 438h12M347 402h12M295 445h12M335 470h12M312 465h12M375 418h12M332 466h12M265 401h12M338 467h12M320 453h12M299 403h12M288 467h12M380 433h12M341 460h12M273 424h12M342 484h12M257 462h12M285 417h12M329 406h12M267 464h12M287 396h12M304 407h12M357 443h12M310 483h12M326 468h12M342 407h12M256 432h12M348 444h12M363 480h12M261 445h12M388 411h12M357 424h12M336 405h12M354 453h12M279 420h12M349 471h12M278 442h12M338 427h12M257 424h12M304 398h12M327 420h12M348 450h12M349 429h12M331 410h12M368 440h12M306 468h12M265 437h12M406 411h12M338 411h12M350 426h12M265 437h12M344 453h12M307 466h12M285 418h12M326 471h12M266 446h12M320 443h12M291 477h12M266 449h12M283 453h12M365 432h12M282 413h12M286 459h12M289 436h12M283 416h12M358 428h12M323 402h12M354 413h12M349 445h12M295 418h12M351 420h12M310 466h12M350 476h12M355 446h12M299 413h12M269 449h12M342 454h12M320 467h12M297 458h12M341 387h12M336 399h12M340 449h12M344 414h12M292 418h12M355 438h12M348 445h12M274 450h12M326 392h12M277 441h12M335 489h12M294 452h12M360 439h12M297 451h12M315 468h12M366 456h12M299 424h12M303 478h12M251 434h12M366 462h12M266 424h12M345 449h12M267 429h12M312 449h12M332 486h12M407 418h12M359 429h12M329 469h12M314 399h12M316 477h12M348 402h12M305 467h12M361 427h12M251 431h12M367 419h12M273 440h12M366 447h12M391 409h12M307 454h12M322 425h12M322 472h12M295 423h12M360 420h12M263 448h12M348 401h12M270 444h12M316 456h12M296 422h12M273 423h12M274 446h12M348 404h12M309 401h12M293 485h12M324 479h12M376 429h12M330 407h12M347 451h12M353 470h12M353 426h12M295 464h12M306 403h12M276 449h12M364 425h12M282 415h12M349 416h12M301 412h12M274 425h12M296 464h12M338 434h12M318 473h12M301 445h12M344 413h12M357 455h12M281 443h12M328 429h12M331 469h12M304 457h12M330 426h12M329 411h12M276 403h12" stroke="#48b4b7" stroke-width="12" fill="none"/>
<path d="M346 406h12M320 419h12M247 445h12M282 436h12M324 396h12M338 421h12M308 476h12M350 463h12M296 432h12M292 410h12M349 478h12M366 444h12M375 443h12M337 471h12M345 437h12M337 439h12M312 452h12M351 431h12M336 445h12M335 460h12M312 414h12M332 447h12M357 445h12M327 435h12M286 422h12M321 461h12M312 429h12M317 417h12M325 417h12M286 433h12M264 431h12M287 433h12M363 441h12M313 453h12M298 418h12M281 441h12M349 453h12M322 405h12M289 460h12M356 462h12M357 449h12M292 456h12M321 463h12M343 454h12M334 414h12M287 440h12M356 453h12M350 408h12M321 452h12M346 464h12M359 451h12M265 424h12M288 473h12M276 446h12M356 434h12M316 429h12M356 439h12M285 434h12M278 460h12M287 466h12M276 456h12M352 431h12M263 421h12M275 439h12M308 405h12M334 416h12M326 413h12M294 458h12M356 462h12M372 450h12M306 451h12M336 431h12M300 445h12M297 455h12M281 413h12M340 416h12M357 441h12M291 410h12M276 489h12M294 440h12M343 428h12M360 434h12M296 480h12M282 422h12M334 396h12M313 443h12M337 431h12M330 462h12M376 436h12M337 424h12M321 406h12M321 452h12M324 415h12M285 415h12M332 433h12M293 417h12M296 411h12M347 409h12M346 410h12M335 448h12M265 429h12M334 471h12M316 444h12M334 447h12M302 418h12M302 426h12M334 466h12M300 401h12M312 454h12M289 410h12M330 460h12M337 472h12M304 420h12M348 443h12M292 432h12M337 428h12M328 466h12M314 450h12M342 435h12M363 423h12M368 434h12M291 428h12M307 450h12M336 440h12M291 431h12M297 440h12M329 419h12M298 429h12M321 425h12M324 459h12M294 415h12M356 436h12M354 416h12M340 425h12M295 433h12M293 412h12M333 432h12M310 431h12M311 385h12M273 425h12M321 437h12M291 433h12M332 434h12M342 403h12M341 461h12M336 456h12M289 441h12M357 458h12M318 445h12M314 443h12M366 436h12M298 450h12M349 425h12M314 445h12M316 422h12M344 469h12M327 464h12M291 423h12M304 406h12M283 440h12M307 415h12M308 418h12M329 381h12M293 425h12M305 446h12M362 422h12M291 430h12M328 446h12M329 456h12M352 445h12M325 459h12M289 424h12M335 418h12M317 434h12M310 458h12M312 416h12M293 440h12M301 429h12M315 422h12M316 453h12M332 459h12M292 467h12M325 422h12M340 427h12M309 443h12" stroke="#51c18f" stroke-width="12" fill="none"/>
<path d="M305 445h12M321 407h12M297 428h12M335 446h12M328 420h12M338 447h12M357 451h12M337 432h12M326 425h12M263 439h12M329 447h12M339 415h12M351 444h12M359 449h12M348 458h12M296 448h12M306 422h12M288 430h12M292 456h12M345 439h12M341 425h12M286 435h12M300 430h12M351 453h12M308 407h12M298 408h12M274 428h12M304 457h12M298 417h12M302 423h12M359 434h12M349 449h12M334 432h12M327 464h12M331 437h12M337 416h12M317 455h12M321 403h12M295 403h12M284 435h12M288 429h12M307 446h12M279 427h12M300 433h12M328 422h12M335 442h12M337 460h12M329 443h12M332 446h12M322 428h12M303 423h12M316 433h12M291 442h12M318 404h12M298 422h12M349 416h12M300 445h12M313 451h12M326 430h12M315 464h12M321 438h12M311 450h12M289 452h12M361 426h12M309 430h12M300 436h12M298 452h12M341 431h12M306 430h12M290 435h12M349 442h12M279 451h12M295 419h12M323 417h12M311 441h12M273 411h12M334 431h12M283 445h12M342 430h12M314 435h12M309 434h12M336 413h12M331 447h12M347 456h12M296 417h12M325 395h12M300 418h12M317 437h12M347 452h12M295 433h12M308 466h12M303 427h12M297 422h12M294 449h12M271 413h12M345 431h12M324 410h12M299 423h12M324 441h12M311 413h12M304 456h12M310 425h12M318 452h12M287 439h12M324 441h12M336 446h12M319 425h12M338 421h12M304 446h12M317 438h12M311 449h12M328 431h12M309 430h12M326 420h12" stroke="#5dc75a" stroke-width="12" fill="none"/>
<path d="M314 423h12M300 426h12M326 433h12M336 428h12M317 438h12M291 432h12M311 459h12M293 424h12M347 453h12M318 427h12M322 428h12M345 443h12M320 435h12M325 440h12M293 426h12M316 471h12M316 452h12M332 454h12M324 426h12M282 439h12M329 465h12M303 442h12M312 462h12M298 415h12M324 432h12M311 436h12M302 434h12M297 417h12M318 430h12M305 434h12M324 432h12M316 442h12M290 413h12M355 434h12M325 444h12M328 425h12M328 432h12M295 433h12M302 445h12M331 412h12M324 452h12M320 448h12M321 427h12M306 447h12M295 449h12M352 432h12M318 446h12M343 459h12M336 447h12M306 442h12M304 417h12M308 435h12M326 420h12M356 432h12M302 429h12M319 446h12M323 430h12M312 453h12M330 432h12M319 440h12M329 412h12M318 400h12M319 413h12M310 470h12M294 440h12" stroke="#87ce41" stroke-width="12" fill="none"/>
<path d="M341 439h12M319 429h12M321 421h12M288 432h12M325 463h12M338 441h12M321 416h12M296 434h12M323 446h12M305 445h12M335 420h12M293 448h12M317 433h12M303 428h12M304 427h12M299 441h12M308 450h12M316 441h12M313 462h12M316 447h12M287 448h12M334 434h12M298 447h12M310 440h12M303 436h12M292 440h12M297 425h12M305 421h12M317 438h12M319 421h12" stroke="#b7d630" stroke-width="12" fill="none"/>
<path d="M311 440h12M310 431h12M311 439h12M310 443h12M320 438h12M322 433h12M313 431h12M321 438h12M324 447h12M307 427h12M316 417h12M337 443h12M322 429h12M311 439h12M325 449h12M312 436h12" stroke="#dac028" stroke-width="12" fill="none"/>
<path d="M318 440h12M314 435h12M314 442h12M303 437h12M307 432h12" stroke="#f49d22" stroke-width="12" fill="none"/>
<path d="M298 434h12M305 434h12M320 430h12M313 432h12M304 430h12M324 441h12M314 431h12M301 441h12M327 431h12M317 441h12M315 443h12M319 445h12M312 425h12" stroke="#ee551d" stroke-width="12" fill="none"/>
</g>
<rect x="146.1" y="426.7" width="89.9" height="89.7" stroke="#8f8f8f" stroke-width="0.9" fill="none"/>
<line x1="184" y1="426.7" x2="184" y2="516.4" stroke="#2e2e2e" stroke-width="1"/>
<line x1="146.1" y1="479.8" x2="236" y2="479.8" stroke="#2e2e2e" stroke-width="1"/>
<text x="0" y="0" font-size="9.3" transform="translate(155.2,443.9) scale(1.04,1)" fill="#111">78.7</text>
<text x="0" y="0" font-size="9.3" text-anchor="end" transform="translate(226.1,443.9) scale(1.04,1)" fill="#111">20.9</text>
<text x="0" y="0" font-size="9.3" transform="translate(156.2,507.8) scale(1.04,1)" fill="#111">0.42</text>
<text x="0" y="0" font-size="9.3" text-anchor="end" transform="translate(226.1,507.8) scale(1.04,1)" fill="#111">0</text>
<line x1="143.7" y1="434.9" x2="146.1" y2="434.9" stroke="#444" stroke-width="0.8"/>
<text x="142.3" y="436.3" font-size="4" text-anchor="end" fill="#333">10<tspan font-size="2.7" dy="-1.6">5</tspan></text>
<line x1="143.7" y1="455.9" x2="146.1" y2="455.9" stroke="#444" stroke-width="0.8"/>
<text x="142.3" y="457.3" font-size="4" text-anchor="end" fill="#333">10<tspan font-size="2.7" dy="-1.6">4</tspan></text>
<line x1="143.7" y1="480.4" x2="146.1" y2="480.4" stroke="#444" stroke-width="0.8"/>
<text x="142.3" y="481.8" font-size="4" text-anchor="end" fill="#333">10<tspan font-size="2.7" dy="-1.6">3</tspan></text>
<line x1="143.7" y1="496.2" x2="146.1" y2="496.2" stroke="#444" stroke-width="0.8"/>
<text x="142.3" y="497.6" font-size="4" text-anchor="end" fill="#333">0</text>
<line x1="143.7" y1="512" x2="146.1" y2="512" stroke="#444" stroke-width="0.8"/>
<text x="142.3" y="513.4" font-size="4" text-anchor="end" fill="#333">-10<tspan font-size="2.7" dy="-1.6">3</tspan></text>
<line x1="144.8" y1="430.7" x2="146.1" y2="430.7" stroke="#777" stroke-width="0.5"/>
<line x1="144.8" y1="434" x2="146.1" y2="434" stroke="#777" stroke-width="0.5"/>
<line x1="144.8" y1="437.3" x2="146.1" y2="437.3" stroke="#777" stroke-width="0.5"/>
<line x1="144.8" y1="440.6" x2="146.1" y2="440.6" stroke="#777" stroke-width="0.5"/>
<line x1="144.8" y1="443.9" x2="146.1" y2="443.9" stroke="#777" stroke-width="0.5"/>
<line x1="144.8" y1="447.2" x2="146.1" y2="447.2" stroke="#777" stroke-width="0.5"/>
<line x1="144.8" y1="450.5" x2="146.1" y2="450.5" stroke="#777" stroke-width="0.5"/>
<line x1="144.8" y1="453.8" x2="146.1" y2="453.8" stroke="#777" stroke-width="0.5"/>
<line x1="144.8" y1="457.1" x2="146.1" y2="457.1" stroke="#777" stroke-width="0.5"/>
<line x1="144.8" y1="460.4" x2="146.1" y2="460.4" stroke="#777" stroke-width="0.5"/>
<line x1="144.8" y1="463.7" x2="146.1" y2="463.7" stroke="#777" stroke-width="0.5"/>
<line x1="144.8" y1="467" x2="146.1" y2="467" stroke="#777" stroke-width="0.5"/>
<line x1="144.8" y1="470.3" x2="146.1" y2="470.3" stroke="#777" stroke-width="0.5"/>
<line x1="144.8" y1="473.6" x2="146.1" y2="473.6" stroke="#777" stroke-width="0.5"/>
<line x1="144.8" y1="476.9" x2="146.1" y2="476.9" stroke="#777" stroke-width="0.5"/>
<line x1="144.8" y1="480.2" x2="146.1" y2="480.2" stroke="#777" stroke-width="0.5"/>
<line x1="144.8" y1="483.5" x2="146.1" y2="483.5" stroke="#777" stroke-width="0.5"/>
<line x1="144.8" y1="486.8" x2="146.1" y2="486.8" stroke="#777" stroke-width="0.5"/>
<line x1="144.8" y1="490.1" x2="146.1" y2="490.1" stroke="#777" stroke-width="0.5"/>
<line x1="144.8" y1="493.4" x2="146.1" y2="493.4" stroke="#777" stroke-width="0.5"/>
<line x1="144.8" y1="496.7" x2="146.1" y2="496.7" stroke="#777" stroke-width="0.5"/>
<line x1="144.8" y1="500" x2="146.1" y2="500" stroke="#777" stroke-width="0.5"/>
<line x1="144.8" y1="503.3" x2="146.1" y2="503.3" stroke="#777" stroke-width="0.5"/>
<line x1="144.8" y1="506.6" x2="146.1" y2="506.6" stroke="#777" stroke-width="0.5"/>
<line x1="144.8" y1="509.9" x2="146.1" y2="509.9" stroke="#777" stroke-width="0.5"/>
<line x1="144.8" y1="513.2" x2="146.1" y2="513.2" stroke="#777" stroke-width="0.5"/>
<rect x="144.1" y="494.4" width="1.8" height="3.4" fill="#222"/>
<line x1="150.7" y1="516.4" x2="150.7" y2="518.6" stroke="#444" stroke-width="0.8"/>
<text x="150.7" y="526.4" font-size="4" text-anchor="middle" fill="#333">-10<tspan font-size="2.7" dy="-1.6">3</tspan></text>
<line x1="166.5" y1="516.4" x2="166.5" y2="518.6" stroke="#444" stroke-width="0.8"/>
<text x="166.5" y="526.4" font-size="4" text-anchor="middle" fill="#333">0</text>
<line x1="183.1" y1="516.4" x2="183.1" y2="518.6" stroke="#444" stroke-width="0.8"/>
<text x="183.1" y="526.4" font-size="4" text-anchor="middle" fill="#333">10<tspan font-size="2.7" dy="-1.6">3</tspan></text>
<line x1="207.1" y1="516.4" x2="207.1" y2="518.6" stroke="#444" stroke-width="0.8"/>
<text x="207.1" y="526.4" font-size="4" text-anchor="middle" fill="#333">10<tspan font-size="2.7" dy="-1.6">4</tspan></text>
<line x1="227.8" y1="516.4" x2="227.8" y2="518.6" stroke="#444" stroke-width="0.8"/>
<text x="227.8" y="526.4" font-size="4" text-anchor="middle" fill="#333">10<tspan font-size="2.7" dy="-1.6">5</tspan></text>
<line x1="149.1" y1="516.4" x2="149.1" y2="517.8" stroke="#777" stroke-width="0.5"/>
<line x1="152.2" y1="516.4" x2="152.2" y2="517.8" stroke="#777" stroke-width="0.5"/>
<line x1="155.3" y1="516.4" x2="155.3" y2="517.8" stroke="#777" stroke-width="0.5"/>
<line x1="158.4" y1="516.4" x2="158.4" y2="517.8" stroke="#777" stroke-width="0.5"/>
<line x1="161.5" y1="516.4" x2="161.5" y2="517.8" stroke="#777" stroke-width="0.5"/>
<line x1="164.6" y1="516.4" x2="164.6" y2="517.8" stroke="#777" stroke-width="0.5"/>
<line x1="167.7" y1="516.4" x2="167.7" y2="517.8" stroke="#777" stroke-width="0.5"/>
<line x1="170.8" y1="516.4" x2="170.8" y2="517.8" stroke="#777" stroke-width="0.5"/>
<line x1="173.9" y1="516.4" x2="173.9" y2="517.8" stroke="#777" stroke-width="0.5"/>
<line x1="177" y1="516.4" x2="177" y2="517.8" stroke="#777" stroke-width="0.5"/>
<line x1="180.1" y1="516.4" x2="180.1" y2="517.8" stroke="#777" stroke-width="0.5"/>
<line x1="183.2" y1="516.4" x2="183.2" y2="517.8" stroke="#777" stroke-width="0.5"/>
<line x1="186.3" y1="516.4" x2="186.3" y2="517.8" stroke="#777" stroke-width="0.5"/>
<line x1="189.4" y1="516.4" x2="189.4" y2="517.8" stroke="#777" stroke-width="0.5"/>
<line x1="192.5" y1="516.4" x2="192.5" y2="517.8" stroke="#777" stroke-width="0.5"/>
<line x1="195.6" y1="516.4" x2="195.6" y2="517.8" stroke="#777" stroke-width="0.5"/>
<line x1="198.7" y1="516.4" x2="198.7" y2="517.8" stroke="#777" stroke-width="0.5"/>
<line x1="201.8" y1="516.4" x2="201.8" y2="517.8" stroke="#777" stroke-width="0.5"/>
<line x1="204.9" y1="516.4" x2="204.9" y2="517.8" stroke="#777" stroke-width="0.5"/>
<line x1="208" y1="516.4" x2="208" y2="517.8" stroke="#777" stroke-width="0.5"/>
<line x1="211.1" y1="516.4" x2="211.1" y2="517.8" stroke="#777" stroke-width="0.5"/>
<line x1="214.2" y1="516.4" x2="214.2" y2="517.8" stroke="#777" stroke-width="0.5"/>
<line x1="217.3" y1="516.4" x2="217.3" y2="517.8" stroke="#777" stroke-width="0.5"/>
<line x1="220.4" y1="516.4" x2="220.4" y2="517.8" stroke="#777" stroke-width="0.5"/>
<line x1="223.5" y1="516.4" x2="223.5" y2="517.8" stroke="#777" stroke-width="0.5"/>
<line x1="226.6" y1="516.4" x2="226.6" y2="517.8" stroke="#777" stroke-width="0.5"/>
<line x1="229.7" y1="516.4" x2="229.7" y2="517.8" stroke="#777" stroke-width="0.5"/>
<line x1="232.8" y1="516.4" x2="232.8" y2="517.8" stroke="#777" stroke-width="0.5"/>
<rect x="164.1" y="516.4" width="4.6" height="2.0" fill="#222"/>
<g transform="translate(250.4 426.7) scale(.1)">
<path d="M127 366h9M135 609h9M123 566h9M306 662h9M111 415h9M334 564h9M65 374h9M690 266h9M769 414h9M723 438h9M56 435h9M189 550h9M262 545h9M710 450h9M160 597h9M735 392h9M264 287h9M666 278h9M451 271h9M668 296h9M761 351h9M240 325h9M207 655h9M288 527h9M688 448h9M237 645h9M179 343h9M253 626h9M724 362h9M648 300h9M102 451h9M157 357h9M333 296h9M186 621h9M502 273h9M711 363h9M273 612h9M165 526h9M646 493h9M759 358h9M673 473h9M611 282h9M627 300h9M281 595h9M192 613h9M270 595h9M204 568h9M156 372h9M356 526h9M231 648h9M128 467h9M691 321h9M208 337h9M691 404h9M216 637h9M158 503h9M139 498h9M215 350h9M235 594h9M109 479h9M534 281h9M650 487h9M268 318h9M161 494h9M548 511h9M173 527h9M144 499h9M200 355h9M191 579h9M693 340h9M252 334h9M257 313h9M185 506h9M312 519h9M163 370h9M701 345h9M685 322h9M648 486h9M525 299h9M349 512h9M550 298h9M668 336h9M196 586h9M595 289h9M612 318h9M225 617h9M605 496h9M116 478h9M689 341h9M685 367h9M399 299h9M343 522h9M629 471h9M387 518h9M216 593h9M444 309h9M207 496h9M205 351h9M236 514h9M595 505h9M622 313h9M206 601h9M272 516h9M391 513h9M526 522h9M172 482h9M594 506h9M300 318h9M428 305h9M139 486h9M191 580h9M583 286h9M546 521h9M224 606h9M288 340h9M673 367h9M495 300h9M269 345h9M159 401h9M481 511h9M484 300h9M328 318h9M195 495h9M251 509h9M392 305h9M209 600h9M591 493h9M665 446h9M301 324h9M592 509h9M478 299h9M327 501h9M651 344h9M564 508h9M419 307h9M228 602h9M589 285h9M393 517h9M297 326h9M488 292h9M682 371h9M158 454h9M690 365h9M651 353h9M182 487h9M656 418h9M228 502h9M594 292h9M310 329h9M172 375h9M672 379h9M188 390h9M204 375h9M349 495h9M523 318h9M160 449h9M455 521h9M583 481h9" stroke="#3b57ca" stroke-width="9" stroke-opacity="0.5" fill="none"/>
<path d="M291 326h9M396 300h9M559 316h9M482 319h9M333 325h9M492 513h9M318 322h9M640 438h9M230 495h9M642 332h9M166 420h9M618 319h9M356 316h9M564 307h9M380 307h9M655 348h9M394 515h9M166 462h9M637 357h9M161 403h9M462 515h9M510 301h9M568 302h9M510 514h9M400 324h9M421 316h9M173 467h9M582 296h9M378 499h9M390 500h9M585 497h9M380 311h9M638 336h9M370 312h9M561 486h9M623 469h9M674 397h9M647 449h9M640 333h9M672 389h9M454 310h9M379 305h9M163 459h9M373 316h9M662 408h9M657 436h9M656 436h9M185 380h9M451 318h9M487 514h9M376 486h9M588 306h9M168 443h9M204 373h9M470 313h9M303 334h9M630 349h9M161 451h9M628 467h9M492 313h9M662 409h9M629 323h9M335 497h9M584 475h9M674 400h9M206 371h9M257 508h9M562 494h9M559 483h9M648 442h9M192 482h9M656 377h9M546 319h9M655 395h9M415 503h9M642 443h9M283 497h9M668 408h9M574 318h9M658 446h9M405 510h9M451 322h9M541 498h9M577 316h9M598 323h9M660 360h9M464 507h9M383 308h9M446 504h9M192 400h9M647 380h9M360 491h9M676 395h9M451 516h9M163 410h9M438 509h9M180 462h9M640 421h9M188 389h9M676 396h9M574 482h9M647 418h9M632 414h9M259 358h9M436 503h9M413 508h9M563 476h9M659 367h9M631 348h9M190 464h9M328 489h9M445 313h9M225 500h9M175 417h9M324 497h9M616 340h9M456 315h9M384 327h9M335 340h9M634 386h9M672 396h9M438 327h9M659 388h9M290 352h9M217 390h9M657 434h9M413 500h9M653 424h9M408 498h9M427 322h9M532 312h9M479 315h9M637 406h9M632 357h9M222 385h9M433 312h9M474 325h9M274 358h9M221 372h9M477 331h9M653 385h9M657 381h9M196 451h9M195 424h9M657 381h9M577 317h9M637 425h9M228 482h9M180 438h9M522 520h9M199 417h9M172 404h9M172 431h9M185 402h9M658 392h9M399 495h9M572 318h9M275 355h9M596 328h9M273 366h9M502 321h9M174 439h9M172 421h9M369 330h9M456 518h9M629 337h9M186 407h9M219 478h9M590 466h9M485 484h9M464 324h9M625 443h9M445 500h9M454 512h9M629 407h9M410 345h9M422 328h9M640 431h9M534 508h9M240 493h9M328 340h9M622 332h9M576 484h9M503 501h9M490 320h9M261 506h9M496 327h9M471 492h9M204 470h9M367 327h9M608 330h9M491 325h9M241 378h9M370 322h9M184 404h9" stroke="#3a5ccd" stroke-width="9" stroke-opacity="0.6" fill="none"/>
<path d="M325 499h9M639 438h9M414 489h9M164 419h9M258 364h9M536 487h9M440 491h9M529 502h9M578 312h9M522 505h9M468 328h9M413 496h9M319 346h9M616 456h9M217 470h9M194 396h9M640 393h9M225 375h9M485 326h9M500 323h9M459 506h9M626 367h9M177 468h9M547 483h9M436 323h9M629 448h9M637 438h9M427 318h9M194 455h9M276 492h9M506 490h9M642 353h9M297 358h9M191 426h9M317 334h9M201 474h9M391 480h9M395 331h9M575 472h9M195 462h9M184 459h9M449 505h9M539 483h9M233 482h9M209 401h9M438 338h9M395 329h9M509 509h9M307 351h9M210 411h9M365 481h9M407 338h9M234 480h9M260 503h9M611 346h9M637 394h9M312 350h9M440 336h9M624 440h9M490 495h9M368 344h9M187 404h9M253 492h9M369 488h9M261 354h9M373 341h9M315 358h9M208 470h9M375 485h9M268 485h9M453 483h9M386 488h9M614 351h9M385 322h9M622 371h9M522 495h9M189 432h9M444 498h9M524 480h9M583 340h9M353 331h9M212 409h9M186 445h9M625 367h9M192 424h9M524 496h9M359 333h9M339 349h9M524 321h9M564 489h9M559 330h9M603 332h9M251 368h9M215 404h9M224 486h9M237 471h9M362 336h9M242 477h9M314 487h9M613 390h9M408 497h9M222 389h9M528 500h9M523 323h9M246 490h9M537 484h9M356 345h9M202 427h9M638 389h9M522 329h9M581 326h9M236 383h9M228 389h9M425 490h9M372 473h9M613 424h9M502 326h9M369 344h9M622 352h9M627 403h9M179 410h9M190 445h9M604 332h9M411 494h9M624 342h9M564 467h9M622 388h9M549 323h9M449 496h9M208 466h9M343 357h9M190 446h9M609 466h9M357 337h9M349 361h9M620 396h9M615 452h9M624 438h9M329 473h9M396 339h9M216 461h9M603 452h9M325 349h9M287 363h9M190 454h9M523 494h9M591 468h9M247 397h9M446 492h9M484 332h9M425 492h9M232 388h9M382 332h9M236 442h9M565 484h9M621 395h9M220 405h9M554 331h9M264 496h9M454 331h9M226 469h9M555 325h9M258 477h9M383 333h9M568 481h9M545 336h9M244 456h9M356 367h9M293 489h9M632 377h9M423 349h9M569 476h9M612 397h9M188 404h9M308 356h9M480 483h9M360 489h9M463 484h9M292 488h9M614 428h9M473 338h9M454 488h9M229 413h9M253 495h9M209 469h9M578 463h9M229 409h9M263 491h9M361 337h9M542 481h9M246 470h9M182 455h9M493 492h9M439 464h9M267 371h9M421 342h9M223 408h9M575 446h9M453 475h9M368 333h9M620 379h9M364 471h9M453 498h9M301 365h9M553 464h9M335 359h9M470 357h9M434 339h9M343 352h9M616 375h9M396 348h9M335 344h9M468 489h9M250 482h9M315 485h9M408 486h9M245 494h9M450 470h9M215 430h9M521 492h9M327 353h9M433 481h9M440 333h9M198 421h9M434 474h9M481 488h9M258 454h9M423 473h9M410 488h9M423 333h9M376 348h9M277 463h9M603 457h9M579 475h9M501 342h9M308 488h9M338 471h9M212 422h9M347 476h9M441 493h9M222 424h9M215 403h9M326 361h9M213 426h9M234 384h9M273 377h9M437 333h9M385 348h9M197 439h9" stroke="#3861d0" stroke-width="9" stroke-opacity="0.75" fill="none"/>
<path d="M172 459h9M508 480h9M602 460h9M531 480h9M366 471h9M225 415h9M578 451h9M494 493h9M265 485h9M352 359h9M374 340h9M259 448h9M334 349h9M620 402h9M229 453h9M223 450h9M416 456h9M519 336h9M254 478h9M593 346h9M403 475h9M228 385h9M479 346h9M582 324h9M570 474h9M235 465h9M383 360h9M282 490h9M188 430h9M597 454h9M257 489h9M206 447h9M606 357h9M271 486h9M513 491h9M434 470h9M321 358h9M292 489h9M620 385h9M615 440h9M580 480h9M647 398h9M536 326h9M417 346h9M616 350h9M416 472h9M612 440h9M254 458h9M557 339h9M388 461h9M203 438h9M407 479h9M605 407h9M577 345h9M608 350h9M574 358h9M389 353h9M467 342h9M356 475h9M519 486h9M607 426h9M442 498h9M202 446h9M613 370h9M625 371h9M613 350h9M380 353h9M250 372h9M263 373h9M206 439h9M223 455h9M430 461h9M602 443h9M437 473h9M584 455h9M534 332h9M243 460h9M462 349h9M625 369h9M411 356h9M617 391h9M605 450h9M213 447h9M457 342h9M208 420h9M441 349h9M424 471h9M292 370h9M454 485h9M354 478h9M391 343h9M436 473h9M233 470h9M445 364h9M429 346h9M234 442h9M603 411h9M234 443h9M367 476h9M630 361h9M303 370h9M425 343h9M307 487h9M483 341h9M496 346h9M238 422h9M204 443h9M486 477h9M454 352h9M215 408h9M592 383h9M582 344h9M576 384h9M213 458h9M484 484h9M265 477h9M229 431h9M477 347h9M506 345h9M617 378h9M383 462h9M598 350h9M614 454h9M593 340h9M193 430h9M581 333h9M572 453h9M265 470h9M447 358h9M372 451h9M571 349h9M478 473h9M415 471h9M282 371h9M239 453h9M261 461h9M365 473h9M287 485h9M296 472h9M454 358h9M329 358h9M577 456h9M341 346h9M224 465h9M506 333h9M461 474h9M397 443h9M519 341h9M266 489h9M467 481h9M254 372h9M589 356h9M264 368h9M555 332h9M566 331h9M522 339h9M397 466h9M517 339h9M409 351h9M233 396h9M615 363h9M236 460h9M294 372h9M494 355h9M378 473h9M569 453h9M613 391h9M602 456h9M357 359h9M241 422h9M235 400h9M298 488h9M567 347h9M534 475h9M442 351h9M365 360h9M577 361h9M530 481h9M270 434h9M597 457h9M429 472h9M382 473h9M600 362h9M618 413h9M262 471h9M367 362h9M580 455h9M207 466h9M561 338h9M471 357h9M228 421h9M409 343h9M602 451h9M556 470h9M211 404h9M578 428h9M514 476h9M578 333h9M606 392h9M233 400h9M209 468h9M226 423h9M266 485h9M286 376h9M516 483h9M585 407h9M401 343h9M248 390h9M238 449h9M441 449h9M239 417h9M228 448h9M231 402h9M263 477h9M425 341h9M405 477h9M381 461h9M445 468h9M594 351h9M543 471h9M316 487h9M475 467h9M388 456h9M271 469h9M473 356h9M491 484h9M608 438h9M520 332h9M613 442h9M257 370h9M193 439h9M248 392h9M468 349h9M530 476h9M295 480h9M222 409h9M464 472h9M351 470h9M225 458h9M252 377h9M224 457h9M263 476h9M394 466h9M227 425h9M582 449h9M600 351h9M266 482h9M325 377h9M475 346h9M595 369h9M236 389h9M608 449h9M236 464h9M376 363h9M387 460h9M365 350h9M512 337h9M425 358h9M440 354h9M366 467h9M429 345h9M610 382h9M252 377h9M311 467h9M288 485h9M235 429h9M364 376h9M225 398h9M600 397h9M499 344h9M393 459h9M226 440h9M477 471h9M431 467h9M358 392h9M539 467h9M224 457h9M533 339h9M303 481h9M443 356h9M621 412h9M597 377h9M248 453h9M354 376h9M383 431h9M594 433h9M469 343h9M199 445h9M247 441h9M366 376h9M338 457h9M378 402h9M419 464h9M366 358h9M606 387h9M392 358h9M271 479h9M603 411h9M554 462h9M403 474h9M372 460h9M608 437h9M593 402h9M417 361h9M268 378h9M600 430h9M349 374h9M623 382h9M314 461h9M495 481h9M309 490h9M541 337h9M242 382h9M588 442h9M253 384h9M403 462h9" stroke="#396ed3" stroke-width="9" fill="none"/>
<path d="M569 388h9M416 465h9M438 346h9M601 433h9M259 455h9M571 352h9M444 349h9M394 360h9M274 482h9M402 346h9M540 454h9M596 399h9M249 411h9M584 447h9M269 456h9M406 463h9M390 367h9M587 369h9M259 470h9M348 448h9M400 476h9M501 481h9M495 460h9M348 368h9M417 362h9M625 378h9M523 349h9M388 458h9M331 424h9M589 414h9M361 350h9M603 396h9M449 359h9M253 376h9M588 360h9M349 406h9M448 372h9M281 473h9M261 399h9M250 456h9M345 359h9M448 464h9M551 346h9M379 479h9M509 355h9M595 384h9M244 434h9M266 407h9M406 461h9M617 404h9M558 342h9M501 473h9M620 422h9M553 451h9M403 471h9M350 352h9M528 478h9M243 397h9M458 467h9M508 475h9M571 333h9M378 350h9M521 357h9M346 454h9M364 354h9M205 427h9M235 437h9M222 447h9M551 457h9M273 469h9M535 337h9M497 357h9M247 478h9M595 392h9M397 346h9M548 451h9M379 454h9M268 384h9M541 469h9M218 458h9M622 384h9M581 430h9M276 454h9M461 467h9M549 353h9M248 414h9M514 345h9M346 451h9M368 463h9M266 435h9M260 378h9M325 375h9M487 446h9M313 476h9M282 475h9M536 355h9M380 431h9M391 364h9M426 450h9M349 370h9M261 387h9M528 333h9M610 434h9M569 453h9M269 489h9M617 405h9M245 470h9M341 459h9M340 475h9M261 431h9M458 375h9M360 459h9M345 352h9M238 397h9M399 473h9M399 448h9M566 466h9M313 382h9M598 427h9M235 398h9M496 480h9M357 392h9M382 467h9M372 385h9M232 394h9M513 467h9M272 374h9M400 353h9M502 448h9M539 464h9M600 455h9M315 374h9M396 386h9M584 374h9M595 431h9M385 413h9M467 463h9M297 378h9M557 354h9M467 464h9M548 363h9M600 403h9M594 343h9M274 387h9M599 366h9M243 476h9M484 477h9M378 432h9M591 416h9M445 457h9M439 447h9M389 354h9M583 346h9M377 464h9M600 432h9M544 348h9M598 435h9M517 375h9M590 395h9M603 406h9M237 431h9M247 438h9M418 462h9M471 353h9M595 384h9M419 465h9M495 471h9M232 421h9M383 371h9M322 387h9M589 345h9M596 442h9M397 351h9M470 368h9M475 358h9M353 447h9M306 371h9M546 343h9M583 403h9M568 347h9M241 406h9M317 403h9M238 419h9M253 439h9M491 365h9M558 374h9M254 394h9M326 372h9M365 386h9M574 408h9M537 445h9M349 378h9M223 436h9M600 349h9M266 374h9M503 367h9M366 367h9M490 475h9M394 355h9M366 387h9M371 435h9M443 341h9M554 345h9M467 366h9M598 447h9M400 442h9M582 348h9M513 472h9M396 449h9M442 477h9M407 451h9M293 476h9M294 454h9M572 361h9M583 386h9M463 462h9M396 455h9M591 429h9M368 394h9M563 353h9M283 467h9M252 390h9M442 401h9M342 468h9M446 390h9M239 403h9M462 348h9M551 349h9M426 468h9M594 423h9M271 468h9M359 387h9M335 464h9M485 461h9M439 450h9M464 449h9M605 406h9M558 454h9M331 472h9M310 451h9M238 410h9M393 370h9M256 398h9M352 392h9M565 376h9M376 458h9M593 382h9M458 377h9M327 371h9M336 382h9M456 370h9M593 403h9M263 390h9M602 423h9M379 458h9M298 469h9M432 476h9M252 415h9M600 449h9M588 349h9M575 431h9M347 373h9M256 427h9M341 458h9M360 469h9M497 355h9M485 355h9M542 446h9M304 362h9M364 364h9M318 477h9M586 374h9M331 367h9M455 369h9M220 452h9M291 374h9M311 465h9M257 421h9M465 368h9M447 353h9M420 463h9M520 471h9M423 364h9M578 394h9M477 360h9M472 468h9M291 378h9M360 462h9M591 360h9M451 354h9M495 378h9M376 390h9M349 374h9M362 443h9M518 466h9M466 427h9M564 380h9M256 389h9M521 477h9M410 454h9M421 373h9M293 376h9M425 365h9M329 395h9M540 455h9M597 350h9M441 456h9M390 363h9M279 470h9M445 441h9M515 333h9M426 367h9M355 461h9M277 387h9M468 460h9M265 379h9M262 428h9M576 416h9M428 442h9M594 432h9M312 431h9M369 435h9M363 456h9M361 405h9M332 398h9M523 463h9M562 398h9M300 397h9M291 454h9M329 464h9M579 447h9M473 468h9M522 370h9M470 453h9M593 354h9M268 400h9" stroke="#3d87d5" stroke-width="9" fill="none"/>
<path d="M341 387h12M231 413h12M526 331h12M493 385h12M580 448h12M356 381h12M586 384h12M460 433h12M416 364h12M590 436h12M540 473h12M445 408h12M240 436h12M358 458h12M364 377h12M562 367h12M321 469h12M368 367h12M386 356h12M361 372h12M464 457h12M398 365h12M575 384h12M269 425h12M429 451h12M321 476h12M386 369h12M286 430h12M362 360h12M530 361h12M337 369h12M351 389h12M609 425h12M372 389h12M577 425h12M569 393h12M352 445h12M580 378h12M243 414h12M378 384h12M268 409h12M414 469h12M466 456h12M602 448h12M554 365h12M533 345h12M280 387h12M391 447h12M373 407h12M512 348h12M557 467h12M448 431h12M437 447h12M584 407h12M284 392h12M596 366h12M324 375h12M363 453h12M586 399h12M586 421h12M551 448h12M459 452h12M539 365h12M400 373h12M543 354h12M325 460h12M265 442h12M310 434h12M306 370h12M307 466h12M561 453h12M581 341h12M579 350h12M512 344h12M356 426h12M486 467h12M413 371h12M221 442h12M341 447h12M324 381h12M579 402h12M347 378h12M564 377h12M318 382h12M499 363h12M463 392h12M379 372h12M595 365h12M497 376h12M573 341h12M439 442h12M372 379h12M273 456h12M550 376h12M537 364h12M540 359h12M590 433h12M233 446h12M584 392h12M567 384h12M480 453h12M458 419h12M570 429h12M528 350h12M368 358h12M601 412h12M479 357h12M267 423h12M458 365h12M449 426h12M444 387h12M557 360h12M291 396h12M374 396h12M253 435h12M491 477h12M589 395h12M577 365h12M519 352h12M536 341h12M560 365h12M502 433h12M482 341h12M477 456h12M605 400h12M492 473h12M493 487h12M552 372h12M328 443h12M544 348h12M433 375h12M315 460h12M460 466h12M567 375h12M568 410h12M550 346h12M370 449h12M505 460h12M433 398h12M435 370h12M360 377h12M436 364h12M400 432h12M549 351h12M268 461h12M316 397h12M424 405h12M559 367h12M457 401h12M457 443h12M340 384h12M561 432h12M369 455h12M388 371h12M297 472h12M425 364h12M600 376h12M270 470h12M467 467h12M276 423h12M276 388h12M576 433h12M545 442h12M570 360h12M535 455h12M272 393h12M260 417h12M438 422h12M549 454h12M319 460h12M293 464h12M577 415h12M404 377h12M502 354h12M278 444h12M462 361h12M347 434h12M576 440h12M415 395h12M514 351h12M512 454h12M414 439h12M568 439h12M390 399h12M411 376h12M525 351h12M484 361h12M268 428h12M570 429h12M258 412h12M532 367h12M298 456h12M330 382h12M342 383h12M394 350h12M535 346h12M594 354h12M487 434h12M382 438h12M584 407h12M534 351h12M264 473h12M413 382h12M376 434h12M297 387h12M597 416h12M419 364h12M574 371h12M315 464h12M342 442h12M443 396h12M333 400h12M507 477h12M397 454h12M524 367h12M434 371h12M358 409h12M412 461h12M476 461h12M568 417h12M383 363h12M348 414h12M295 476h12M325 389h12M443 413h12M454 367h12M523 348h12M333 383h12M420 409h12M488 418h12M568 359h12M297 424h12M440 403h12M476 462h12M292 398h12M532 374h12M494 462h12M497 473h12M365 424h12M241 445h12M364 477h12M284 397h12M306 396h12M348 463h12M378 434h12M396 442h12M427 448h12M583 421h12M502 460h12M589 352h12M546 364h12M287 418h12M432 375h12M501 469h12M591 433h12M513 478h12M539 360h12M316 466h12M478 461h12M309 389h12M552 398h12M595 423h12M564 445h12M387 392h12M451 447h12M575 450h12M352 421h12M295 388h12M477 468h12M307 384h12M415 443h12M503 453h12M324 378h12M598 401h12M301 475h12M331 398h12M396 379h12M608 379h12M299 406h12M353 456h12M325 385h12M490 451h12M427 374h12M294 384h12M542 444h12M283 451h12M378 438h12M470 378h12M322 372h12M330 402h12M587 396h12M347 374h12M548 358h12M492 366h12M349 421h12M472 453h12M402 381h12M340 424h12M448 387h12M433 425h12M513 454h12M562 364h12M552 390h12M388 388h12M473 447h12M297 470h12M566 410h12M521 354h12M576 423h12M381 441h12M587 353h12M355 402h12M380 401h12M291 385h12M485 454h12M289 428h12M347 458h12M249 426h12M508 367h12M471 402h12M426 385h12M310 463h12M370 432h12M391 390h12M412 435h12M268 419h12M541 376h12M422 422h12M293 460h12M355 464h12M369 403h12M572 444h12M481 419h12M407 402h12M392 377h12M256 411h12M583 374h12M547 433h12M363 449h12M484 461h12M419 455h12M374 386h12M505 374h12M525 375h12M475 448h12M452 390h12M348 453h12M273 392h12M586 432h12M369 397h12M568 355h12M330 435h12M574 437h12M578 379h12M410 443h12M293 377h12M423 373h12M566 341h12M522 445h12M496 436h12M274 386h12M495 437h12M558 402h12M357 422h12M450 365h12M325 447h12M303 390h12M545 402h12M312 376h12M316 393h12M482 409h12M569 426h12M272 402h12M577 411h12M411 379h12M266 425h12M380 404h12M503 475h12M511 464h12M568 358h12M386 438h12M600 365h12M299 437h12M340 396h12M388 376h12M415 438h12M570 376h12M417 415h12M554 352h12M298 397h12M376 390h12M496 423h12M512 440h12" stroke="#429fd2" stroke-width="12" fill="none"/>
<path d="M515 358h12M294 396h12M367 417h12M502 460h12M354 409h12M272 423h12M413 436h12M273 410h12M265 417h12M337 432h12M574 364h12M290 444h12M457 385h12M431 397h12M448 405h12M532 365h12M556 434h12M394 448h12M479 379h12M503 384h12M460 404h12M482 452h12M604 359h12M483 469h12M585 406h12M552 386h12M275 430h12M279 390h12M273 416h12M455 395h12M457 364h12M584 410h12M522 364h12M313 395h12M375 441h12M362 448h12M482 381h12M484 447h12M571 427h12M526 350h12M481 452h12M314 442h12M341 401h12M328 415h12M424 421h12M440 382h12M387 424h12M588 426h12M439 430h12M345 457h12M418 382h12M456 449h12M320 377h12M375 424h12M359 449h12M424 456h12M412 388h12M297 449h12M582 366h12M318 446h12M567 380h12M474 456h12M530 456h12M253 426h12M496 449h12M353 427h12M567 356h12M474 362h12M290 417h12M454 407h12M433 408h12M463 394h12M398 395h12M416 432h12M544 394h12M262 415h12M570 390h12M494 440h12M507 444h12M273 447h12M272 465h12M483 428h12M337 417h12M493 474h12M319 392h12M524 368h12M305 434h12M273 426h12M392 425h12M279 445h12M453 426h12M438 441h12M410 411h12M287 459h12M573 421h12M474 399h12M257 430h12M276 405h12M568 385h12M377 435h12M383 393h12M428 383h12M468 437h12M305 446h12M357 439h12M277 435h12M260 420h12M311 410h12M567 431h12M273 391h12M453 361h12M281 458h12M313 452h12M309 388h12M423 439h12M309 393h12M396 369h12M441 444h12M339 390h12M534 341h12M512 462h12M290 423h12M361 423h12M558 373h12M368 414h12M286 387h12M484 369h12M329 434h12M364 415h12M345 397h12M300 426h12M506 370h12M338 416h12M371 431h12M439 377h12M462 426h12M565 407h12M520 386h12M516 449h12M402 375h12M276 459h12M544 435h12M269 425h12M432 421h12M572 413h12M278 406h12M342 404h12M563 401h12M360 445h12M482 387h12M339 403h12M428 437h12M368 422h12M359 399h12M307 436h12M432 437h12M327 452h12M466 398h12M286 407h12M334 380h12M556 404h12M428 434h12M513 366h12M482 364h12M487 456h12M468 425h12M389 384h12M314 461h12M457 374h12M400 379h12M493 435h12M409 365h12M570 406h12M394 412h12M370 427h12M289 469h12M305 467h12M474 442h12M501 368h12M537 381h12M277 402h12M435 444h12M366 419h12M515 428h12M353 387h12M518 469h12M488 379h12M482 456h12M462 457h12M457 379h12M546 374h12M262 416h12M509 383h12M533 444h12M352 410h12M368 410h12M559 430h12M282 388h12M338 379h12M358 398h12M503 461h12M246 439h12M443 433h12M271 455h12M457 374h12M324 405h12M316 378h12M447 397h12M444 427h12M496 417h12M399 428h12M456 408h12M484 378h12M413 403h12M298 462h12M554 446h12M325 444h12M415 423h12M366 392h12M292 462h12M444 411h12M393 389h12M283 388h12M272 443h12M311 418h12M457 439h12M555 386h12M277 427h12M342 422h12M352 431h12M311 401h12M475 385h12M414 382h12M559 408h12M531 383h12M536 455h12M397 434h12M319 455h12M456 455h12M270 383h12M376 447h12M315 424h12M282 447h12M502 463h12M520 353h12M327 451h12M432 415h12M575 362h12M378 436h12M564 431h12M341 438h12M483 387h12M531 382h12M460 371h12M354 393h12M437 378h12M437 445h12M506 392h12M461 371h12M454 431h12M318 400h12M337 436h12M387 406h12M458 423h12M432 434h12M434 393h12M468 377h12M506 453h12M572 427h12M474 422h12M588 425h12M470 445h12M490 390h12M451 435h12M511 366h12M274 432h12M422 391h12M468 387h12M315 451h12M400 366h12M546 400h12M381 441h12M567 413h12M427 371h12M295 413h12M581 399h12M526 383h12M473 381h12M381 434h12M550 437h12M582 424h12M588 379h12M502 434h12M495 444h12M292 456h12M601 382h12M322 398h12M544 448h12M474 455h12M419 439h12M492 433h12M447 389h12M333 391h12M306 397h12M297 422h12M298 402h12M276 438h12M296 401h12M500 451h12M568 435h12M478 448h12M423 409h12M291 423h12M299 419h12M523 442h12M453 383h12M431 450h12M448 393h12M387 402h12M368 398h12M479 400h12M500 447h12M293 409h12M559 372h12M316 398h12M270 430h12M280 438h12M475 414h12M569 390h12M510 465h12M446 401h12M574 381h12M450 384h12M513 466h12M305 389h12M498 461h12M271 415h12M287 457h12M451 432h12M504 362h12M528 446h12M280 405h12M377 426h12M473 451h12M305 437h12M296 458h12M306 412h12M385 383h12M287 462h12M497 377h12M333 412h12M332 408h12M486 466h12M274 428h12M433 392h12M499 440h12M587 381h12M273 420h12M530 437h12M436 433h12M508 361h12M301 413h12M469 447h12M581 375h12M459 447h12M435 420h12M468 428h12M408 370h12M474 398h12M344 415h12M519 446h12M495 432h12M494 433h12M546 395h12M511 366h12M532 442h12M344 420h12M293 451h12M399 393h12M302 461h12M472 376h12M425 379h12M410 433h12M555 447h12M365 419h12M460 450h12M439 417h12M400 394h12M279 386h12M348 416h12M525 453h12M417 431h12M297 415h12M283 421h12M562 422h12M551 401h12M498 370h12M359 417h12M544 389h12M466 371h12M458 428h12M390 409h12M467 380h12M502 367h12M304 388h12M448 437h12M427 437h12M416 432h12M447 421h12M321 419h12M277 414h12M484 376h12M421 381h12M279 396h12M463 416h12M336 439h12M395 427h12M429 420h12M417 426h12M507 354h12M389 426h12M407 382h12M422 427h12M323 420h12M339 444h12M330 455h12M398 417h12M394 363h12M560 397h12M481 451h12M413 412h12M569 437h12M462 407h12M349 393h12M261 427h12M520 457h12M534 433h12M562 404h12M471 430h12M496 410h12M507 455h12M489 439h12M456 402h12M275 393h12M334 446h12M428 460h12M387 385h12M512 371h12M328 442h12M414 378h12M421 372h12M385 393h12M264 427h12M444 442h12M542 399h12M284 417h12M283 442h12M406 437h12M524 359h12M485 445h12M480 374h12M522 382h12M547 401h12M330 400h12M406 431h12M388 404h12M306 467h12M462 378h12M299 456h12M477 438h12M288 407h12M339 439h12M420 391h12M348 398h12M428 457h12M514 444h12M335 388h12M321 447h12M442 432h12" stroke="#48b4b7" stroke-width="12" fill="none"/>
<path d="M446 402h12M402 379h12M379 399h12M559 380h12M323 468h12M379 419h12M302 391h12M329 392h12M564 381h12M313 392h12M410 413h12M554 426h12M353 420h12M463 392h12M361 399h12M380 379h12M565 411h12M407 381h12M330 440h12M342 410h12M540 390h12M496 372h12M482 372h12M569 381h12M301 420h12M323 460h12M538 387h12M352 456h12M435 416h12M346 407h12M280 410h12M281 413h12M384 408h12M441 389h12M438 417h12M283 433h12M503 369h12M324 395h12M415 394h12M407 418h12M310 428h12M441 432h12M466 425h12M455 397h12M270 410h12M417 371h12M398 420h12M403 381h12M308 469h12M273 443h12M564 430h12M291 390h12M505 426h12M309 402h12M330 442h12M261 415h12M400 406h12M547 404h12M491 465h12M520 442h12M549 383h12M558 425h12M375 430h12M416 389h12M540 397h12M520 441h12M462 401h12M485 392h12M348 435h12M304 397h12M565 419h12M574 428h12M426 429h12M346 409h12M500 465h12M461 389h12M272 419h12M529 406h12M554 438h12M400 395h12M301 452h12M335 419h12M502 437h12M279 413h12M298 394h12M310 404h12M420 406h12M501 380h12M416 388h12M419 412h12M436 398h12M488 362h12M487 410h12M464 415h12M442 434h12M316 435h12M472 399h12M526 442h12M398 401h12M507 366h12M263 434h12M556 427h12M519 456h12M294 458h12M462 416h12M311 402h12M387 409h12M534 396h12M327 445h12M403 421h12M407 371h12M551 383h12M274 454h12M292 393h12M343 442h12M304 428h12M510 387h12M551 425h12M538 425h12M320 412h12M524 450h12M467 410h12M486 393h12M333 410h12M442 434h12M533 394h12M434 395h12M368 433h12M465 430h12M280 406h12M420 415h12M401 375h12M302 439h12M309 428h12M348 415h12M328 399h12M555 440h12M515 415h12M289 448h12M488 413h12M567 439h12M525 468h12M501 437h12M289 412h12M464 382h12M408 402h12M323 395h12M396 400h12M467 397h12M330 395h12M411 422h12M539 351h12M339 413h12M433 385h12M550 397h12M325 408h12M523 360h12M322 441h12M396 389h12M357 450h12M353 413h12M295 435h12M540 370h12M314 405h12M379 424h12M406 419h12M508 411h12M303 391h12M290 393h12M585 377h12M541 414h12M466 430h12M543 438h12M416 434h12M396 396h12M429 427h12M500 468h12M425 430h12M478 430h12M572 425h12M565 399h12M506 370h12M339 456h12M445 412h12M483 388h12M463 394h12M438 416h12M447 429h12M427 430h12M510 384h12M409 408h12M494 429h12M272 403h12M397 421h12M524 458h12M303 417h12M273 401h12M425 414h12M511 430h12M434 404h12M424 386h12M409 413h12M400 435h12M417 399h12M353 447h12M454 379h12M381 413h12M456 375h12M280 431h12M510 386h12M335 438h12M478 376h12M375 404h12M477 417h12M517 366h12M549 400h12M394 396h12M396 395h12M474 427h12M483 386h12M457 367h12M513 418h12M466 387h12M465 366h12M314 426h12M463 436h12M391 415h12M437 392h12M534 394h12M403 374h12M500 433h12M294 457h12M389 423h12M491 429h12M279 430h12M307 448h12M389 411h12M347 419h12M338 408h12M428 394h12M278 414h12M417 431h12M477 409h12M494 372h12M331 409h12M493 371h12M479 422h12M520 365h12M390 425h12M510 376h12M504 414h12M418 392h12M466 452h12M485 462h12M548 428h12M306 436h12M470 424h12M510 384h12M548 406h12M521 445h12M521 388h12M440 419h12M516 422h12M357 426h12M516 382h12M391 418h12M454 422h12M509 459h12M442 411h12M438 413h12M425 382h12M482 364h12M503 469h12M535 432h12M329 421h12M407 421h12M577 374h12M386 430h12M486 443h12M401 416h12M424 381h12M362 401h12M553 381h12M328 417h12M424 433h12M550 423h12M367 440h12M479 404h12M284 420h12M485 409h12M325 417h12M531 415h12M331 436h12M549 427h12M390 429h12M312 420h12M353 401h12M470 438h12M417 435h12M464 408h12M489 399h12M294 408h12M547 410h12M483 387h12M333 424h12M450 421h12M331 431h12M421 415h12M367 398h12M285 428h12M425 400h12M514 434h12M522 384h12M383 423h12M532 379h12M450 448h12M406 399h12M517 378h12M448 406h12M490 428h12M487 406h12M494 409h12M497 428h12M398 421h12M409 404h12M466 436h12M466 426h12M493 417h12M470 401h12M449 401h12M327 420h12M491 375h12M412 384h12M327 431h12M315 444h12M526 376h12M454 432h12M302 430h12M397 387h12M304 436h12M300 438h12M551 401h12M518 373h12M465 436h12M314 398h12M505 450h12M415 422h12M447 393h12M341 422h12M305 435h12M392 402h12M333 409h12M490 394h12M495 376h12M526 440h12M509 449h12M304 434h12" stroke="#51c18f" stroke-width="12" fill="none"/>
<path d="M493 363h12M498 421h12M522 421h12M523 443h12M325 399h12M303 411h12M521 417h12M273 444h12M586 364h12M288 444h12M524 376h12M398 379h12M482 387h12M281 441h12M428 398h12M514 458h12M370 427h12M301 422h12M369 430h12M518 385h12M309 427h12M522 430h12M466 369h12M533 421h12M420 390h12M347 416h12M332 430h12M381 421h12M545 437h12M326 420h12M496 385h12M330 441h12M276 439h12M523 434h12M426 390h12M498 446h12M343 410h12M436 413h12M517 444h12M563 398h12M537 445h12M510 414h12M545 433h12M306 425h12M545 438h12M399 438h12M556 427h12M316 405h12M292 410h12M293 443h12M504 420h12M408 405h12M529 398h12M391 407h12M426 425h12M519 435h12M342 387h12M526 391h12M489 416h12M436 383h12M472 406h12M508 392h12M365 438h12M475 385h12M297 391h12M438 397h12M522 431h12M502 416h12M472 394h12M321 431h12M554 401h12M419 383h12M496 435h12M463 421h12M301 405h12M262 415h12M558 429h12M467 399h12M511 437h12M353 426h12M564 421h12M418 415h12M324 426h12M422 424h12M518 411h12M300 407h12M393 406h12M295 408h12M472 424h12M415 427h12M551 429h12M493 407h12M483 434h12M385 423h12M267 402h12M543 437h12M522 445h12M415 407h12M561 390h12M332 433h12M382 443h12M514 365h12M522 383h12M324 409h12M517 401h12M390 383h12M302 449h12M524 422h12M401 409h12M343 421h12M549 420h12M551 436h12M307 436h12M529 388h12M419 430h12M540 392h12M496 440h12M435 450h12M285 459h12M312 452h12M459 373h12M564 430h12M304 444h12M538 400h12M340 396h12M392 421h12M450 419h12M523 396h12M532 401h12M345 400h12M452 429h12M510 393h12M305 411h12M485 402h12M549 362h12M433 427h12M389 417h12M427 432h12M304 408h12M491 429h12M383 415h12M514 395h12M448 420h12M466 401h12M462 412h12M475 408h12M485 402h12M384 428h12M278 400h12M467 424h12M305 436h12M482 383h12M467 382h12M284 413h12M399 404h12M483 416h12M293 415h12M394 424h12M311 440h12M530 415h12M437 406h12M404 403h12M455 444h12M525 460h12M499 411h12M318 409h12M508 375h12M368 405h12M494 406h12M326 447h12M407 399h12M408 419h12M516 437h12M550 401h12M487 401h12M485 389h12M327 441h12M520 437h12M470 380h12M298 440h12M314 427h12M507 376h12M527 429h12M486 427h12M517 399h12M477 387h12M500 399h12M304 422h12M319 421h12M422 393h12M496 444h12M507 445h12M417 400h12M330 441h12M487 398h12M502 403h12M552 420h12M512 427h12M521 395h12M558 399h12M423 406h12M531 425h12M302 440h12M492 404h12M420 398h12M402 394h12M475 410h12M498 391h12M476 385h12M492 396h12M540 383h12M303 434h12M551 437h12M499 418h12M461 394h12M541 427h12M504 426h12M539 418h12M487 434h12M523 429h12M522 429h12M528 432h12M416 377h12M456 429h12M513 432h12M479 427h12M559 417h12M384 404h12M521 433h12M559 419h12M498 386h12M343 426h12M523 371h12M514 430h12M309 450h12M474 391h12M431 410h12M329 414h12M305 412h12M486 408h12M504 410h12M459 392h12M470 428h12M335 421h12M371 429h12M396 416h12M301 466h12M316 417h12M505 405h12M513 377h12M447 438h12M510 430h12M493 413h12M547 428h12M435 388h12M468 377h12M474 416h12M533 410h12M401 427h12M471 376h12M302 427h12M440 426h12" stroke="#5dc75a" stroke-width="12" fill="none"/>
<path d="M302 432h12M426 433h12M551 428h12M517 400h12M537 411h12M463 416h12M526 383h12M472 393h12M353 440h12M384 412h12M478 398h12M548 402h12M472 454h12M512 454h12M503 378h12M453 432h12M478 405h12M509 398h12M294 439h12M526 391h12M375 403h12M339 416h12M440 434h12M330 422h12M538 372h12M519 416h12M345 425h12M376 401h12M403 385h12M409 382h12M306 414h12M292 452h12M295 424h12M481 444h12M305 412h12M507 412h12M313 415h12M507 400h12M504 413h12M529 429h12M537 424h12M452 426h12M473 375h12M458 433h12M411 388h12M452 433h12M533 417h12M329 415h12M467 386h12M469 393h12M341 422h12M506 385h12M559 396h12M522 387h12M406 401h12M317 437h12M556 423h12M510 399h12M561 429h12M492 404h12M467 419h12M317 448h12M346 446h12M543 392h12M536 405h12M294 436h12M398 410h12M490 407h12M519 452h12M427 429h12M523 418h12M510 395h12M527 412h12M311 431h12M527 369h12M450 400h12M496 441h12M305 425h12M481 403h12M381 417h12M517 433h12M515 393h12M521 437h12M450 439h12M536 395h12M406 411h12M532 417h12M302 426h12M517 407h12M405 394h12M283 430h12M327 425h12M480 396h12M517 412h12M340 420h12M499 415h12M312 433h12M512 396h12M533 397h12M522 383h12M510 376h12M540 435h12M513 406h12M358 427h12M527 420h12M353 418h12M473 409h12M396 409h12M517 415h12M522 397h12M281 407h12M517 444h12M442 427h12M399 395h12M515 449h12M286 444h12M428 425h12M380 407h12M516 404h12M521 430h12M544 420h12M519 396h12M330 426h12M470 396h12M516 393h12M321 435h12M520 393h12M293 446h12M506 414h12M503 382h12M397 397h12M395 417h12M534 427h12M416 425h12M549 416h12M522 398h12M533 418h12M409 427h12M542 384h12M516 414h12M316 441h12M509 420h12M531 447h12M296 441h12M282 415h12" stroke="#87ce41" stroke-width="12" fill="none"/>
<path d="M481 401h12M539 412h12M527 444h12M537 407h12M504 415h12M523 406h12M536 427h12M533 430h12M558 421h12M318 433h12M476 405h12M387 423h12M521 415h12M480 405h12M524 398h12M408 402h12M464 399h12M491 413h12M417 417h12M501 415h12M540 404h12M484 406h12M500 377h12M522 401h12M532 410h12M523 371h12M546 409h12M386 422h12M518 429h12M525 447h12M346 418h12M468 405h12M505 401h12M539 417h12M468 407h12M513 431h12M530 413h12M430 421h12M531 445h12M497 409h12M318 416h12M535 438h12M556 429h12M525 419h12M521 394h12M484 400h12M506 408h12M491 394h12M539 426h12M519 401h12M524 432h12M530 439h12M516 408h12M511 386h12M502 407h12M523 433h12M539 425h12M492 408h12M407 407h12M397 409h12M512 437h12M466 405h12M550 426h12M395 420h12M519 431h12M322 425h12" stroke="#b7d630" stroke-width="12" fill="none"/>
<path d="M515 386h12M528 401h12M401 423h12M406 408h12M530 384h12M507 393h12M543 432h12M484 390h12M522 428h12M511 377h12M530 406h12M501 396h12M538 437h12M508 417h12M540 412h12M540 409h12M301 450h12M510 402h12M350 419h12M529 419h12M504 401h12M540 422h12M542 390h12M468 392h12M533 421h12M529 418h12M529 424h12M319 430h12M519 428h12M544 413h12" stroke="#dac028" stroke-width="12" fill="none"/>
<path d="M531 421h12M403 403h12M454 437h12M524 387h12M517 402h12M417 407h12M523 427h12M338 423h12M463 407h12M520 401h12M529 392h12M532 408h12M523 421h12M524 412h12M538 407h12" stroke="#f49d22" stroke-width="12" fill="none"/>
<path d="M302 440h12M542 403h12M531 419h12M310 409h12M523 414h12M527 411h12M536 409h12M539 392h12M516 410h12M529 413h12M532 436h12M508 414h12M554 419h12M528 418h12M530 420h12M516 394h12M514 405h12M521 390h12M514 412h12M501 420h12M513 412h12M518 401h12M524 416h12M480 419h12M407 409h12M511 397h12M504 418h12" stroke="#ee551d" stroke-width="12" fill="none"/>
</g>
<rect x="250.4" y="426.7" width="89.9" height="89.7" stroke="#8f8f8f" stroke-width="0.9" fill="none"/>
<line x1="288" y1="426.7" x2="288" y2="516.4" stroke="#9a9a9a" stroke-width="1.6"/>
<line x1="250.4" y1="479.8" x2="340.3" y2="479.8" stroke="#2e2e2e" stroke-width="1"/>
<text x="0" y="0" font-size="9.3" transform="translate(258.6,443.9) scale(1.04,1)" fill="#111">22.2</text>
<text x="0" y="0" font-size="9.3" text-anchor="end" transform="translate(330.1,443.9) scale(1.04,1)" fill="#111">77.6</text>
<text x="0" y="0" font-size="9.3" transform="translate(258.6,507.8) scale(1.04,1)" fill="#111">0.11</text>
<text x="0" y="0" font-size="9.3" text-anchor="end" transform="translate(330.1,507.8) scale(1.04,1)" fill="#111">0.10</text>
<line x1="248" y1="434.9" x2="250.4" y2="434.9" stroke="#444" stroke-width="0.8"/>
<text x="246.6" y="436.3" font-size="4" text-anchor="end" fill="#333">10<tspan font-size="2.7" dy="-1.6">5</tspan></text>
<line x1="248" y1="455.9" x2="250.4" y2="455.9" stroke="#444" stroke-width="0.8"/>
<text x="246.6" y="457.3" font-size="4" text-anchor="end" fill="#333">10<tspan font-size="2.7" dy="-1.6">4</tspan></text>
<line x1="248" y1="480.4" x2="250.4" y2="480.4" stroke="#444" stroke-width="0.8"/>
<text x="246.6" y="481.8" font-size="4" text-anchor="end" fill="#333">10<tspan font-size="2.7" dy="-1.6">3</tspan></text>
<line x1="248" y1="496.2" x2="250.4" y2="496.2" stroke="#444" stroke-width="0.8"/>
<text x="246.6" y="497.6" font-size="4" text-anchor="end" fill="#333">0</text>
<line x1="248" y1="512" x2="250.4" y2="512" stroke="#444" stroke-width="0.8"/>
<text x="246.6" y="513.4" font-size="4" text-anchor="end" fill="#333">-10<tspan font-size="2.7" dy="-1.6">3</tspan></text>
<line x1="249.1" y1="430.7" x2="250.4" y2="430.7" stroke="#777" stroke-width="0.5"/>
<line x1="249.1" y1="434" x2="250.4" y2="434" stroke="#777" stroke-width="0.5"/>
<line x1="249.1" y1="437.3" x2="250.4" y2="437.3" stroke="#777" stroke-width="0.5"/>
<line x1="249.1" y1="440.6" x2="250.4" y2="440.6" stroke="#777" stroke-width="0.5"/>
<line x1="249.1" y1="443.9" x2="250.4" y2="443.9" stroke="#777" stroke-width="0.5"/>
<line x1="249.1" y1="447.2" x2="250.4" y2="447.2" stroke="#777" stroke-width="0.5"/>
<line x1="249.1" y1="450.5" x2="250.4" y2="450.5" stroke="#777" stroke-width="0.5"/>
<line x1="249.1" y1="453.8" x2="250.4" y2="453.8" stroke="#777" stroke-width="0.5"/>
<line x1="249.1" y1="457.1" x2="250.4" y2="457.1" stroke="#777" stroke-width="0.5"/>
<line x1="249.1" y1="460.4" x2="250.4" y2="460.4" stroke="#777" stroke-width="0.5"/>
<line x1="249.1" y1="463.7" x2="250.4" y2="463.7" stroke="#777" stroke-width="0.5"/>
<line x1="249.1" y1="467" x2="250.4" y2="467" stroke="#777" stroke-width="0.5"/>
<line x1="249.1" y1="470.3" x2="250.4" y2="470.3" stroke="#777" stroke-width="0.5"/>
<line x1="249.1" y1="473.6" x2="250.4" y2="473.6" stroke="#777" stroke-width="0.5"/>
<line x1="249.1" y1="476.9" x2="250.4" y2="476.9" stroke="#777" stroke-width="0.5"/>
<line x1="249.1" y1="480.2" x2="250.4" y2="480.2" stroke="#777" stroke-width="0.5"/>
<line x1="249.1" y1="483.5" x2="250.4" y2="483.5" stroke="#777" stroke-width="0.5"/>
<line x1="249.1" y1="486.8" x2="250.4" y2="486.8" stroke="#777" stroke-width="0.5"/>
<line x1="249.1" y1="490.1" x2="250.4" y2="490.1" stroke="#777" stroke-width="0.5"/>
<line x1="249.1" y1="493.4" x2="250.4" y2="493.4" stroke="#777" stroke-width="0.5"/>
<line x1="249.1" y1="496.7" x2="250.4" y2="496.7" stroke="#777" stroke-width="0.5"/>
<line x1="249.1" y1="500" x2="250.4" y2="500" stroke="#777" stroke-width="0.5"/>
<line x1="249.1" y1="503.3" x2="250.4" y2="503.3" stroke="#777" stroke-width="0.5"/>
<line x1="249.1" y1="506.6" x2="250.4" y2="506.6" stroke="#777" stroke-width="0.5"/>
<line x1="249.1" y1="509.9" x2="250.4" y2="509.9" stroke="#777" stroke-width="0.5"/>
<line x1="249.1" y1="513.2" x2="250.4" y2="513.2" stroke="#777" stroke-width="0.5"/>
<rect x="248.4" y="494.4" width="1.8" height="3.4" fill="#222"/>
<line x1="255" y1="516.4" x2="255" y2="518.6" stroke="#444" stroke-width="0.8"/>
<text x="255" y="526.4" font-size="4" text-anchor="middle" fill="#333">-10<tspan font-size="2.7" dy="-1.6">3</tspan></text>
<line x1="270.8" y1="516.4" x2="270.8" y2="518.6" stroke="#444" stroke-width="0.8"/>
<text x="270.8" y="526.4" font-size="4" text-anchor="middle" fill="#333">0</text>
<line x1="287.4" y1="516.4" x2="287.4" y2="518.6" stroke="#444" stroke-width="0.8"/>
<text x="287.4" y="526.4" font-size="4" text-anchor="middle" fill="#333">10<tspan font-size="2.7" dy="-1.6">3</tspan></text>
<line x1="311.4" y1="516.4" x2="311.4" y2="518.6" stroke="#444" stroke-width="0.8"/>
<text x="311.4" y="526.4" font-size="4" text-anchor="middle" fill="#333">10<tspan font-size="2.7" dy="-1.6">4</tspan></text>
<line x1="332.1" y1="516.4" x2="332.1" y2="518.6" stroke="#444" stroke-width="0.8"/>
<text x="332.1" y="526.4" font-size="4" text-anchor="middle" fill="#333">10<tspan font-size="2.7" dy="-1.6">5</tspan></text>
<line x1="253.4" y1="516.4" x2="253.4" y2="517.8" stroke="#777" stroke-width="0.5"/>
<line x1="256.5" y1="516.4" x2="256.5" y2="517.8" stroke="#777" stroke-width="0.5"/>
<line x1="259.6" y1="516.4" x2="259.6" y2="517.8" stroke="#777" stroke-width="0.5"/>
<line x1="262.7" y1="516.4" x2="262.7" y2="517.8" stroke="#777" stroke-width="0.5"/>
<line x1="265.8" y1="516.4" x2="265.8" y2="517.8" stroke="#777" stroke-width="0.5"/>
<line x1="268.9" y1="516.4" x2="268.9" y2="517.8" stroke="#777" stroke-width="0.5"/>
<line x1="272" y1="516.4" x2="272" y2="517.8" stroke="#777" stroke-width="0.5"/>
<line x1="275.1" y1="516.4" x2="275.1" y2="517.8" stroke="#777" stroke-width="0.5"/>
<line x1="278.2" y1="516.4" x2="278.2" y2="517.8" stroke="#777" stroke-width="0.5"/>
<line x1="281.3" y1="516.4" x2="281.3" y2="517.8" stroke="#777" stroke-width="0.5"/>
<line x1="284.4" y1="516.4" x2="284.4" y2="517.8" stroke="#777" stroke-width="0.5"/>
<line x1="287.5" y1="516.4" x2="287.5" y2="517.8" stroke="#777" stroke-width="0.5"/>
<line x1="290.6" y1="516.4" x2="290.6" y2="517.8" stroke="#777" stroke-width="0.5"/>
<line x1="293.7" y1="516.4" x2="293.7" y2="517.8" stroke="#777" stroke-width="0.5"/>
<line x1="296.8" y1="516.4" x2="296.8" y2="517.8" stroke="#777" stroke-width="0.5"/>
<line x1="299.9" y1="516.4" x2="299.9" y2="517.8" stroke="#777" stroke-width="0.5"/>
<line x1="303" y1="516.4" x2="303" y2="517.8" stroke="#777" stroke-width="0.5"/>
<line x1="306.1" y1="516.4" x2="306.1" y2="517.8" stroke="#777" stroke-width="0.5"/>
<line x1="309.2" y1="516.4" x2="309.2" y2="517.8" stroke="#777" stroke-width="0.5"/>
<line x1="312.3" y1="516.4" x2="312.3" y2="517.8" stroke="#777" stroke-width="0.5"/>
<line x1="315.4" y1="516.4" x2="315.4" y2="517.8" stroke="#777" stroke-width="0.5"/>
<line x1="318.5" y1="516.4" x2="318.5" y2="517.8" stroke="#777" stroke-width="0.5"/>
<line x1="321.6" y1="516.4" x2="321.6" y2="517.8" stroke="#777" stroke-width="0.5"/>
<line x1="324.7" y1="516.4" x2="324.7" y2="517.8" stroke="#777" stroke-width="0.5"/>
<line x1="327.8" y1="516.4" x2="327.8" y2="517.8" stroke="#777" stroke-width="0.5"/>
<line x1="330.9" y1="516.4" x2="330.9" y2="517.8" stroke="#777" stroke-width="0.5"/>
<line x1="334" y1="516.4" x2="334" y2="517.8" stroke="#777" stroke-width="0.5"/>
<line x1="337.1" y1="516.4" x2="337.1" y2="517.8" stroke="#777" stroke-width="0.5"/>
<rect x="268.4" y="516.4" width="4.6" height="2.0" fill="#222"/>
</svg></body></html>
